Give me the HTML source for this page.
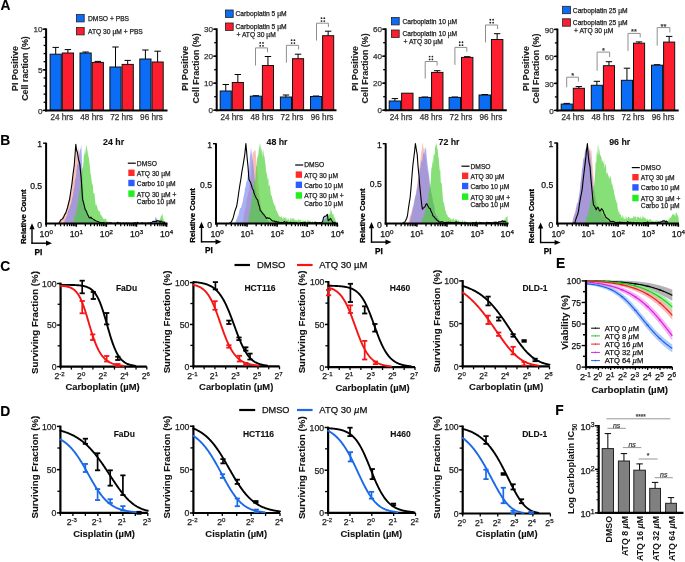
<!DOCTYPE html>
<html><head><meta charset="utf-8"><style>
html,body{margin:0;padding:0;background:#fff;}
svg{display:block;will-change:transform;filter:blur(0.3px);}
</style></head><body>
<svg width="685" height="562" viewBox="0 0 685 562" font-family='"Liberation Sans", sans-serif'>
<rect width="685" height="562" fill="#fff"/>
<text x="0.6" y="9.84" font-size="13.8" font-weight="bold" text-anchor="start" fill="#000" stroke="#000" stroke-width="0.12">A</text>
<line x1="43.6" y1="110.4" x2="46.1" y2="110.4" stroke="#000" stroke-width="1.3"/>
<line x1="43.6" y1="102.28" x2="46.1" y2="102.28" stroke="#000" stroke-width="1.3"/>
<line x1="43.6" y1="94.16" x2="46.1" y2="94.16" stroke="#000" stroke-width="1.3"/>
<line x1="43.6" y1="86.04" x2="46.1" y2="86.04" stroke="#000" stroke-width="1.3"/>
<line x1="43.6" y1="77.92" x2="46.1" y2="77.92" stroke="#000" stroke-width="1.3"/>
<line x1="43.6" y1="69.8" x2="46.1" y2="69.8" stroke="#000" stroke-width="1.3"/>
<line x1="43.6" y1="61.68" x2="46.1" y2="61.68" stroke="#000" stroke-width="1.3"/>
<line x1="43.6" y1="53.56" x2="46.1" y2="53.56" stroke="#000" stroke-width="1.3"/>
<line x1="43.6" y1="45.44" x2="46.1" y2="45.44" stroke="#000" stroke-width="1.3"/>
<line x1="43.6" y1="37.32" x2="46.1" y2="37.32" stroke="#000" stroke-width="1.3"/>
<line x1="43.6" y1="29.2" x2="46.1" y2="29.2" stroke="#000" stroke-width="1.3"/>
<line x1="55.7" y1="54.2" x2="55.7" y2="47.4" stroke="#000" stroke-width="1"/>
<line x1="52.5" y1="47.4" x2="58.9" y2="47.4" stroke="#000" stroke-width="1"/>
<rect x="50.1" y="54.2" width="11.2" height="56.2" fill="#0b6cf6" stroke="#111" stroke-width="1"/>
<line x1="67.9" y1="53" x2="67.9" y2="49.6" stroke="#000" stroke-width="1"/>
<line x1="64.7" y1="49.6" x2="71.1" y2="49.6" stroke="#000" stroke-width="1"/>
<rect x="62.3" y="53" width="11.2" height="57.4" fill="#fc1e2e" stroke="#111" stroke-width="1"/>
<line x1="85.6" y1="53" x2="85.6" y2="52" stroke="#000" stroke-width="1"/>
<line x1="82.4" y1="52" x2="88.8" y2="52" stroke="#000" stroke-width="1"/>
<rect x="80" y="53" width="11.2" height="57.4" fill="#0b6cf6" stroke="#111" stroke-width="1"/>
<line x1="97.8" y1="62.4" x2="97.8" y2="61.4" stroke="#000" stroke-width="1"/>
<line x1="94.6" y1="61.4" x2="101" y2="61.4" stroke="#000" stroke-width="1"/>
<rect x="92.2" y="62.4" width="11.2" height="48" fill="#fc1e2e" stroke="#111" stroke-width="1"/>
<line x1="115.5" y1="67" x2="115.5" y2="47" stroke="#000" stroke-width="1"/>
<line x1="112.3" y1="47" x2="118.7" y2="47" stroke="#000" stroke-width="1"/>
<rect x="109.9" y="67" width="11.2" height="43.4" fill="#0b6cf6" stroke="#111" stroke-width="1"/>
<line x1="127.7" y1="64.4" x2="127.7" y2="60.4" stroke="#000" stroke-width="1"/>
<line x1="124.5" y1="60.4" x2="130.9" y2="60.4" stroke="#000" stroke-width="1"/>
<rect x="122.1" y="64.4" width="11.2" height="46" fill="#fc1e2e" stroke="#111" stroke-width="1"/>
<line x1="145.4" y1="59" x2="145.4" y2="50" stroke="#000" stroke-width="1"/>
<line x1="142.2" y1="50" x2="148.6" y2="50" stroke="#000" stroke-width="1"/>
<rect x="139.8" y="59" width="11.2" height="51.4" fill="#0b6cf6" stroke="#111" stroke-width="1"/>
<line x1="157.6" y1="62" x2="157.6" y2="51.2" stroke="#000" stroke-width="1"/>
<line x1="154.4" y1="51.2" x2="160.8" y2="51.2" stroke="#000" stroke-width="1"/>
<rect x="152" y="62" width="11.2" height="48.4" fill="#fc1e2e" stroke="#111" stroke-width="1"/>
<line x1="46.1" y1="28.4" x2="46.1" y2="111.4" stroke="#000" stroke-width="2"/>
<line x1="45.1" y1="110.4" x2="167.5" y2="110.4" stroke="#000" stroke-width="2"/>
<line x1="42.6" y1="110.4" x2="46.1" y2="110.4" stroke="#000" stroke-width="1.4"/>
<text x="42.5" y="113.5" font-size="8.1" text-anchor="end" fill="#333" stroke="#333" stroke-width="0.25">0</text>
<line x1="42.6" y1="69.8" x2="46.1" y2="69.8" stroke="#000" stroke-width="1.4"/>
<text x="42.5" y="72.9" font-size="8.1" text-anchor="end" fill="#333" stroke="#333" stroke-width="0.25">5</text>
<line x1="42.6" y1="29.2" x2="46.1" y2="29.2" stroke="#000" stroke-width="1.4"/>
<text x="42.5" y="32.3" font-size="8.1" text-anchor="end" fill="#333" stroke="#333" stroke-width="0.25">10</text>
<text x="61.8" y="120.14" font-size="8.2" text-anchor="middle" fill="#333" stroke="#333" stroke-width="0.25">24 hrs</text>
<text x="91.7" y="120.14" font-size="8.2" text-anchor="middle" fill="#333" stroke="#333" stroke-width="0.25">48 hrs</text>
<text x="121.6" y="120.14" font-size="8.2" text-anchor="middle" fill="#333" stroke="#333" stroke-width="0.25">72 hrs</text>
<text x="151.5" y="120.14" font-size="8.2" text-anchor="middle" fill="#333" stroke="#333" stroke-width="0.25">96 hrs</text>
<text x="14.8" y="71.69" font-size="8.9" font-weight="bold" text-anchor="middle" fill="#222" stroke="#222" stroke-width="0.12" transform="rotate(-90 14.8 68.5)">PI Positive</text>
<text x="25.2" y="71.69" font-size="8.9" font-weight="bold" text-anchor="middle" fill="#222" stroke="#222" stroke-width="0.12" transform="rotate(-90 25.2 68.5)">Cell raction (%)</text>
<rect x="76.4" y="14.5" width="7.8" height="7.4" fill="#0b6cf6" stroke="#222" stroke-width="0.8"/>
<text x="88" y="20.8" font-size="6.7" text-anchor="start" fill="#222" stroke="#222" stroke-width="0.25">DMSO + PBS</text>
<rect x="76.4" y="27.5" width="7.8" height="7.4" fill="#fc1e2e" stroke="#222" stroke-width="0.8"/>
<text x="88" y="33.6" font-size="6.7" text-anchor="start" fill="#222" stroke="#222" stroke-width="0.25">ATQ 30 µM + PBS</text>
<line x1="214.2" y1="110.2" x2="216.7" y2="110.2" stroke="#000" stroke-width="1.3"/>
<line x1="214.2" y1="96.7" x2="216.7" y2="96.7" stroke="#000" stroke-width="1.3"/>
<line x1="214.2" y1="83.2" x2="216.7" y2="83.2" stroke="#000" stroke-width="1.3"/>
<line x1="214.2" y1="69.7" x2="216.7" y2="69.7" stroke="#000" stroke-width="1.3"/>
<line x1="214.2" y1="56.2" x2="216.7" y2="56.2" stroke="#000" stroke-width="1.3"/>
<line x1="214.2" y1="42.7" x2="216.7" y2="42.7" stroke="#000" stroke-width="1.3"/>
<line x1="214.2" y1="29.2" x2="216.7" y2="29.2" stroke="#000" stroke-width="1.3"/>
<line x1="225.75" y1="91" x2="225.75" y2="84.5" stroke="#000" stroke-width="1"/>
<line x1="222.55" y1="84.5" x2="228.95" y2="84.5" stroke="#000" stroke-width="1"/>
<rect x="220.2" y="91" width="11.1" height="19.2" fill="#0b6cf6" stroke="#111" stroke-width="1"/>
<line x1="237.85" y1="82.5" x2="237.85" y2="74.5" stroke="#000" stroke-width="1"/>
<line x1="234.65" y1="74.5" x2="241.05" y2="74.5" stroke="#000" stroke-width="1"/>
<rect x="232.3" y="82.5" width="11.1" height="27.7" fill="#fc1e2e" stroke="#111" stroke-width="1"/>
<line x1="255.85" y1="96.2" x2="255.85" y2="95.7" stroke="#000" stroke-width="1"/>
<line x1="252.65" y1="95.7" x2="259.05" y2="95.7" stroke="#000" stroke-width="1"/>
<rect x="250.3" y="96.2" width="11.1" height="14" fill="#0b6cf6" stroke="#111" stroke-width="1"/>
<line x1="267.95" y1="65.5" x2="267.95" y2="56.5" stroke="#000" stroke-width="1"/>
<line x1="264.75" y1="56.5" x2="271.15" y2="56.5" stroke="#000" stroke-width="1"/>
<rect x="262.4" y="65.5" width="11.1" height="44.7" fill="#fc1e2e" stroke="#111" stroke-width="1"/>
<line x1="285.95" y1="97" x2="285.95" y2="95" stroke="#000" stroke-width="1"/>
<line x1="282.75" y1="95" x2="289.15" y2="95" stroke="#000" stroke-width="1"/>
<rect x="280.4" y="97" width="11.1" height="13.2" fill="#0b6cf6" stroke="#111" stroke-width="1"/>
<line x1="298.05" y1="58.7" x2="298.05" y2="54.2" stroke="#000" stroke-width="1"/>
<line x1="294.85" y1="54.2" x2="301.25" y2="54.2" stroke="#000" stroke-width="1"/>
<rect x="292.5" y="58.7" width="11.1" height="51.5" fill="#fc1e2e" stroke="#111" stroke-width="1"/>
<line x1="316.05" y1="96.5" x2="316.05" y2="96" stroke="#000" stroke-width="1"/>
<line x1="312.85" y1="96" x2="319.25" y2="96" stroke="#000" stroke-width="1"/>
<rect x="310.5" y="96.5" width="11.1" height="13.7" fill="#0b6cf6" stroke="#111" stroke-width="1"/>
<line x1="328.15" y1="35.7" x2="328.15" y2="31.2" stroke="#000" stroke-width="1"/>
<line x1="324.95" y1="31.2" x2="331.35" y2="31.2" stroke="#000" stroke-width="1"/>
<rect x="322.6" y="35.7" width="11.1" height="74.5" fill="#fc1e2e" stroke="#111" stroke-width="1"/>
<line x1="216.7" y1="28.4" x2="216.7" y2="111.2" stroke="#000" stroke-width="2"/>
<line x1="215.7" y1="110.2" x2="336.5" y2="110.2" stroke="#000" stroke-width="2"/>
<line x1="213.2" y1="110.2" x2="216.7" y2="110.2" stroke="#000" stroke-width="1.4"/>
<text x="213.1" y="113.3" font-size="8.1" text-anchor="end" fill="#333" stroke="#333" stroke-width="0.25">0</text>
<line x1="213.2" y1="83.2" x2="216.7" y2="83.2" stroke="#000" stroke-width="1.4"/>
<text x="213.1" y="86.3" font-size="8.1" text-anchor="end" fill="#333" stroke="#333" stroke-width="0.25">10</text>
<line x1="213.2" y1="56.2" x2="216.7" y2="56.2" stroke="#000" stroke-width="1.4"/>
<text x="213.1" y="59.3" font-size="8.1" text-anchor="end" fill="#333" stroke="#333" stroke-width="0.25">20</text>
<line x1="213.2" y1="29.2" x2="216.7" y2="29.2" stroke="#000" stroke-width="1.4"/>
<text x="213.1" y="32.3" font-size="8.1" text-anchor="end" fill="#333" stroke="#333" stroke-width="0.25">30</text>
<text x="231.8" y="119.94" font-size="8.2" text-anchor="middle" fill="#333" stroke="#333" stroke-width="0.25">24 hrs</text>
<text x="261.9" y="119.94" font-size="8.2" text-anchor="middle" fill="#333" stroke="#333" stroke-width="0.25">48 hrs</text>
<text x="292" y="119.94" font-size="8.2" text-anchor="middle" fill="#333" stroke="#333" stroke-width="0.25">72 hrs</text>
<text x="322.1" y="119.94" font-size="8.2" text-anchor="middle" fill="#333" stroke="#333" stroke-width="0.25">96 hrs</text>
<text x="185.2" y="71.59" font-size="8.9" font-weight="bold" text-anchor="middle" fill="#222" stroke="#222" stroke-width="0.12" transform="rotate(-90 185.2 68.4)">PI Positive</text>
<text x="195.5" y="71.59" font-size="8.9" font-weight="bold" text-anchor="middle" fill="#222" stroke="#222" stroke-width="0.12" transform="rotate(-90 195.5 68.4)">Cell Fraction (%)</text>
<rect x="225.4" y="10" width="7.8" height="7.4" fill="#0b6cf6" stroke="#222" stroke-width="0.8"/>
<text x="235.5" y="16.3" font-size="6.7" text-anchor="start" fill="#222" stroke="#222" stroke-width="0.25">Carboplatin 5 µM</text>
<rect x="225.4" y="23" width="7.8" height="7.4" fill="#fc1e2e" stroke="#222" stroke-width="0.8"/>
<text x="235.5" y="28.8" font-size="6.7" text-anchor="start" fill="#222" stroke="#222" stroke-width="0.25">Carboplatin 5 µM</text>
<text x="236.5" y="36.6" font-size="6.7" text-anchor="start" fill="#222" stroke="#222" stroke-width="0.25">+ ATQ 30 µM</text>
<path d="M255.5 65.5 L255.5 47.9 L267.5 47.9 L267.5 52.2" stroke="#888" stroke-width="0.95" fill="none"/>
<circle cx="260.2" cy="42.95" r="0.9" fill="#222"/>
<circle cx="260.2" cy="45.85" r="0.9" fill="#222"/>
<circle cx="263" cy="42.95" r="0.9" fill="#222"/>
<circle cx="263" cy="45.85" r="0.9" fill="#222"/>
<path d="M286.4 62.7 L286.4 45.3 L298.6 45.3 L298.6 49.5" stroke="#888" stroke-width="0.95" fill="none"/>
<circle cx="291.6" cy="40.15" r="0.9" fill="#222"/>
<circle cx="291.6" cy="43.05" r="0.9" fill="#222"/>
<circle cx="294.4" cy="40.15" r="0.9" fill="#222"/>
<circle cx="294.4" cy="43.05" r="0.9" fill="#222"/>
<path d="M316.5 40.5 L316.5 23.2 L328.4 23.2 L328.4 27.1" stroke="#888" stroke-width="0.95" fill="none"/>
<circle cx="321.5" cy="18.15" r="0.9" fill="#222"/>
<circle cx="321.5" cy="21.05" r="0.9" fill="#222"/>
<circle cx="324.3" cy="18.15" r="0.9" fill="#222"/>
<circle cx="324.3" cy="21.05" r="0.9" fill="#222"/>
<line x1="383.2" y1="110.2" x2="385.7" y2="110.2" stroke="#000" stroke-width="1.3"/>
<line x1="383.2" y1="96.7" x2="385.7" y2="96.7" stroke="#000" stroke-width="1.3"/>
<line x1="383.2" y1="83.2" x2="385.7" y2="83.2" stroke="#000" stroke-width="1.3"/>
<line x1="383.2" y1="69.7" x2="385.7" y2="69.7" stroke="#000" stroke-width="1.3"/>
<line x1="383.2" y1="56.2" x2="385.7" y2="56.2" stroke="#000" stroke-width="1.3"/>
<line x1="383.2" y1="42.7" x2="385.7" y2="42.7" stroke="#000" stroke-width="1.3"/>
<line x1="383.2" y1="29.2" x2="385.7" y2="29.2" stroke="#000" stroke-width="1.3"/>
<line x1="394.9" y1="101" x2="394.9" y2="98.6" stroke="#000" stroke-width="1"/>
<line x1="391.7" y1="98.6" x2="398.1" y2="98.6" stroke="#000" stroke-width="1"/>
<rect x="389.2" y="101" width="11.4" height="9.2" fill="#0b6cf6" stroke="#111" stroke-width="1"/>
<rect x="401.6" y="93.2" width="11.4" height="17" fill="#fc1e2e" stroke="#111" stroke-width="1"/>
<line x1="424.85" y1="97.4" x2="424.85" y2="97" stroke="#000" stroke-width="1"/>
<line x1="421.65" y1="97" x2="428.05" y2="97" stroke="#000" stroke-width="1"/>
<rect x="419.15" y="97.4" width="11.4" height="12.8" fill="#0b6cf6" stroke="#111" stroke-width="1"/>
<line x1="437.25" y1="72.4" x2="437.25" y2="70.7" stroke="#000" stroke-width="1"/>
<line x1="434.05" y1="70.7" x2="440.45" y2="70.7" stroke="#000" stroke-width="1"/>
<rect x="431.55" y="72.4" width="11.4" height="37.8" fill="#fc1e2e" stroke="#111" stroke-width="1"/>
<line x1="454.8" y1="97.4" x2="454.8" y2="97" stroke="#000" stroke-width="1"/>
<line x1="451.6" y1="97" x2="458" y2="97" stroke="#000" stroke-width="1"/>
<rect x="449.1" y="97.4" width="11.4" height="12.8" fill="#0b6cf6" stroke="#111" stroke-width="1"/>
<line x1="467.2" y1="57.4" x2="467.2" y2="56.7" stroke="#000" stroke-width="1"/>
<line x1="464" y1="56.7" x2="470.4" y2="56.7" stroke="#000" stroke-width="1"/>
<rect x="461.5" y="57.4" width="11.4" height="52.8" fill="#fc1e2e" stroke="#111" stroke-width="1"/>
<line x1="484.75" y1="95" x2="484.75" y2="94.5" stroke="#000" stroke-width="1"/>
<line x1="481.55" y1="94.5" x2="487.95" y2="94.5" stroke="#000" stroke-width="1"/>
<rect x="479.05" y="95" width="11.4" height="15.2" fill="#0b6cf6" stroke="#111" stroke-width="1"/>
<line x1="497.15" y1="39.5" x2="497.15" y2="33.7" stroke="#000" stroke-width="1"/>
<line x1="493.95" y1="33.7" x2="500.35" y2="33.7" stroke="#000" stroke-width="1"/>
<rect x="491.45" y="39.5" width="11.4" height="70.7" fill="#fc1e2e" stroke="#111" stroke-width="1"/>
<line x1="385.7" y1="28.4" x2="385.7" y2="111.2" stroke="#000" stroke-width="2"/>
<line x1="384.7" y1="110.2" x2="506.8" y2="110.2" stroke="#000" stroke-width="2"/>
<line x1="382.2" y1="110.2" x2="385.7" y2="110.2" stroke="#000" stroke-width="1.4"/>
<text x="382.1" y="113.3" font-size="8.1" text-anchor="end" fill="#333" stroke="#333" stroke-width="0.25">0</text>
<line x1="382.2" y1="83.2" x2="385.7" y2="83.2" stroke="#000" stroke-width="1.4"/>
<text x="382.1" y="86.3" font-size="8.1" text-anchor="end" fill="#333" stroke="#333" stroke-width="0.25">20</text>
<line x1="382.2" y1="56.2" x2="385.7" y2="56.2" stroke="#000" stroke-width="1.4"/>
<text x="382.1" y="59.3" font-size="8.1" text-anchor="end" fill="#333" stroke="#333" stroke-width="0.25">40</text>
<line x1="382.2" y1="29.2" x2="385.7" y2="29.2" stroke="#000" stroke-width="1.4"/>
<text x="382.1" y="32.3" font-size="8.1" text-anchor="end" fill="#333" stroke="#333" stroke-width="0.25">60</text>
<text x="401.1" y="119.94" font-size="8.2" text-anchor="middle" fill="#333" stroke="#333" stroke-width="0.25">24 hrs</text>
<text x="431.05" y="119.94" font-size="8.2" text-anchor="middle" fill="#333" stroke="#333" stroke-width="0.25">48 hrs</text>
<text x="461" y="119.94" font-size="8.2" text-anchor="middle" fill="#333" stroke="#333" stroke-width="0.25">72 hrs</text>
<text x="490.95" y="119.94" font-size="8.2" text-anchor="middle" fill="#333" stroke="#333" stroke-width="0.25">96 hrs</text>
<text x="354.5" y="71.59" font-size="8.9" font-weight="bold" text-anchor="middle" fill="#222" stroke="#222" stroke-width="0.12" transform="rotate(-90 354.5 68.4)">PI Positive</text>
<text x="365" y="71.59" font-size="8.9" font-weight="bold" text-anchor="middle" fill="#222" stroke="#222" stroke-width="0.12" transform="rotate(-90 365 68.4)">Cell Fraction (%)</text>
<rect x="391.4" y="17.5" width="7.8" height="7.4" fill="#0b6cf6" stroke="#222" stroke-width="0.8"/>
<text x="402.4" y="23.8" font-size="6.7" text-anchor="start" fill="#222" stroke="#222" stroke-width="0.25">Carboplatin 10 µM</text>
<rect x="391.4" y="30" width="7.8" height="7.4" fill="#fc1e2e" stroke="#222" stroke-width="0.8"/>
<text x="402.4" y="35.8" font-size="6.7" text-anchor="start" fill="#222" stroke="#222" stroke-width="0.25">Carboplatin 10 µM</text>
<text x="403.5" y="44" font-size="6.7" text-anchor="start" fill="#222" stroke="#222" stroke-width="0.25">+ ATQ 30 µM</text>
<path d="M425.2 78.6 L425.2 61.5 L437.1 61.5 L437.1 65.5" stroke="#888" stroke-width="0.95" fill="none"/>
<circle cx="429.6" cy="56.55" r="0.9" fill="#222"/>
<circle cx="429.6" cy="59.45" r="0.9" fill="#222"/>
<circle cx="432.4" cy="56.55" r="0.9" fill="#222"/>
<circle cx="432.4" cy="59.45" r="0.9" fill="#222"/>
<path d="M454.9 64.9 L454.9 47.4 L466.8 47.4 L466.8 51.8" stroke="#888" stroke-width="0.95" fill="none"/>
<circle cx="459.7" cy="42.25" r="0.9" fill="#222"/>
<circle cx="459.7" cy="45.15" r="0.9" fill="#222"/>
<circle cx="462.5" cy="42.25" r="0.9" fill="#222"/>
<circle cx="462.5" cy="45.15" r="0.9" fill="#222"/>
<path d="M485.5 42.4 L485.5 25 L497.6 25 L497.6 29" stroke="#888" stroke-width="0.95" fill="none"/>
<circle cx="490.3" cy="19.75" r="0.9" fill="#222"/>
<circle cx="490.3" cy="22.65" r="0.9" fill="#222"/>
<circle cx="493.1" cy="19.75" r="0.9" fill="#222"/>
<circle cx="493.1" cy="22.65" r="0.9" fill="#222"/>
<line x1="554.9" y1="110.4" x2="557.4" y2="110.4" stroke="#000" stroke-width="1.3"/>
<line x1="554.9" y1="96.9" x2="557.4" y2="96.9" stroke="#000" stroke-width="1.3"/>
<line x1="554.9" y1="83.4" x2="557.4" y2="83.4" stroke="#000" stroke-width="1.3"/>
<line x1="554.9" y1="69.9" x2="557.4" y2="69.9" stroke="#000" stroke-width="1.3"/>
<line x1="554.9" y1="56.4" x2="557.4" y2="56.4" stroke="#000" stroke-width="1.3"/>
<line x1="554.9" y1="42.9" x2="557.4" y2="42.9" stroke="#000" stroke-width="1.3"/>
<line x1="554.9" y1="29.4" x2="557.4" y2="29.4" stroke="#000" stroke-width="1.3"/>
<line x1="566.75" y1="104.1" x2="566.75" y2="103.4" stroke="#000" stroke-width="1"/>
<line x1="563.55" y1="103.4" x2="569.95" y2="103.4" stroke="#000" stroke-width="1"/>
<rect x="561.2" y="104.1" width="11.1" height="6.3" fill="#0b6cf6" stroke="#111" stroke-width="1"/>
<line x1="578.85" y1="88.3" x2="578.85" y2="86.6" stroke="#000" stroke-width="1"/>
<line x1="575.65" y1="86.6" x2="582.05" y2="86.6" stroke="#000" stroke-width="1"/>
<rect x="573.3" y="88.3" width="11.1" height="22.1" fill="#fc1e2e" stroke="#111" stroke-width="1"/>
<line x1="596.85" y1="85.3" x2="596.85" y2="81.3" stroke="#000" stroke-width="1"/>
<line x1="593.65" y1="81.3" x2="600.05" y2="81.3" stroke="#000" stroke-width="1"/>
<rect x="591.3" y="85.3" width="11.1" height="25.1" fill="#0b6cf6" stroke="#111" stroke-width="1"/>
<line x1="608.95" y1="65.7" x2="608.95" y2="61.7" stroke="#000" stroke-width="1"/>
<line x1="605.75" y1="61.7" x2="612.15" y2="61.7" stroke="#000" stroke-width="1"/>
<rect x="603.4" y="65.7" width="11.1" height="44.7" fill="#fc1e2e" stroke="#111" stroke-width="1"/>
<line x1="626.95" y1="80.3" x2="626.95" y2="68.2" stroke="#000" stroke-width="1"/>
<line x1="623.75" y1="68.2" x2="630.15" y2="68.2" stroke="#000" stroke-width="1"/>
<rect x="621.4" y="80.3" width="11.1" height="30.1" fill="#0b6cf6" stroke="#111" stroke-width="1"/>
<line x1="639.05" y1="43.2" x2="639.05" y2="41.9" stroke="#000" stroke-width="1"/>
<line x1="635.85" y1="41.9" x2="642.25" y2="41.9" stroke="#000" stroke-width="1"/>
<rect x="633.5" y="43.2" width="11.1" height="67.2" fill="#fc1e2e" stroke="#111" stroke-width="1"/>
<line x1="657.05" y1="65.2" x2="657.05" y2="64.7" stroke="#000" stroke-width="1"/>
<line x1="653.85" y1="64.7" x2="660.25" y2="64.7" stroke="#000" stroke-width="1"/>
<rect x="651.5" y="65.2" width="11.1" height="45.2" fill="#0b6cf6" stroke="#111" stroke-width="1"/>
<line x1="669.15" y1="42.1" x2="669.15" y2="36.4" stroke="#000" stroke-width="1"/>
<line x1="665.95" y1="36.4" x2="672.35" y2="36.4" stroke="#000" stroke-width="1"/>
<rect x="663.6" y="42.1" width="11.1" height="68.3" fill="#fc1e2e" stroke="#111" stroke-width="1"/>
<line x1="557.4" y1="28.6" x2="557.4" y2="111.4" stroke="#000" stroke-width="2"/>
<line x1="556.4" y1="110.4" x2="678.7" y2="110.4" stroke="#000" stroke-width="2"/>
<line x1="553.9" y1="110.4" x2="557.4" y2="110.4" stroke="#000" stroke-width="1.4"/>
<text x="553.8" y="113.5" font-size="8.1" text-anchor="end" fill="#333" stroke="#333" stroke-width="0.25">0</text>
<line x1="553.9" y1="83.4" x2="557.4" y2="83.4" stroke="#000" stroke-width="1.4"/>
<text x="553.8" y="86.5" font-size="8.1" text-anchor="end" fill="#333" stroke="#333" stroke-width="0.25">30</text>
<line x1="553.9" y1="56.4" x2="557.4" y2="56.4" stroke="#000" stroke-width="1.4"/>
<text x="553.8" y="59.5" font-size="8.1" text-anchor="end" fill="#333" stroke="#333" stroke-width="0.25">60</text>
<line x1="553.9" y1="29.4" x2="557.4" y2="29.4" stroke="#000" stroke-width="1.4"/>
<text x="553.8" y="32.5" font-size="8.1" text-anchor="end" fill="#333" stroke="#333" stroke-width="0.25">90</text>
<text x="572.8" y="120.14" font-size="8.2" text-anchor="middle" fill="#333" stroke="#333" stroke-width="0.25">24 hrs</text>
<text x="602.9" y="120.14" font-size="8.2" text-anchor="middle" fill="#333" stroke="#333" stroke-width="0.25">48 hrs</text>
<text x="633" y="120.14" font-size="8.2" text-anchor="middle" fill="#333" stroke="#333" stroke-width="0.25">72 hrs</text>
<text x="663.1" y="120.14" font-size="8.2" text-anchor="middle" fill="#333" stroke="#333" stroke-width="0.25">96 hrs</text>
<text x="525.5" y="71.79" font-size="8.9" font-weight="bold" text-anchor="middle" fill="#222" stroke="#222" stroke-width="0.12" transform="rotate(-90 525.5 68.6)">PI Positive</text>
<text x="536.1" y="71.79" font-size="8.9" font-weight="bold" text-anchor="middle" fill="#222" stroke="#222" stroke-width="0.12" transform="rotate(-90 536.1 68.6)">Cell Fraction (%)</text>
<rect x="562.6" y="6.3" width="7.8" height="7.4" fill="#0b6cf6" stroke="#222" stroke-width="0.8"/>
<text x="572.8" y="12.6" font-size="6.7" text-anchor="start" fill="#222" stroke="#222" stroke-width="0.25">Carboplatin 25 µM</text>
<rect x="562.6" y="18.8" width="7.8" height="7.4" fill="#fc1e2e" stroke="#222" stroke-width="0.8"/>
<text x="572.8" y="25.2" font-size="6.7" text-anchor="start" fill="#222" stroke="#222" stroke-width="0.25">Carboplatin 25 µM</text>
<text x="574" y="33.4" font-size="6.7" text-anchor="start" fill="#222" stroke="#222" stroke-width="0.25">+ ATQ 30 µM</text>
<path d="M566.7 87.3 L566.7 77.2 L578.4 77.2 L578.4 81.5" stroke="#888" stroke-width="0.95" fill="none"/>
<text x="572.6" y="78.24" font-size="7.5" text-anchor="middle" fill="#333" stroke="#333" stroke-width="0.25">*</text>
<path d="M597.1 70.7 L597.1 52.1 L609.6 52.1 L609.6 57" stroke="#888" stroke-width="0.95" fill="none"/>
<text x="603.4" y="52.84" font-size="7.5" text-anchor="middle" fill="#333" stroke="#333" stroke-width="0.25">*</text>
<path d="M628 50.9 L628 33.4 L640.2 33.4 L640.2 37.4" stroke="#888" stroke-width="0.95" fill="none"/>
<text x="633.9" y="34.44" font-size="7.5" text-anchor="middle" fill="#333" stroke="#333" stroke-width="0.25">**</text>
<path d="M657.2 45.6 L657.2 27.6 L669.8 27.6 L669.8 32.5" stroke="#888" stroke-width="0.95" fill="none"/>
<text x="663.5" y="29.13" font-size="7.5" text-anchor="middle" fill="#333" stroke="#333" stroke-width="0.25">**</text>
<text x="0.2" y="145.24" font-size="13.8" font-weight="bold" text-anchor="start" fill="#000" stroke="#000" stroke-width="0.12">B</text>
<path d="M58 223.6 L58 223.23 L58.5 223.08 L59 222.76 L59.5 221.18 L60 219.91 L60.5 220.05 L61 219.76 L61.5 219.56 L62 217 L62.5 216 L63 216.86 L63.5 215.78 L64 215.93 L64.5 214.54 L65 212.56 L65.5 211.49 L66 213.68 L66.5 209.68 L67.02 206.86 L67.54 204.15 L68.07 203.46 L68.59 201.31 L69.11 198.41 L69.63 196.58 L70.16 194.85 L70.68 193.28 L71.2 191.73 L71.78 186.6 L72.35 179.44 L72.92 179.99 L73.5 172.4 L74.07 170.78 L74.63 164.32 L75.2 163.3 L75.85 152.99 L76.5 146.48 L77 154.34 L77.5 147.89 L78 150.85 L78.5 147.11 L79 152.63 L79.5 157.89 L80 159.56 L80.5 163.75 L81 168.87 L81.5 172.48 L82 180.99 L82.5 185.34 L83 196.16 L83.5 199.31 L84 203.3 L84.5 204.8 L85 208.33 L85.5 208.92 L86 213.05 L86.5 212.54 L87 214.6 L87.5 214.61 L88 214.8 L88.5 214.61 L89 216.7 L89.5 217.08 L90 218.73 L90.5 217.69 L91 219.1 L91.5 219.72 L92 220.2 L92.5 220.33 L93 220.49 L93.5 220.13 L94 220.04 L94.5 220.64 L95 221.46 L95.5 222.22 L96 222.05 L96.5 222.26 L97 222.26 L97.5 222.39 L98 222.26 L98.5 222.76 L99 223.46 L99.5 222.53 L100 222.54 L100.5 223.6 L101 223.35 L101.5 223.6 L102 223.6 L102 223.6 Z" fill="rgb(245,75,50)" fill-opacity="0.35"/>
<path d="M63.5 223.6 L63.5 223.17 L64 222.49 L64.5 220.95 L65 219.54 L65.5 219.42 L66 217.47 L66.5 215.94 L67 216.65 L67.5 213.22 L68 211.17 L68.5 209.76 L69 209.42 L69.52 208.55 L70.04 206.61 L70.57 204.8 L71.09 203.6 L71.61 201.29 L72.13 197.63 L72.66 196.47 L73.18 193.28 L73.7 189.17 L74.23 187.62 L74.76 182.55 L75.29 178.27 L75.81 178.53 L76.34 172.5 L76.87 166.26 L77.4 163.25 L77.93 164.93 L78.45 156.24 L78.97 155.04 L79.5 151.49 L80.1 149.76 L80.7 148.45 L81.3 144.53 L82.1 162.67 L82.9 186.83 L83.43 192.53 L83.97 200.22 L84.5 207.02 L85 205.55 L85.5 208.85 L86 208.66 L86.5 210.59 L87 212.67 L87.5 214.59 L88 215.65 L88.5 214.13 L89 218.13 L89.5 217.1 L90 217.22 L90.5 218.75 L91 218.14 L91.5 217.93 L92 219.84 L92.5 220.21 L93 219.74 L93.5 221.32 L94 221.42 L94.5 220.9 L95 223.06 L95.5 222.28 L96 221.56 L96.5 222.55 L97 222.46 L97.5 223 L98 221.84 L98.5 223.2 L99 223.22 L99.5 223.18 L100 223.22 L100.5 223.6 L101 223.43 L101.5 223.24 L102 222.9 L102.5 223.6 L103 223.6 L103.5 223.6 L104 223.6 L104.5 223.6 L105 222.85 L105.5 223.6 L106 222.86 L106.5 223.6 L107 223.6 L107.5 223.6 L108 223.47 L108.5 223.6 L109 223.59 L109.5 222.94 L110 223.6 L110.5 223.6 L111 223.6 L111.5 223.33 L112 223.6 L112.5 223.6 L113 223.6 L113.5 223.6 L114 223.6 L114.5 223.49 L115 223.53 L115.5 223.6 L116 223.37 L116.5 223.6 L117 223.6 L117.5 223.23 L118 223.6 L118.5 223.6 L119 223.18 L119.5 223.6 L120 223.54 L120.5 223.6 L121 223.6 L121.5 223.49 L122 223.44 L122.5 223.6 L123 223.47 L123.5 223.6 L124 223.14 L124.5 223.56 L125 223.54 L125.5 223.4 L126 223.55 L126.5 223.6 L127 223.41 L127.5 223.18 L128 223.6 L128.5 223.6 L129 223.4 L129.5 223.6 L130 222.83 L130.5 223.6 L131 223.21 L131.5 223.45 L132 223.6 L132.5 223.23 L133 223.6 L133.5 223.29 L134 223.05 L134.5 223.26 L135 223.6 L135.5 223.22 L136 223.43 L136.5 223.6 L137 223.57 L137.5 223.22 L138 223.6 L138.5 223.6 L139 223.6 L139.5 223.3 L140 223.6 L140.5 223.2 L141 223.08 L141.5 223.48 L142 223.5 L142.5 223.6 L143 223.44 L143.5 223.6 L144 223.6 L144.5 223.42 L145 223.2 L145.5 223.49 L146 223.6 L146.5 223.6 L147 223.51 L147.5 223.31 L148 223.6 L148.5 223.6 L149 223.4 L149.5 223.6 L150 223.6 L150.5 223.53 L151 222.94 L151.5 223.6 L152 222.84 L152.5 221.84 L153 222.87 L153.5 221.99 L154 222.66 L154.57 220.38 L155.13 218 L155.7 216.89 L156.27 217.65 L156.85 218.75 L157.43 220.72 L158 222.51 L158.5 222.46 L159 222.78 L159.5 222.97 L160 223.6 L160 223.6 Z" fill="rgb(110,125,238)" fill-opacity="0.6"/>
<path d="M72.7 223.6 L72.7 223.57 L73.26 222.92 L73.82 218.99 L74.38 215.85 L74.94 216.27 L75.5 214.89 L76.04 212.34 L76.58 210.31 L77.12 207.07 L77.66 203.99 L78.2 201.39 L78.75 197.12 L79.3 191.55 L79.85 189.21 L80.4 183.41 L80.95 173.65 L81.5 173.36 L82 168.61 L82.5 168.82 L83 167.07 L83.5 161.62 L84 152.08 L84.5 156.21 L85.08 147.56 L85.65 154.78 L86.22 145.95 L86.8 145.25 L87.3 154.92 L87.8 147.81 L88.3 156.7 L88.8 157.18 L89.3 162.37 L89.88 165.72 L90.46 173.67 L91.04 175.2 L91.62 180.84 L92.2 185.54 L92.75 183.34 L93.3 193.33 L93.85 192.92 L94.4 193.25 L94.95 198.43 L95.5 204.37 L96 205.75 L96.5 204.01 L97 206.56 L97.5 207.97 L98 210.42 L98.5 209.77 L99 212.62 L99.5 210.68 L100 211.77 L100.5 214.52 L101 215.38 L101.5 215.16 L102 216.79 L102.5 217.09 L103 218.22 L103.5 219.14 L104 218.86 L104.5 219.65 L105 218.82 L105.5 219.15 L106 217.89 L106.5 221.06 L107 221.18 L107.5 222.08 L108 220.62 L108.5 222.23 L109 222.28 L109.5 221.52 L110 223.5 L110.5 223.6 L111 222.25 L111.5 223.45 L112 223.6 L112.5 222.67 L113 223.6 L113.5 223.6 L114 223.6 L114.5 223.09 L115 223.21 L115.5 223.6 L116 223.6 L116.5 223.13 L117 223.34 L117.5 223.19 L118 223.6 L118.5 223.42 L119 223.6 L119.5 223.6 L120 223.6 L120.5 223.6 L121 223.6 L121.5 223.6 L122 223.6 L122.5 223.13 L123 223.43 L123.5 223.6 L124 223.6 L124.5 223.5 L125 223.6 L125.5 223.6 L126 223.6 L126.5 223.6 L127 223.6 L127.5 223.54 L128 223.6 L128.5 223.6 L129 223.6 L129.5 223.09 L130 223.6 L130.5 223.6 L131 223.6 L131.5 222.54 L132 223.6 L132.5 223.15 L133 223.55 L133.5 223.44 L134 223.31 L134.5 223.6 L135 223.6 L135.5 223.6 L136 223.25 L136.5 223.57 L137 223.6 L137.5 223.6 L138 223.35 L138.5 223.28 L139 223.4 L139.5 223.6 L140 223.6 L140.5 223.6 L141 223.6 L141.5 223.6 L142 223.6 L142.5 223.6 L143 223.6 L143.5 223.57 L144 223.58 L144.5 223.6 L145 223.34 L145.5 223.09 L146 223.6 L146.5 223.44 L147 223.6 L147.5 223.4 L148 223.6 L148.5 223.6 L149 223.45 L149.5 223.6 L150 223.35 L150.53 223.32 L151.06 223.6 L151.59 223.55 L152.11 223.21 L152.64 222.59 L153.17 223.45 L153.7 223.6 L154.23 221.23 L154.76 223.41 L155.29 222.7 L155.81 223.26 L156.34 223.21 L156.87 221.4 L157.4 223.48 L157.92 220.98 L158.44 220.67 L158.96 220.92 L159.48 219.62 L160 219.4 L160.6 217.33 L161.2 215.46 L161.8 215.56 L162.4 212.87 L162.9 217.96 L163.4 218.5 L163.9 221.55 L164.4 221.09 L164.93 221.1 L165.47 221.68 L166 223.49 L166 223.6 Z" fill="rgb(73,207,49)" fill-opacity="0.66"/>
<path d="M58.6 223.23 L59.45 222.46 L60.3 220.7 L61.15 219.63 L62 219.17 L62.92 218.5 L63.85 216.52 L64.78 214.33 L65.7 213.17 L66.67 210.06 L67.65 207.22 L68.62 203.04 L69.6 199.24 L70.75 191.48 L71.9 183.99 L73.1 173.67 L74.3 165.04 L75.8 144.37 L76.6 150.28 L77.4 152.47 L78.6 159.89 L79.8 163.91 L81.3 179.87 L82.6 199.65 L83.47 202.3 L84.33 205.84 L85.2 209.6 L86.17 210.75 L87.15 213.47 L88.12 215.62 L89.1 217.54 L89.98 218.04 L90.86 217.15 L91.73 218.44 L92.61 218.49 L93.49 219.74 L94.37 219.88 L95.24 220.46 L96.12 221.07 L97 221.19 L97.94 221.77 L98.88 221.81 L99.82 223.05 L100.76 222.55 L101.7 223.01 L102.53 222.51 L103.36 222.61 L104.2 222.8 L105.03 223.27 L105.86 223.27 L106.69 223.14 L107.52 222.89 L108.35 223.6 L109.19 222.8 L110.02 222.86 L110.85 223.25 L111.68 222.84 L112.51 223.2 L113.35 223.41 L114.18 223.13 L115.01 223.27 L115.84 223.18 L116.67 222.99 L117.5 222.32 L118.34 222.86 L119.17 223.2 L120 222.76 L120.81 223.05 L121.62 223.26 L122.43 223.56 L123.24 222.81 L124.05 223.04 L124.86 223.24 L125.68 223.32 L126.49 222.79 L127.3 223.67 L128.11 222.93 L128.92 223.45 L129.73 223.09 L130.54 223.25 L131.35 223.6 L132.16 223.33 L132.97 223.16 L133.78 222.84 L134.59 222.93 L135.41 222.71 L136.22 223.67 L137.03 222.66 L137.84 222.36 L138.65 223.55 L139.46 223.44 L140.27 222.97 L141.08 223.31 L141.89 222.83 L142.7 222.89 L143.51 223.2 L144.32 223.16 L145.14 222.91 L145.95 223.5 L146.76 223.24 L147.57 223.07 L148.38 222.68 L149.19 223.06 L150 222.92 L151 222.49 L152 222.29 L153 221.3 L153.8 221.51 L154.6 221.61 L155.4 221.35 L156.2 222 L157 220.33 L157.8 221.09 L158.6 220.76 L159.4 221.29 L160.2 222.35 L161 220.9 L161.8 221.61 L162.6 222.14 L163.4 222.14 L164.2 222.62 L165 222.01" stroke="#000" stroke-width="1.1" fill="none" stroke-linejoin="round"/>
<line x1="46.1" y1="142.7" x2="46.1" y2="224.6" stroke="#000" stroke-width="2"/>
<line x1="45.1" y1="223.6" x2="167.5" y2="223.6" stroke="#000" stroke-width="2"/>
<line x1="43.1" y1="143.2" x2="46.1" y2="143.2" stroke="#000" stroke-width="1.4"/>
<text x="42.1" y="147.48" font-size="8.6" text-anchor="end" fill="#111" stroke="#111" stroke-width="0.25">1</text>
<text x="42.1" y="188.88" font-size="8.6" text-anchor="end" fill="#111" stroke="#111" stroke-width="0.25">0.5</text>
<text x="42.1" y="228.08" font-size="8.6" text-anchor="end" fill="#111" stroke="#111" stroke-width="0.25">0</text>
<line x1="46.2" y1="223.6" x2="46.2" y2="226.8" stroke="#000" stroke-width="1.5"/>
<line x1="55.26" y1="223.6" x2="55.26" y2="226.2" stroke="#000" stroke-width="1.3"/>
<line x1="60.56" y1="223.6" x2="60.56" y2="226.2" stroke="#000" stroke-width="1.3"/>
<line x1="64.32" y1="223.6" x2="64.32" y2="226.2" stroke="#000" stroke-width="1.3"/>
<line x1="67.24" y1="223.6" x2="67.24" y2="226.2" stroke="#000" stroke-width="1.3"/>
<line x1="69.62" y1="223.6" x2="69.62" y2="226.2" stroke="#000" stroke-width="1.3"/>
<line x1="71.64" y1="223.6" x2="71.64" y2="226.2" stroke="#000" stroke-width="1.3"/>
<line x1="73.38" y1="223.6" x2="73.38" y2="226.2" stroke="#000" stroke-width="1.3"/>
<line x1="74.92" y1="223.6" x2="74.92" y2="226.2" stroke="#000" stroke-width="1.3"/>
<text x="46.2" y="237.05" font-size="8.8" text-anchor="middle" fill="#111" stroke="#111" stroke-width="0.25">10<tspan font-size="70%" dy="-3">0</tspan></text>
<line x1="76.3" y1="223.6" x2="76.3" y2="226.8" stroke="#000" stroke-width="1.5"/>
<line x1="85.36" y1="223.6" x2="85.36" y2="226.2" stroke="#000" stroke-width="1.3"/>
<line x1="90.66" y1="223.6" x2="90.66" y2="226.2" stroke="#000" stroke-width="1.3"/>
<line x1="94.42" y1="223.6" x2="94.42" y2="226.2" stroke="#000" stroke-width="1.3"/>
<line x1="97.34" y1="223.6" x2="97.34" y2="226.2" stroke="#000" stroke-width="1.3"/>
<line x1="99.72" y1="223.6" x2="99.72" y2="226.2" stroke="#000" stroke-width="1.3"/>
<line x1="101.74" y1="223.6" x2="101.74" y2="226.2" stroke="#000" stroke-width="1.3"/>
<line x1="103.48" y1="223.6" x2="103.48" y2="226.2" stroke="#000" stroke-width="1.3"/>
<line x1="105.02" y1="223.6" x2="105.02" y2="226.2" stroke="#000" stroke-width="1.3"/>
<text x="76.3" y="237.05" font-size="8.8" text-anchor="middle" fill="#111" stroke="#111" stroke-width="0.25">10<tspan font-size="70%" dy="-3">1</tspan></text>
<line x1="106.4" y1="223.6" x2="106.4" y2="226.8" stroke="#000" stroke-width="1.5"/>
<line x1="115.46" y1="223.6" x2="115.46" y2="226.2" stroke="#000" stroke-width="1.3"/>
<line x1="120.76" y1="223.6" x2="120.76" y2="226.2" stroke="#000" stroke-width="1.3"/>
<line x1="124.52" y1="223.6" x2="124.52" y2="226.2" stroke="#000" stroke-width="1.3"/>
<line x1="127.44" y1="223.6" x2="127.44" y2="226.2" stroke="#000" stroke-width="1.3"/>
<line x1="129.82" y1="223.6" x2="129.82" y2="226.2" stroke="#000" stroke-width="1.3"/>
<line x1="131.84" y1="223.6" x2="131.84" y2="226.2" stroke="#000" stroke-width="1.3"/>
<line x1="133.58" y1="223.6" x2="133.58" y2="226.2" stroke="#000" stroke-width="1.3"/>
<line x1="135.12" y1="223.6" x2="135.12" y2="226.2" stroke="#000" stroke-width="1.3"/>
<text x="106.4" y="237.05" font-size="8.8" text-anchor="middle" fill="#111" stroke="#111" stroke-width="0.25">10<tspan font-size="70%" dy="-3">2</tspan></text>
<line x1="136.5" y1="223.6" x2="136.5" y2="226.8" stroke="#000" stroke-width="1.5"/>
<line x1="145.56" y1="223.6" x2="145.56" y2="226.2" stroke="#000" stroke-width="1.3"/>
<line x1="150.86" y1="223.6" x2="150.86" y2="226.2" stroke="#000" stroke-width="1.3"/>
<line x1="154.62" y1="223.6" x2="154.62" y2="226.2" stroke="#000" stroke-width="1.3"/>
<line x1="157.54" y1="223.6" x2="157.54" y2="226.2" stroke="#000" stroke-width="1.3"/>
<line x1="159.92" y1="223.6" x2="159.92" y2="226.2" stroke="#000" stroke-width="1.3"/>
<line x1="161.94" y1="223.6" x2="161.94" y2="226.2" stroke="#000" stroke-width="1.3"/>
<line x1="163.68" y1="223.6" x2="163.68" y2="226.2" stroke="#000" stroke-width="1.3"/>
<line x1="165.22" y1="223.6" x2="165.22" y2="226.2" stroke="#000" stroke-width="1.3"/>
<text x="136.5" y="237.05" font-size="8.8" text-anchor="middle" fill="#111" stroke="#111" stroke-width="0.25">10<tspan font-size="70%" dy="-3">3</tspan></text>
<line x1="166.6" y1="223.6" x2="166.6" y2="226.8" stroke="#000" stroke-width="1.5"/>
<text x="166.6" y="237.05" font-size="8.8" text-anchor="middle" fill="#111" stroke="#111" stroke-width="0.25">10<tspan font-size="70%" dy="-3">4</tspan></text>
<text x="113.6" y="144.65" font-size="8.8" font-weight="bold" text-anchor="middle" fill="#111" stroke="#111" stroke-width="0.12">24 hr</text>
<line x1="127.8" y1="163.2" x2="135.8" y2="163.2" stroke="#000" stroke-width="1.2"/>
<text x="136.8" y="165.6" font-size="6.7" text-anchor="start" fill="#222" stroke="#222" stroke-width="0.25">DMSO</text>
<rect x="128.3" y="169.6" width="6.3" height="6.4" fill="#ff2a2a"/>
<text x="136.8" y="175.9" font-size="6.7" text-anchor="start" fill="#222" stroke="#222" stroke-width="0.25">ATQ 30 µM</text>
<rect x="128.3" y="179.8" width="6.3" height="6.4" fill="#2a5cff"/>
<text x="136.8" y="185.8" font-size="6.7" text-anchor="start" fill="#222" stroke="#222" stroke-width="0.25">Carbo 10 µM</text>
<rect x="128.3" y="190.4" width="6.3" height="6.5" fill="#22ee22"/>
<text x="136.8" y="196.5" font-size="6.7" text-anchor="start" fill="#222" stroke="#222" stroke-width="0.25">ATQ 30 µM +</text>
<text x="136.8" y="203.9" font-size="6.7" text-anchor="start" fill="#222" stroke="#222" stroke-width="0.25">Carbo 10 µM</text>
<text x="23.4" y="219.59" font-size="7.8" font-weight="bold" text-anchor="middle" fill="#000" stroke="#000" stroke-width="0.25" transform="rotate(-90 23.4 216.8)">Relative Count</text>
<path d="M32 243.8 L32 227" stroke="#000" stroke-width="1.4" fill="none"/>
<path d="M29.4 229.3 L32 223.2 L34.6 229.3 Z" fill="#000"/>
<path d="M31.4 243.2 L48 243.2" stroke="#000" stroke-width="1.4" fill="none"/>
<path d="M46 240.6 L52 243.2 L46 245.8 Z" fill="#000"/>
<text x="38.3" y="254.74" font-size="8.2" font-weight="bold" text-anchor="middle" fill="#000" stroke="#000" stroke-width="0.25">PI</text>
<path d="M242.5 223.6 L242.5 223.23 L243.04 221.08 L243.59 218.87 L244.13 214.81 L244.67 211.14 L245.21 209.67 L245.76 207.54 L246.3 205.59 L246.82 199.52 L247.33 196.28 L247.85 196.09 L248.37 192.73 L248.88 191.4 L249.4 187.52 L249.97 181.12 L250.55 176.2 L251.12 176.93 L251.7 166.94 L252.5 153.64 L253 151.43 L253.5 152.64 L254 151.32 L254.5 149.92 L255 150.2 L255.5 150.6 L256 156.47 L256.5 162.25 L257 167.91 L257.5 171.72 L258 182.88 L258.5 186.05 L259 194.75 L259.5 195.4 L260 200 L260.5 201.48 L261 205.27 L261.5 211.4 L262 209.95 L262.5 211.91 L263 210.61 L263.5 212.71 L264 214.65 L264.5 214.91 L265 216.34 L265.5 217.09 L266 217.17 L266.5 219.01 L267 218.5 L267.5 221.06 L268 219.88 L268.5 221.26 L269 221.36 L269.5 222.48 L270 222.16 L270.5 223.5 L271 223.56 L271 223.6 Z" fill="rgb(245,75,50)" fill-opacity="0.35"/>
<path d="M235 223.6 L235 223.17 L235.5 222.37 L236 220.7 L236.5 219.17 L237 218.95 L237.5 216.87 L238 215.2 L238.5 215.86 L239 212.23 L239.5 210.02 L240 208.49 L240.5 208.05 L241 208.08 L241.51 205.99 L242.02 204.04 L242.53 202.7 L243.04 200.23 L243.56 196.39 L244.07 195.09 L244.58 191.73 L245.09 187.43 L245.6 187.34 L246.1 183.53 L246.6 180.52 L247.1 181.92 L247.6 177.21 L248.1 172.34 L248.6 170.55 L249.2 169.26 L249.8 157.89 L250.4 153.87 L251 147.53 L251.7 152.99 L252.4 158.86 L252.93 161.46 L253.47 166.36 L254 171.8 L254.5 175.94 L255 182.52 L255.5 188.18 L256 188.67 L256.5 193.43 L257 193.62 L257.5 196.58 L258 199.75 L258.5 202.72 L259 204.52 L259.5 203.1 L260 209.23 L260.5 208.5 L261 209.35 L261.5 212.05 L262 211.93 L262.5 212.37 L263 215.52 L263.5 215.94 L264 215.29 L264.5 217.3 L265 217.38 L265.5 216.58 L266 219.5 L266.5 218.76 L267 218.15 L267.5 219.88 L268 220.13 L268.5 221.21 L269 220.14 L269.5 222.19 L270 222.58 L270.5 222.56 L271 222.64 L271.5 223.15 L272 222.95 L272.5 222.76 L273 222.41 L273.5 223.5 L274 223.55 L274.5 223.36 L275 223.42 L275.5 223.6 L276 222.85 L276.5 223.6 L277 222.86 L277.5 223.6 L278 223.6 L278.5 223.6 L279 223.47 L279.5 223.6 L280 223.59 L280.5 222.94 L281 223.6 L281.5 223.6 L282 223.6 L282.5 223.33 L283 223.6 L283.5 223.6 L284 223.6 L284.5 223.6 L285 223.6 L285.5 223.49 L286 223.53 L286.5 223.6 L287 223.37 L287.5 223.6 L288 223.6 L288.5 223.23 L289 223.6 L289.5 223.6 L290 223.18 L290.5 223.6 L291 223.54 L291.5 223.6 L292 223.6 L292.5 223.49 L293 223.44 L293.5 223.6 L294 223.47 L294.5 223.6 L295 223.14 L295.5 223.56 L296 223.54 L296.5 223.4 L297 223.55 L297.5 223.6 L298 223.41 L298.5 223.18 L299 223.6 L299.5 223.6 L300 223.4 L300.5 223.6 L301 222.83 L301.5 223.6 L302 223.21 L302.5 223.45 L303 223.6 L303.5 223.23 L304 223.6 L304.5 223.29 L305 223.05 L305.5 223.26 L306 223.6 L306.5 223.22 L307 223.43 L307.5 223.6 L308 223.57 L308.5 223.22 L309 223.6 L309.5 223.6 L310 223.6 L310.5 223.3 L311 223.6 L311.5 223.2 L312 223.08 L312.5 223.48 L313 223.5 L313.5 223.6 L314 223.44 L314.5 223.6 L315 223.6 L315.5 223.42 L316 223.2 L316.5 223.49 L317 223.6 L317.5 223.6 L318 223.51 L318.5 223.31 L319 223.6 L319.5 223.6 L320 223.4 L320.5 223.6 L321 223.6 L321.5 222.85 L322 221.41 L322.5 221.79 L323 219.98 L323.5 217.87 L324 219.04 L324.5 217.35 L325 217.98 L325.5 216.94 L326 215.98 L326.5 216.45 L327 215.59 L327.5 216.66 L328 218.72 L328.5 220.64 L329 219.84 L329.5 219.47 L330 218.86 L330.5 219.48 L331 220.15 L331.5 221.52 L332 222.01 L332.5 223.6 L333 223.14 L333 223.6 Z" fill="rgb(110,125,238)" fill-opacity="0.6"/>
<path d="M247.9 223.6 L247.9 223.57 L248.4 222.01 L248.9 216.75 L249.4 212.34 L249.9 212.08 L250.4 209.72 L250.9 206.42 L251.47 202.56 L252.05 197.25 L252.62 192.1 L253.2 187.53 L253.77 185.24 L254.35 181.41 L254.93 181.11 L255.5 176.98 L256.07 166.41 L256.65 165.88 L257.23 158.16 L257.8 155.79 L258.3 154.96 L258.8 150.13 L259.3 142.5 L259.88 149.18 L260.45 143.23 L261.03 153.49 L261.6 147.54 L262.18 150.48 L262.75 157.96 L263.32 148.92 L263.9 155.7 L264.47 156.39 L265.05 161.81 L265.62 164.92 L266.2 172.66 L266.72 172.66 L267.23 176.84 L267.75 180.09 L268.27 176.97 L268.78 186.87 L269.3 185.59 L269.8 184.5 L270.3 188.78 L270.8 194.08 L271.3 196.32 L271.8 194.91 L272.3 198.52 L272.82 200.3 L273.33 203.28 L273.85 202.66 L274.37 206.14 L274.88 204.45 L275.4 206.3 L275.92 209.68 L276.44 210.88 L276.96 210.82 L277.48 212.9 L278 213.45 L278.55 215.03 L279.1 216.35 L279.65 216.31 L280.2 217.48 L280.75 216.84 L281.3 217.5 L281.81 215.52 L282.32 218.68 L282.84 218.3 L283.35 218.91 L283.86 216.27 L284.37 217.87 L284.88 217.84 L285.39 216.51 L285.91 219.55 L286.42 219.94 L286.93 217.25 L287.44 219.18 L287.95 220.62 L288.46 217.46 L288.98 219.9 L289.49 220.6 L290 220.94 L290.52 217.51 L291.04 217.89 L291.55 219.3 L292.07 220.42 L292.59 217.85 L293.11 218.44 L293.62 218.12 L294.14 220.5 L294.66 218.81 L295.18 220.05 L295.69 220.17 L296.21 220.76 L296.73 220.04 L297.25 220.01 L297.76 220.9 L298.28 220.25 L298.8 218.53 L299.31 219.35 L299.82 220.87 L300.32 220.18 L300.83 219.76 L301.34 220.43 L301.85 223.51 L302.36 220.29 L302.87 220.88 L303.38 220.92 L303.88 220.3 L304.39 221.77 L304.9 221.52 L305.41 221.16 L305.92 219.6 L306.43 222.09 L306.93 221.71 L307.44 221 L307.95 218.72 L308.46 221.17 L308.97 220.22 L309.48 221.17 L309.98 221 L310.49 220.81 L311 222.47 L311.5 221.72 L312 222.69 L312.5 220.84 L313 221.53 L313.5 222.86 L314 222.01 L314.5 221.15 L315 221.03 L315.5 221.3 L316 221.75 L316.5 222.41 L317 221.99 L317.5 222.51 L318 222.6 L318.5 222.03 L319 223.01 L319.5 222.58 L320 221.85 L320.5 221.89 L321 222.03 L321.5 221.47 L322 221.02 L322.5 221.75 L323 220.9 L323.5 221.52 L324 220.04 L324.5 220.33 L325 220.07 L325.5 219 L326 219.33 L326.5 217.48 L327 216.96 L327.5 217.62 L328 216.3 L328.5 214.97 L329 213.08 L329.55 213.95 L330.1 214.71 L330.65 207.24 L331.2 211.03 L331.76 211.06 L332.32 213.69 L332.88 215.07 L333.44 213.43 L334 218.33 L334.5 216.69 L335 218.38 L335.5 220.54 L336 221.09 L336.5 222.62 L337 223.43 L337 223.6 Z" fill="rgb(73,207,49)" fill-opacity="0.66"/>
<path d="M229 223.23 L229.8 223.17 L230.6 222.29 L231.4 222.01 L232.27 219.85 L233.13 217.95 L234 214.69 L234.87 211.15 L235.73 208.74 L236.6 206.58 L237.47 201.64 L238.35 195.22 L239.22 189.21 L240.1 183.61 L241 178.3 L241.9 171.66 L242.8 166.74 L243.7 161.34 L244.8 154.24 L245.9 143.47 L247.2 158.65 L248.05 166.93 L248.9 179.38 L249.77 181.02 L250.63 182.69 L251.5 185.51 L252.4 188.71 L253.3 189.98 L254.2 193.5 L255.07 195.63 L255.93 197.41 L256.8 199.11 L257.68 199.91 L258.55 204.17 L259.43 206.51 L260.3 210.62 L261.17 211.23 L262.03 212.49 L262.9 213.78 L263.77 214.36 L264.63 215.9 L265.5 216.66 L266.39 218.48 L267.27 217.7 L268.16 218.37 L269.05 218.02 L269.94 218.61 L270.83 219.36 L271.71 220.5 L272.6 220.92 L273.47 221.01 L274.33 220.94 L275.2 222.15 L276.07 221.38 L276.93 221.73 L277.8 222.47 L278.62 222.01 L279.44 222.45 L280.27 222.71 L281.09 222.39 L281.91 222.57 L282.73 222.48 L283.56 222.28 L284.38 221.51 L285.2 222.16 L286.02 222.57 L286.84 222.08 L287.67 222.45 L288.49 222.71 L289.31 223.09 L290.13 222.28 L290.96 222.56 L291.78 222.82 L292.6 222.94 L293.42 222.38 L294.24 223.39 L295.07 222.61 L295.89 223.21 L296.71 222.85 L297.53 223.05 L298.36 223.45 L299.18 223.19 L300 223.05 L300.81 222.7 L301.61 222.79 L302.42 222.55 L303.23 223.54 L304.04 222.48 L304.84 222.16 L305.65 223.39 L306.46 223.27 L307.27 222.77 L308.07 223.11 L308.88 222.6 L309.69 222.66 L310.5 222.97 L311.3 222.92 L312.11 222.65 L312.92 223.27 L313.73 222.99 L314.53 222.79 L315.34 222.36 L316.15 222.76 L316.96 222.6 L317.76 222.66 L318.57 222.92 L319.38 222.47 L320.19 222.72 L320.99 222.88 L321.8 222.72 L322.65 221.5 L323.5 217.7 L324.7 216.18 L325.9 216.21 L327.4 214.38 L328.2 220.8 L329.4 219.63 L330.6 218.38 L331.5 220.29 L332.4 221.55 L333 222.9 L334 222.26 L335 223.17 L336 222.73" stroke="#000" stroke-width="1.1" fill="none" stroke-linejoin="round"/>
<line x1="216" y1="143.2" x2="216" y2="224.6" stroke="#000" stroke-width="2"/>
<line x1="215" y1="223.6" x2="338" y2="223.6" stroke="#000" stroke-width="2"/>
<line x1="213" y1="143.7" x2="216" y2="143.7" stroke="#000" stroke-width="1.4"/>
<text x="212" y="147.98" font-size="8.6" text-anchor="end" fill="#111" stroke="#111" stroke-width="0.25">1</text>
<text x="212" y="187.58" font-size="8.6" text-anchor="end" fill="#111" stroke="#111" stroke-width="0.25">0.5</text>
<text x="212" y="228.08" font-size="8.6" text-anchor="end" fill="#111" stroke="#111" stroke-width="0.25">0</text>
<line x1="217" y1="223.6" x2="217" y2="226.8" stroke="#000" stroke-width="1.5"/>
<line x1="226.06" y1="223.6" x2="226.06" y2="226.2" stroke="#000" stroke-width="1.3"/>
<line x1="231.36" y1="223.6" x2="231.36" y2="226.2" stroke="#000" stroke-width="1.3"/>
<line x1="235.12" y1="223.6" x2="235.12" y2="226.2" stroke="#000" stroke-width="1.3"/>
<line x1="238.04" y1="223.6" x2="238.04" y2="226.2" stroke="#000" stroke-width="1.3"/>
<line x1="240.42" y1="223.6" x2="240.42" y2="226.2" stroke="#000" stroke-width="1.3"/>
<line x1="242.44" y1="223.6" x2="242.44" y2="226.2" stroke="#000" stroke-width="1.3"/>
<line x1="244.18" y1="223.6" x2="244.18" y2="226.2" stroke="#000" stroke-width="1.3"/>
<line x1="245.72" y1="223.6" x2="245.72" y2="226.2" stroke="#000" stroke-width="1.3"/>
<text x="217" y="237.05" font-size="8.8" text-anchor="middle" fill="#111" stroke="#111" stroke-width="0.25">10<tspan font-size="70%" dy="-3">0</tspan></text>
<line x1="247.1" y1="223.6" x2="247.1" y2="226.8" stroke="#000" stroke-width="1.5"/>
<line x1="256.16" y1="223.6" x2="256.16" y2="226.2" stroke="#000" stroke-width="1.3"/>
<line x1="261.46" y1="223.6" x2="261.46" y2="226.2" stroke="#000" stroke-width="1.3"/>
<line x1="265.22" y1="223.6" x2="265.22" y2="226.2" stroke="#000" stroke-width="1.3"/>
<line x1="268.14" y1="223.6" x2="268.14" y2="226.2" stroke="#000" stroke-width="1.3"/>
<line x1="270.52" y1="223.6" x2="270.52" y2="226.2" stroke="#000" stroke-width="1.3"/>
<line x1="272.54" y1="223.6" x2="272.54" y2="226.2" stroke="#000" stroke-width="1.3"/>
<line x1="274.28" y1="223.6" x2="274.28" y2="226.2" stroke="#000" stroke-width="1.3"/>
<line x1="275.82" y1="223.6" x2="275.82" y2="226.2" stroke="#000" stroke-width="1.3"/>
<text x="247.1" y="237.05" font-size="8.8" text-anchor="middle" fill="#111" stroke="#111" stroke-width="0.25">10<tspan font-size="70%" dy="-3">1</tspan></text>
<line x1="277.2" y1="223.6" x2="277.2" y2="226.8" stroke="#000" stroke-width="1.5"/>
<line x1="286.26" y1="223.6" x2="286.26" y2="226.2" stroke="#000" stroke-width="1.3"/>
<line x1="291.56" y1="223.6" x2="291.56" y2="226.2" stroke="#000" stroke-width="1.3"/>
<line x1="295.32" y1="223.6" x2="295.32" y2="226.2" stroke="#000" stroke-width="1.3"/>
<line x1="298.24" y1="223.6" x2="298.24" y2="226.2" stroke="#000" stroke-width="1.3"/>
<line x1="300.62" y1="223.6" x2="300.62" y2="226.2" stroke="#000" stroke-width="1.3"/>
<line x1="302.64" y1="223.6" x2="302.64" y2="226.2" stroke="#000" stroke-width="1.3"/>
<line x1="304.38" y1="223.6" x2="304.38" y2="226.2" stroke="#000" stroke-width="1.3"/>
<line x1="305.92" y1="223.6" x2="305.92" y2="226.2" stroke="#000" stroke-width="1.3"/>
<text x="277.2" y="237.05" font-size="8.8" text-anchor="middle" fill="#111" stroke="#111" stroke-width="0.25">10<tspan font-size="70%" dy="-3">2</tspan></text>
<line x1="307.3" y1="223.6" x2="307.3" y2="226.8" stroke="#000" stroke-width="1.5"/>
<line x1="316.36" y1="223.6" x2="316.36" y2="226.2" stroke="#000" stroke-width="1.3"/>
<line x1="321.66" y1="223.6" x2="321.66" y2="226.2" stroke="#000" stroke-width="1.3"/>
<line x1="325.42" y1="223.6" x2="325.42" y2="226.2" stroke="#000" stroke-width="1.3"/>
<line x1="328.34" y1="223.6" x2="328.34" y2="226.2" stroke="#000" stroke-width="1.3"/>
<line x1="330.72" y1="223.6" x2="330.72" y2="226.2" stroke="#000" stroke-width="1.3"/>
<line x1="332.74" y1="223.6" x2="332.74" y2="226.2" stroke="#000" stroke-width="1.3"/>
<line x1="334.48" y1="223.6" x2="334.48" y2="226.2" stroke="#000" stroke-width="1.3"/>
<line x1="336.02" y1="223.6" x2="336.02" y2="226.2" stroke="#000" stroke-width="1.3"/>
<text x="307.3" y="237.05" font-size="8.8" text-anchor="middle" fill="#111" stroke="#111" stroke-width="0.25">10<tspan font-size="70%" dy="-3">3</tspan></text>
<line x1="337.4" y1="223.6" x2="337.4" y2="226.8" stroke="#000" stroke-width="1.5"/>
<text x="337.4" y="237.05" font-size="8.8" text-anchor="middle" fill="#111" stroke="#111" stroke-width="0.25">10<tspan font-size="70%" dy="-3">4</tspan></text>
<text x="277" y="144.65" font-size="8.8" font-weight="bold" text-anchor="middle" fill="#111" stroke="#111" stroke-width="0.12">48 hr</text>
<line x1="295.2" y1="165" x2="303.2" y2="165" stroke="#000" stroke-width="1.2"/>
<text x="304.2" y="167.4" font-size="6.7" text-anchor="start" fill="#222" stroke="#222" stroke-width="0.25">DMSO</text>
<rect x="295.7" y="171.4" width="6.3" height="6.4" fill="#ff2a2a"/>
<text x="304.2" y="177.7" font-size="6.7" text-anchor="start" fill="#222" stroke="#222" stroke-width="0.25">ATQ 30 µM</text>
<rect x="295.7" y="181.6" width="6.3" height="6.4" fill="#2a5cff"/>
<text x="304.2" y="187.6" font-size="6.7" text-anchor="start" fill="#222" stroke="#222" stroke-width="0.25">Carbo 10 µM</text>
<rect x="295.7" y="192.2" width="6.3" height="6.5" fill="#22ee22"/>
<text x="304.2" y="198.3" font-size="6.7" text-anchor="start" fill="#222" stroke="#222" stroke-width="0.25">ATQ 30 µM +</text>
<text x="304.2" y="205.7" font-size="6.7" text-anchor="start" fill="#222" stroke="#222" stroke-width="0.25">Carbo 10 µM</text>
<text x="192.7" y="218.19" font-size="7.8" font-weight="bold" text-anchor="middle" fill="#000" stroke="#000" stroke-width="0.25" transform="rotate(-90 192.7 215.4)">Relative Count</text>
<path d="M201.5 242.4 L201.5 225.6" stroke="#000" stroke-width="1.4" fill="none"/>
<path d="M198.9 227.9 L201.5 221.8 L204.1 227.9 Z" fill="#000"/>
<path d="M200.9 241.8 L217.5 241.8" stroke="#000" stroke-width="1.4" fill="none"/>
<path d="M215.5 239.2 L221.5 241.8 L215.5 244.4 Z" fill="#000"/>
<text x="208.8" y="253.34" font-size="8.2" font-weight="bold" text-anchor="middle" fill="#000" stroke="#000" stroke-width="0.25">PI</text>
<path d="M408 223.6 L408 223.23 L408.5 222.11 L409 220.87 L409.5 218.04 L410 215.57 L410.5 214.96 L411 213.79 L411.5 212.76 L412 208.52 L412.5 206.66 L413 207.3 L413.5 205.33 L414 205.01 L414.5 202.62 L415.05 197.87 L415.6 194.32 L416.15 195.42 L416.7 187.69 L417.25 183.55 L417.8 179.61 L418.35 178.46 L418.9 175.27 L419.42 168.59 L419.95 163.38 L420.48 158.32 L421 153.5 L421.7 150.18 L422.4 143.98 L422.93 142.5 L423.47 149.39 L424 146.89 L424.5 152.3 L425 152.21 L425.5 158 L426 159.07 L426.5 163.76 L427 172.5 L427.5 169.16 L428 174.08 L428.5 173.34 L429 178.49 L429.5 183.39 L430 185.35 L430.5 189.34 L431 192.16 L431.5 192.9 L432 197.61 L432.5 198.07 L433 204.09 L433.5 203.36 L434 207.23 L434.5 208.8 L435 212.22 L435.5 213 L436 215.47 L436.5 215.3 L437 217.46 L437.5 217.77 L438 218.26 L438.5 218.45 L439 220.52 L439.5 221.18 L440 222.76 L440.5 222.5 L441 223.6 L441 223.6 Z" fill="rgb(245,75,50)" fill-opacity="0.35"/>
<path d="M409.3 223.6 L409.3 223.17 L409.82 221.52 L410.34 218.93 L410.86 216.49 L411.38 215.61 L411.9 212.52 L412.42 209.92 L412.94 210.1 L413.46 205.15 L413.98 201.91 L414.5 199.46 L415.05 197.27 L415.6 195.7 L416.15 192.76 L416.7 189.98 L417.25 187.95 L417.8 184.55 L418.35 179.48 L418.9 177.49 L419.42 173.29 L419.94 167.98 L420.46 167.71 L420.98 163.21 L421.5 159.67 L422.05 162.45 L422.6 158.07 L423.15 153.56 L423.7 152.6 L424.25 156.07 L424.8 148.54 L425.35 148.91 L425.9 146.83 L426.5 153.53 L427.1 160.64 L427.7 165.45 L428.2 169.27 L428.7 173.62 L429.2 177.02 L429.7 182.84 L430.2 187.78 L430.7 187.49 L431.2 193.53 L431.74 193.85 L432.27 196.94 L432.81 200.22 L433.35 203.31 L433.89 205.25 L434.43 205.35 L434.96 212.55 L435.5 213.38 L436.03 213.9 L436.56 216.04 L437.09 215.72 L437.62 215.88 L438.15 218.4 L438.68 219.19 L439.21 219.12 L439.74 221.18 L440.27 221.7 L440.8 221.7 L441.32 223.44 L441.85 222.79 L442.38 222.24 L442.9 223.2 L443.43 223.2 L443.95 223.6 L444.48 222.93 L445 223.6 L445 223.6 Z" fill="rgb(110,125,238)" fill-opacity="0.6"/>
<path d="M420.7 223.6 L420.7 223.57 L421.22 223.38 L421.74 220.18 L422.26 217.73 L422.78 218.47 L423.3 217.59 L423.82 215.98 L424.34 214.84 L424.86 212.65 L425.38 210.6 L425.9 208.98 L426.4 206.78 L426.9 203.49 L427.4 202.87 L427.9 199.37 L428.4 192.66 L428.9 193.67 L429.4 189.16 L429.92 187.25 L430.44 183.76 L430.96 177.03 L431.48 166.49 L432 168.34 L432.54 159.13 L433.08 164.69 L433.62 155.23 L434.16 153.42 L434.7 156.27 L435.27 143.76 L435.83 147.45 L436.4 142.5 L437 146.95 L437.6 149.04 L438.2 156.32 L438.72 158.35 L439.24 165.05 L439.76 170.69 L440.28 169.51 L440.8 182.19 L441.32 182.74 L441.84 184.18 L442.36 191.02 L442.88 198.69 L443.4 203.35 L443.9 202.28 L444.4 205.67 L444.9 207.87 L445.4 211.08 L445.9 211.27 L446.4 214.81 L446.9 214.3 L447.42 214.9 L447.93 217 L448.45 217.43 L448.97 216.85 L449.48 217.98 L450 217.87 L450.52 218.87 L451.03 219.66 L451.55 219.29 L452.07 219.96 L452.58 219.04 L453.1 219.25 L453.6 217.54 L454.1 220.39 L454.6 220.1 L455.1 220.68 L455.6 218.41 L456.1 219.85 L456.6 219.87 L457.1 218.77 L457.6 221.44 L458.1 221.81 L458.6 219.56 L459.1 221.25 L459.6 222.5 L460.1 219.9 L460.6 221.98 L461.1 222.59 L461.6 222.91 L462.1 220.15 L462.6 220.5 L463.1 221.69 L463.6 222.62 L464.11 220.56 L464.62 221.02 L465.14 220.75 L465.65 222.65 L466.16 221.28 L466.68 222.26 L467.19 222.35 L467.7 222.8 L468.21 222.22 L468.73 222.18 L469.24 222.88 L469.75 222.36 L470.26 220.98 L470.78 221.6 L471.29 222.79 L471.8 222.2 L472.31 221.84 L472.82 222.35 L473.34 223.6 L473.85 222.18 L474.36 222.62 L474.88 222.63 L475.39 222.1 L475.9 223.25 L476.41 223.02 L476.93 222.7 L477.44 221.41 L477.95 223.41 L478.46 223.06 L478.98 222.46 L479.49 220.57 L480 222.54 L480.5 221.68 L481 222.39 L481.5 222.17 L482 221.92 L482.5 223.27 L483 222.59 L483.5 223.42 L484 221.76 L484.5 222.33 L485 223.48 L485.5 222.69 L486 221.89 L486.5 221.75 L487 221.96 L487.5 222.33 L488 222.91 L488.5 222.49 L489 222.94 L489.5 222.99 L490 222.43 L490.5 223.32 L491 222.88 L491.5 222.16 L492 222.16 L492.5 222.26 L493 221.69 L493.5 221.2 L494 222.27 L494.5 221.82 L495 222.67 L495.5 221.73 L496 222.27 L496.5 222.33 L497 221.79 L497.5 222.3 L498 221.56 L498.5 221.78 L499 222.75 L499.5 222.41 L500 222.09 L500.5 221.14 L501 222.1 L501.5 222.99 L502 218.89 L502.5 221.61 L503 220.52 L503.5 221.11 L504 220.91 L504.5 218.35 L505 220.98 L505.6 217.53 L506.2 216.98 L506.8 217.14 L507.4 215.33 L508 223.6 L508 223.6 Z" fill="rgb(73,207,49)" fill-opacity="0.66"/>
<path d="M402 223.41 L402.97 223.3 L403.93 222.36 L404.9 222.01 L405.77 220.13 L406.63 218.49 L407.5 215.53 L408.37 208.74 L409.23 203.09 L410.1 197.78 L411 188.19 L411.9 176.82 L412.8 165.94 L413.67 158.77 L414.53 151.94 L415.4 143.51 L416.3 149.24 L417.2 154.35 L418.05 166.34 L418.9 174.97 L419.8 186.42 L420.7 195.19 L421.55 203.25 L422.4 209.32 L423.3 207.97 L424.2 207.41 L425.07 206.58 L425.93 204.26 L426.8 203.77 L427.67 205.57 L428.53 207.08 L429.4 208.51 L430.27 208.58 L431.15 211.58 L432.02 212.95 L432.9 215.82 L433.78 216.42 L434.66 217.55 L435.54 218.71 L436.42 219.3 L437.3 220.65 L438.18 220.76 L439.05 222.23 L439.93 221.73 L440.8 222.32 L441.61 221.75 L442.42 221.87 L443.23 222.1 L444.04 222.65 L444.86 222.66 L445.67 222.52 L446.48 222.24 L447.29 223.06 L448.1 222.16 L448.91 222.23 L449.72 222.68 L450.53 222.23 L451.34 222.65 L452.16 222.89 L452.97 222.58 L453.78 222.75 L454.59 222.65 L455.4 222.45 L456.21 221.7 L457.02 222.32 L457.83 222.72 L458.64 222.24 L459.46 222.59 L460.27 222.84 L461.08 223.2 L461.89 222.4 L462.7 222.68 L463.51 222.92 L464.32 223.03 L465.13 222.48 L465.94 223.46 L466.76 222.69 L467.57 223.27 L468.38 222.91 L469.19 223.11 L470 223.49 L470.8 223.2 L471.6 223.02 L472.4 222.67 L473.2 222.76 L474 222.52 L474.8 223.52 L475.6 222.45 L476.4 222.13 L477.2 223.37 L478 223.25 L478.8 222.75 L479.6 223.09 L480.4 222.58 L481.2 222.64 L482 222.95 L482.8 222.9 L483.6 222.63 L484.4 223.25 L485.2 222.97 L486 222.77 L486.8 222.34 L487.6 222.74 L488.4 222.58 L489.2 222.64 L490 222.91 L490.8 222.46 L491.6 222.71 L492.4 222.86 L493.2 222.71 L494 223.31 L494.8 222.01 L495.6 222.53 L496.4 222.16 L497.2 222.5 L498 223.32 L498.8 221.65 L499.6 221.81 L500.4 221.85 L501.2 221.35 L502 221.37 L502.8 220.62 L503.6 221.78 L504.4 221.26 L505.2 221.37 L506 222.21" stroke="#000" stroke-width="1.1" fill="none" stroke-linejoin="round"/>
<line x1="385.7" y1="143.2" x2="385.7" y2="224.6" stroke="#000" stroke-width="2"/>
<line x1="384.7" y1="223.6" x2="508.5" y2="223.6" stroke="#000" stroke-width="2"/>
<line x1="382.7" y1="143.7" x2="385.7" y2="143.7" stroke="#000" stroke-width="1.4"/>
<text x="381.7" y="147.98" font-size="8.6" text-anchor="end" fill="#111" stroke="#111" stroke-width="0.25">1</text>
<text x="381.7" y="186.88" font-size="8.6" text-anchor="end" fill="#111" stroke="#111" stroke-width="0.25">0.5</text>
<text x="381.7" y="228.08" font-size="8.6" text-anchor="end" fill="#111" stroke="#111" stroke-width="0.25">0</text>
<line x1="386.8" y1="223.6" x2="386.8" y2="226.8" stroke="#000" stroke-width="1.5"/>
<line x1="395.86" y1="223.6" x2="395.86" y2="226.2" stroke="#000" stroke-width="1.3"/>
<line x1="401.16" y1="223.6" x2="401.16" y2="226.2" stroke="#000" stroke-width="1.3"/>
<line x1="404.92" y1="223.6" x2="404.92" y2="226.2" stroke="#000" stroke-width="1.3"/>
<line x1="407.84" y1="223.6" x2="407.84" y2="226.2" stroke="#000" stroke-width="1.3"/>
<line x1="410.22" y1="223.6" x2="410.22" y2="226.2" stroke="#000" stroke-width="1.3"/>
<line x1="412.24" y1="223.6" x2="412.24" y2="226.2" stroke="#000" stroke-width="1.3"/>
<line x1="413.98" y1="223.6" x2="413.98" y2="226.2" stroke="#000" stroke-width="1.3"/>
<line x1="415.52" y1="223.6" x2="415.52" y2="226.2" stroke="#000" stroke-width="1.3"/>
<text x="386.8" y="237.05" font-size="8.8" text-anchor="middle" fill="#111" stroke="#111" stroke-width="0.25">10<tspan font-size="70%" dy="-3">0</tspan></text>
<line x1="416.9" y1="223.6" x2="416.9" y2="226.8" stroke="#000" stroke-width="1.5"/>
<line x1="425.96" y1="223.6" x2="425.96" y2="226.2" stroke="#000" stroke-width="1.3"/>
<line x1="431.26" y1="223.6" x2="431.26" y2="226.2" stroke="#000" stroke-width="1.3"/>
<line x1="435.02" y1="223.6" x2="435.02" y2="226.2" stroke="#000" stroke-width="1.3"/>
<line x1="437.94" y1="223.6" x2="437.94" y2="226.2" stroke="#000" stroke-width="1.3"/>
<line x1="440.32" y1="223.6" x2="440.32" y2="226.2" stroke="#000" stroke-width="1.3"/>
<line x1="442.34" y1="223.6" x2="442.34" y2="226.2" stroke="#000" stroke-width="1.3"/>
<line x1="444.08" y1="223.6" x2="444.08" y2="226.2" stroke="#000" stroke-width="1.3"/>
<line x1="445.62" y1="223.6" x2="445.62" y2="226.2" stroke="#000" stroke-width="1.3"/>
<text x="416.9" y="237.05" font-size="8.8" text-anchor="middle" fill="#111" stroke="#111" stroke-width="0.25">10<tspan font-size="70%" dy="-3">1</tspan></text>
<line x1="447" y1="223.6" x2="447" y2="226.8" stroke="#000" stroke-width="1.5"/>
<line x1="456.06" y1="223.6" x2="456.06" y2="226.2" stroke="#000" stroke-width="1.3"/>
<line x1="461.36" y1="223.6" x2="461.36" y2="226.2" stroke="#000" stroke-width="1.3"/>
<line x1="465.12" y1="223.6" x2="465.12" y2="226.2" stroke="#000" stroke-width="1.3"/>
<line x1="468.04" y1="223.6" x2="468.04" y2="226.2" stroke="#000" stroke-width="1.3"/>
<line x1="470.42" y1="223.6" x2="470.42" y2="226.2" stroke="#000" stroke-width="1.3"/>
<line x1="472.44" y1="223.6" x2="472.44" y2="226.2" stroke="#000" stroke-width="1.3"/>
<line x1="474.18" y1="223.6" x2="474.18" y2="226.2" stroke="#000" stroke-width="1.3"/>
<line x1="475.72" y1="223.6" x2="475.72" y2="226.2" stroke="#000" stroke-width="1.3"/>
<text x="447" y="237.05" font-size="8.8" text-anchor="middle" fill="#111" stroke="#111" stroke-width="0.25">10<tspan font-size="70%" dy="-3">2</tspan></text>
<line x1="477.1" y1="223.6" x2="477.1" y2="226.8" stroke="#000" stroke-width="1.5"/>
<line x1="486.16" y1="223.6" x2="486.16" y2="226.2" stroke="#000" stroke-width="1.3"/>
<line x1="491.46" y1="223.6" x2="491.46" y2="226.2" stroke="#000" stroke-width="1.3"/>
<line x1="495.22" y1="223.6" x2="495.22" y2="226.2" stroke="#000" stroke-width="1.3"/>
<line x1="498.14" y1="223.6" x2="498.14" y2="226.2" stroke="#000" stroke-width="1.3"/>
<line x1="500.52" y1="223.6" x2="500.52" y2="226.2" stroke="#000" stroke-width="1.3"/>
<line x1="502.54" y1="223.6" x2="502.54" y2="226.2" stroke="#000" stroke-width="1.3"/>
<line x1="504.28" y1="223.6" x2="504.28" y2="226.2" stroke="#000" stroke-width="1.3"/>
<line x1="505.82" y1="223.6" x2="505.82" y2="226.2" stroke="#000" stroke-width="1.3"/>
<text x="477.1" y="237.05" font-size="8.8" text-anchor="middle" fill="#111" stroke="#111" stroke-width="0.25">10<tspan font-size="70%" dy="-3">3</tspan></text>
<line x1="507.2" y1="223.6" x2="507.2" y2="226.8" stroke="#000" stroke-width="1.5"/>
<text x="507.2" y="237.05" font-size="8.8" text-anchor="middle" fill="#111" stroke="#111" stroke-width="0.25">10<tspan font-size="70%" dy="-3">4</tspan></text>
<text x="449" y="144.65" font-size="8.8" font-weight="bold" text-anchor="middle" fill="#111" stroke="#111" stroke-width="0.12">72 hr</text>
<line x1="461.5" y1="166.2" x2="469.5" y2="166.2" stroke="#000" stroke-width="1.2"/>
<text x="470.5" y="168.6" font-size="6.7" text-anchor="start" fill="#222" stroke="#222" stroke-width="0.25">DMSO</text>
<rect x="462" y="172.6" width="6.3" height="6.4" fill="#ff2a2a"/>
<text x="470.5" y="178.9" font-size="6.7" text-anchor="start" fill="#222" stroke="#222" stroke-width="0.25">ATQ 30 µM</text>
<rect x="462" y="182.8" width="6.3" height="6.4" fill="#2a5cff"/>
<text x="470.5" y="188.8" font-size="6.7" text-anchor="start" fill="#222" stroke="#222" stroke-width="0.25">Carbo 10 µM</text>
<rect x="462" y="193.4" width="6.3" height="6.5" fill="#22ee22"/>
<text x="470.5" y="199.5" font-size="6.7" text-anchor="start" fill="#222" stroke="#222" stroke-width="0.25">ATQ 30 µM +</text>
<text x="470.5" y="206.9" font-size="6.7" text-anchor="start" fill="#222" stroke="#222" stroke-width="0.25">Carbo 10 µM</text>
<text x="362.7" y="218.49" font-size="7.8" font-weight="bold" text-anchor="middle" fill="#000" stroke="#000" stroke-width="0.25" transform="rotate(-90 362.7 215.7)">Relative Count</text>
<path d="M371.5 242.7 L371.5 225.9" stroke="#000" stroke-width="1.4" fill="none"/>
<path d="M368.9 228.2 L371.5 222.1 L374.1 228.2 Z" fill="#000"/>
<path d="M370.9 242.1 L387.5 242.1" stroke="#000" stroke-width="1.4" fill="none"/>
<path d="M385.5 239.5 L391.5 242.1 L385.5 244.7 Z" fill="#000"/>
<text x="378.8" y="253.64" font-size="8.2" font-weight="bold" text-anchor="middle" fill="#000" stroke="#000" stroke-width="0.25">PI</text>
<path d="M571.5 223.6 L571.5 223.23 L572.01 222.23 L572.51 221.1 L573.02 218.42 L573.53 216.09 L574.04 215.58 L574.54 214.51 L575.05 213.59 L575.56 209.54 L576.06 207.8 L576.57 208.5 L577.08 206.66 L577.59 206.42 L578.09 204.17 L578.6 201.16 L579.13 196.53 L579.66 196.46 L580.19 187.7 L580.72 182.45 L581.25 177.39 L581.78 175.2 L582.31 170.92 L582.84 165.58 L583.37 161.75 L583.9 158.07 L584.4 157.71 L584.9 157.34 L585.4 154.22 L585.9 148.67 L586.4 152.81 L586.9 146.94 L587.4 148.42 L587.9 145.42 L588.4 148.55 L588.9 146.7 L589.4 148.76 L589.9 155.45 L590.4 147.92 L590.9 149.77 L591.5 151.21 L592.1 159.58 L592.7 167.6 L593.27 174.03 L593.83 182.74 L594.4 190.16 L594.92 191.27 L595.44 196.43 L595.96 197.26 L596.48 203.71 L597 203.36 L597.5 205.66 L598 205.6 L598.5 207.55 L599 206.48 L599.5 209.17 L600 208.66 L600.5 211.02 L601 211.09 L601.5 211.35 L602 211.18 L602.5 213.39 L603 213.67 L603.5 215.42 L604 214.04 L604.5 215.52 L605 216.07 L605.5 216.45 L606 216.98 L606.5 217.55 L607 217.51 L607.5 217.66 L608 218.63 L608.5 219.84 L609 220.96 L609.5 221.01 L610 221.5 L610.5 221.76 L611 222.15 L611.5 222.3 L612 223.06 L612.5 223.6 L613 223.5 L613 223.6 Z" fill="rgb(245,75,50)" fill-opacity="0.35"/>
<path d="M572 223.6 L572 223.17 L572.5 221.88 L573 219.68 L573.5 217.63 L574 217.04 L574.5 214.37 L575 212.17 L575.5 212.56 L576 208.17 L576.5 205.36 L577 203.3 L577.5 202.48 L578 202.18 L578.5 198.54 L579 195.06 L579.5 192.3 L580 188.23 L580.5 182.55 L581 179.85 L581.5 174.71 L582 168.43 L582.5 167.18 L583 161.7 L583.5 157.16 L584 159.57 L584.5 154.68 L585 149.65 L585.5 148.25 L586 151.4 L586.7 146.97 L587.4 150.56 L587.92 150.6 L588.45 150.66 L588.98 151.12 L589.5 149.06 L590 153.19 L590.5 157.93 L591 161.6 L591.5 168.02 L592 175.26 L592.5 176.64 L593 185.1 L593.5 188.52 L594 191.82 L594.5 195.33 L595 198.63 L595.5 200.68 L596 200.7 L596.5 206.73 L597 205.53 L597.5 205.99 L598 208.48 L598.5 207.86 L599 207.83 L599.5 210.91 L600 211.72 L600.5 211.28 L601 213.92 L601.5 214.03 L602 213.13 L602.5 216.54 L603 215.7 L603.5 215.01 L604 217.05 L604.5 217.36 L605 218.66 L605.5 217.35 L606 219.86 L606.5 220.22 L607 220.47 L607.5 220.85 L608 221.76 L608.5 221.8 L609 221.87 L609.5 221.78 L610 223.28 L610.5 223.6 L611 223.6 L611.5 223.6 L612 223.6 L612.5 222.85 L613 223.6 L613.5 222.86 L614 223.6 L614.5 223.6 L615 223.6 L615.5 223.47 L616 223.6 L616.5 223.59 L617 222.94 L617.5 223.6 L618 223.6 L618.5 223.6 L619 223.33 L619.5 223.6 L620 223.6 L620.5 223.6 L621 223.6 L621.5 223.6 L622 223.49 L622.5 223.53 L623 223.6 L623.5 223.37 L624 223.6 L624.5 223.6 L625 223.23 L625.5 223.6 L626 223.6 L626.5 223.18 L627 223.6 L627.5 223.54 L628 223.6 L628.5 223.6 L629 223.49 L629.5 223.44 L630 223.6 L630.5 223.47 L631 223.6 L631.5 223.14 L632 223.56 L632.5 223.54 L633 223.4 L633.5 223.55 L634 223.6 L634.5 223.41 L635 223.18 L635.5 223.6 L636 223.6 L636.5 223.4 L637 223.6 L637.5 222.83 L638 223.6 L638.5 223.21 L639 223.45 L639.5 223.6 L640 223.23 L640.5 223.6 L641 223.29 L641.5 223.05 L642 223.26 L642.5 223.6 L643 223.22 L643.5 223.43 L644 223.6 L644.5 223.57 L645 223.22 L645.5 223.6 L646 223.6 L646.5 223.6 L647 223.3 L647.5 223.6 L648 223.2 L648.5 223.08 L649 223.48 L649.5 223.5 L650 223.6 L650.5 223.44 L651 223.6 L651.5 223.6 L652 223.42 L652.5 223.2 L653 223.49 L653.5 223.6 L654 223.6 L654.5 223.51 L655 223.31 L655.5 223.35 L656 223.55 L656.5 222.48 L657 223.27 L657.5 222.45 L658 222.23 L658.5 221.43 L659 222.4 L659.5 221.32 L660 220.04 L660.5 221.46 L661 220.49 L661.5 221.4 L662 220.65 L662.5 219.97 L663 220.4 L663.5 219.8 L664 219.43 L664.5 220.64 L665 221.77 L665.5 221.87 L666 222.38 L666.5 222.76 L667 223.6 L667 223.6 Z" fill="rgb(110,125,238)" fill-opacity="0.6"/>
<path d="M584.8 223.6 L584.8 223.57 L585.32 223.1 L585.84 219.45 L586.36 216.58 L586.88 217.14 L587.4 215.95 L587.92 213.98 L588.44 212.52 L588.96 209.92 L589.48 207.47 L590 205.49 L590.5 203.61 L591 200.55 L591.5 200.28 L592 197 L592.5 190.41 L593 191.77 L593.5 187.46 L594.04 184.9 L594.58 180.74 L595.12 173.22 L595.66 161.76 L596.2 163.12 L596.77 151.56 L597.33 155.54 L597.9 143.6 L598.42 147.49 L598.94 155.96 L599.46 147.73 L599.98 155.46 L600.5 154.73 L601 157.08 L601.5 157.06 L602 162.01 L602.5 159.99 L603 162.56 L603.5 164.13 L604 158.36 L604.5 168.44 L605 165.43 L605.5 163.15 L606 167.35 L606.5 172.88 L607 174.68 L607.5 171.82 L608 174.59 L608.5 175.68 L609 178.41 L609.5 176.21 L610 179.73 L610.5 175.83 L611 177.01 L611.51 182.39 L612.03 184.5 L612.54 184.7 L613.06 188.18 L613.57 189.28 L614.09 192.49 L614.6 195.29 L615.12 196.69 L615.64 200.02 L616.16 200.48 L616.68 203.02 L617.2 202.87 L617.72 209.18 L618.24 210.3 L618.76 212.76 L619.28 211.14 L619.8 214.82 L620.3 214.93 L620.8 213.54 L621.3 217.16 L621.8 217.74 L622.3 214.83 L622.8 217.14 L623.3 218.88 L623.8 215.52 L624.3 218.35 L624.8 219.24 L625.3 219.74 L625.8 216.17 L626.3 216.72 L626.8 218.37 L627.3 219.42 L627.8 216.52 L628.3 217.01 L628.8 216.5 L629.3 218.99 L629.8 216.97 L630.3 218.21 L630.8 218.21 L631.3 218.74 L631.8 217.78 L632.3 217.6 L632.8 218.5 L633.3 217.6 L633.8 215.41 L634.3 216.2 L634.8 217.87 L635.3 216.85 L635.8 216.16 L636.3 216.82 L636.8 220.54 L637.3 216.28 L637.81 217.09 L638.32 217.19 L638.84 216.45 L639.35 218.37 L639.86 218.1 L640.38 217.69 L640.89 215.75 L641.4 218.99 L641.91 218.54 L642.42 217.7 L642.94 214.84 L643.45 218.01 L643.96 216.85 L644.48 218.11 L644.99 217.95 L645.5 217.74 L646.01 219.91 L646.52 219.07 L647.04 220.42 L647.55 218.21 L648.06 219.18 L648.58 220.95 L649.09 220.01 L649.6 219.08 L650.1 219 L650.6 219.39 L651.1 219.99 L651.6 220.84 L652.1 220.38 L652.6 221.06 L653.1 221.22 L653.6 220.61 L654.1 221.81 L654.6 221.36 L655.1 220.58 L655.6 220.68 L656.1 220.9 L656.6 220.33 L657.1 219.87 L657.6 221.21 L658.1 220.8 L658.6 221.86 L659.1 220.9 L659.6 221.6 L660.1 221.77 L660.63 221.09 L661.15 221.57 L661.68 220.66 L662.21 220.81 L662.73 221.83 L663.26 221.36 L663.79 220.9 L664.31 220.07 L664.84 221.36 L665.37 222.51 L665.89 218.41 L666.42 221.43 L666.95 220.52 L667.47 221.29 L668 221.27 L668.51 218.52 L669.02 220.92 L669.52 217.86 L670.03 217.7 L670.54 218.2 L671.05 216.83 L671.56 216.73 L672.07 215.21 L672.58 213.99 L673.08 214.83 L673.59 212.8 L674.1 215.61 L674.65 214.5 L675.2 216.48 L675.75 213.37 L676.3 212.74 L676.85 212.95 L677.4 215.81 L677.95 215.12 L678.5 217.56 L679 223.04 L679 223.6 Z" fill="rgb(73,207,49)" fill-opacity="0.66"/>
<path d="M573 223.41 L574.05 223.16 L575.1 222.05 L575.98 218.84 L576.85 216.35 L577.73 214.1 L578.6 210.27 L579.48 203.94 L580.35 198.92 L581.23 194.23 L582.1 189.87 L583 181.45 L583.9 173.53 L584.8 166.09 L585.67 158.93 L586.53 150.25 L587.4 143.54 L588.3 156.15 L589.15 162.93 L590 166.27 L590.9 178.64 L591.8 188.11 L592.65 197.62 L593.5 204.94 L594.4 205.92 L595.3 207.74 L596.2 209.8 L597.05 207.71 L597.9 207.32 L598.8 209.32 L599.7 211.04 L600.57 210.78 L601.43 208.68 L602.3 209.44 L603.17 210.75 L604.05 213.67 L604.92 215.11 L605.8 217.13 L606.67 217.99 L607.53 218.24 L608.4 219.31 L609.27 219.71 L610.13 221.59 L611 221.35 L611.9 221.72 L612.8 221.3 L613.7 221.61 L614.6 222.04 L615.42 222.6 L616.24 222.61 L617.06 222.47 L617.88 222.19 L618.7 223.03 L619.52 222.12 L620.34 222.19 L621.15 222.65 L621.97 222.2 L622.79 222.62 L623.61 222.87 L624.43 222.56 L625.25 222.73 L626.07 222.64 L626.89 222.44 L627.71 221.69 L628.53 222.32 L629.35 222.72 L630.17 222.24 L630.99 222.59 L631.81 222.85 L632.63 223.21 L633.45 222.42 L634.26 222.69 L635.08 222.94 L635.9 223.05 L636.72 222.51 L637.54 223.49 L638.36 222.73 L639.18 223.3 L640 222.95 L640.8 223.11 L641.6 223.46 L642.4 223.16 L643.2 222.97 L644 222.61 L644.8 222.7 L645.6 222.44 L646.4 223.46 L647.2 222.36 L648 222.03 L648.8 223.29 L649.6 223.16 L650.4 222.64 L651.2 222.99 L652 222.46 L652.8 222.51 L653.6 222.83 L654.4 222.77 L655.2 222.49 L656 223.12 L656.8 222.83 L657.6 222.62 L658.4 222.17 L659.2 222.58 L660 222.41 L660.8 222.09 L661.6 222 L662.4 221.1 L663.2 221.02 L664 220.84 L664.8 221.05 L665.6 222.18 L666.4 221.08 L667.2 222.09 L668 222.13" stroke="#000" stroke-width="1.1" fill="none" stroke-linejoin="round"/>
<line x1="557.2" y1="142.5" x2="557.2" y2="224.6" stroke="#000" stroke-width="2"/>
<line x1="556.2" y1="223.6" x2="679" y2="223.6" stroke="#000" stroke-width="2"/>
<line x1="554.2" y1="143" x2="557.2" y2="143" stroke="#000" stroke-width="1.4"/>
<text x="553.2" y="147.28" font-size="8.6" text-anchor="end" fill="#111" stroke="#111" stroke-width="0.25">1</text>
<text x="553.2" y="188.28" font-size="8.6" text-anchor="end" fill="#111" stroke="#111" stroke-width="0.25">0.5</text>
<text x="553.2" y="228.08" font-size="8.6" text-anchor="end" fill="#111" stroke="#111" stroke-width="0.25">0</text>
<line x1="558" y1="223.6" x2="558" y2="226.8" stroke="#000" stroke-width="1.5"/>
<line x1="567.06" y1="223.6" x2="567.06" y2="226.2" stroke="#000" stroke-width="1.3"/>
<line x1="572.36" y1="223.6" x2="572.36" y2="226.2" stroke="#000" stroke-width="1.3"/>
<line x1="576.12" y1="223.6" x2="576.12" y2="226.2" stroke="#000" stroke-width="1.3"/>
<line x1="579.04" y1="223.6" x2="579.04" y2="226.2" stroke="#000" stroke-width="1.3"/>
<line x1="581.42" y1="223.6" x2="581.42" y2="226.2" stroke="#000" stroke-width="1.3"/>
<line x1="583.44" y1="223.6" x2="583.44" y2="226.2" stroke="#000" stroke-width="1.3"/>
<line x1="585.18" y1="223.6" x2="585.18" y2="226.2" stroke="#000" stroke-width="1.3"/>
<line x1="586.72" y1="223.6" x2="586.72" y2="226.2" stroke="#000" stroke-width="1.3"/>
<text x="558" y="237.05" font-size="8.8" text-anchor="middle" fill="#111" stroke="#111" stroke-width="0.25">10<tspan font-size="70%" dy="-3">0</tspan></text>
<line x1="588.1" y1="223.6" x2="588.1" y2="226.8" stroke="#000" stroke-width="1.5"/>
<line x1="597.16" y1="223.6" x2="597.16" y2="226.2" stroke="#000" stroke-width="1.3"/>
<line x1="602.46" y1="223.6" x2="602.46" y2="226.2" stroke="#000" stroke-width="1.3"/>
<line x1="606.22" y1="223.6" x2="606.22" y2="226.2" stroke="#000" stroke-width="1.3"/>
<line x1="609.14" y1="223.6" x2="609.14" y2="226.2" stroke="#000" stroke-width="1.3"/>
<line x1="611.52" y1="223.6" x2="611.52" y2="226.2" stroke="#000" stroke-width="1.3"/>
<line x1="613.54" y1="223.6" x2="613.54" y2="226.2" stroke="#000" stroke-width="1.3"/>
<line x1="615.28" y1="223.6" x2="615.28" y2="226.2" stroke="#000" stroke-width="1.3"/>
<line x1="616.82" y1="223.6" x2="616.82" y2="226.2" stroke="#000" stroke-width="1.3"/>
<text x="588.1" y="237.05" font-size="8.8" text-anchor="middle" fill="#111" stroke="#111" stroke-width="0.25">10<tspan font-size="70%" dy="-3">1</tspan></text>
<line x1="618.2" y1="223.6" x2="618.2" y2="226.8" stroke="#000" stroke-width="1.5"/>
<line x1="627.26" y1="223.6" x2="627.26" y2="226.2" stroke="#000" stroke-width="1.3"/>
<line x1="632.56" y1="223.6" x2="632.56" y2="226.2" stroke="#000" stroke-width="1.3"/>
<line x1="636.32" y1="223.6" x2="636.32" y2="226.2" stroke="#000" stroke-width="1.3"/>
<line x1="639.24" y1="223.6" x2="639.24" y2="226.2" stroke="#000" stroke-width="1.3"/>
<line x1="641.62" y1="223.6" x2="641.62" y2="226.2" stroke="#000" stroke-width="1.3"/>
<line x1="643.64" y1="223.6" x2="643.64" y2="226.2" stroke="#000" stroke-width="1.3"/>
<line x1="645.38" y1="223.6" x2="645.38" y2="226.2" stroke="#000" stroke-width="1.3"/>
<line x1="646.92" y1="223.6" x2="646.92" y2="226.2" stroke="#000" stroke-width="1.3"/>
<text x="618.2" y="237.05" font-size="8.8" text-anchor="middle" fill="#111" stroke="#111" stroke-width="0.25">10<tspan font-size="70%" dy="-3">2</tspan></text>
<line x1="648.3" y1="223.6" x2="648.3" y2="226.8" stroke="#000" stroke-width="1.5"/>
<line x1="657.36" y1="223.6" x2="657.36" y2="226.2" stroke="#000" stroke-width="1.3"/>
<line x1="662.66" y1="223.6" x2="662.66" y2="226.2" stroke="#000" stroke-width="1.3"/>
<line x1="666.42" y1="223.6" x2="666.42" y2="226.2" stroke="#000" stroke-width="1.3"/>
<line x1="669.34" y1="223.6" x2="669.34" y2="226.2" stroke="#000" stroke-width="1.3"/>
<line x1="671.72" y1="223.6" x2="671.72" y2="226.2" stroke="#000" stroke-width="1.3"/>
<line x1="673.74" y1="223.6" x2="673.74" y2="226.2" stroke="#000" stroke-width="1.3"/>
<line x1="675.48" y1="223.6" x2="675.48" y2="226.2" stroke="#000" stroke-width="1.3"/>
<line x1="677.02" y1="223.6" x2="677.02" y2="226.2" stroke="#000" stroke-width="1.3"/>
<text x="648.3" y="237.05" font-size="8.8" text-anchor="middle" fill="#111" stroke="#111" stroke-width="0.25">10<tspan font-size="70%" dy="-3">3</tspan></text>
<line x1="678.4" y1="223.6" x2="678.4" y2="226.8" stroke="#000" stroke-width="1.5"/>
<text x="678.4" y="237.05" font-size="8.8" text-anchor="middle" fill="#111" stroke="#111" stroke-width="0.25">10<tspan font-size="70%" dy="-3">4</tspan></text>
<text x="619.7" y="144.65" font-size="8.8" font-weight="bold" text-anchor="middle" fill="#111" stroke="#111" stroke-width="0.12">96 hr</text>
<line x1="631.8" y1="167.6" x2="639.8" y2="167.6" stroke="#000" stroke-width="1.2"/>
<text x="640.8" y="170" font-size="6.7" text-anchor="start" fill="#222" stroke="#222" stroke-width="0.25">DMSO</text>
<rect x="632.3" y="174" width="6.3" height="6.4" fill="#ff2a2a"/>
<text x="640.8" y="180.3" font-size="6.7" text-anchor="start" fill="#222" stroke="#222" stroke-width="0.25">ATQ 30 µM</text>
<rect x="632.3" y="184.2" width="6.3" height="6.4" fill="#2a5cff"/>
<text x="640.8" y="190.2" font-size="6.7" text-anchor="start" fill="#222" stroke="#222" stroke-width="0.25">Carbo 10 µM</text>
<rect x="632.3" y="194.8" width="6.3" height="6.5" fill="#22ee22"/>
<text x="640.8" y="200.9" font-size="6.7" text-anchor="start" fill="#222" stroke="#222" stroke-width="0.25">ATQ 30 µM +</text>
<text x="640.8" y="208.3" font-size="6.7" text-anchor="start" fill="#222" stroke="#222" stroke-width="0.25">Carbo 10 µM</text>
<text x="531.5" y="218.89" font-size="7.8" font-weight="bold" text-anchor="middle" fill="#000" stroke="#000" stroke-width="0.25" transform="rotate(-90 531.5 216.1)">Relative Count</text>
<path d="M540.6 243.1 L540.6 226.3" stroke="#000" stroke-width="1.4" fill="none"/>
<path d="M538 228.6 L540.6 222.5 L543.2 228.6 Z" fill="#000"/>
<path d="M540 242.5 L556.6 242.5" stroke="#000" stroke-width="1.4" fill="none"/>
<path d="M554.6 239.9 L560.6 242.5 L554.6 245.1 Z" fill="#000"/>
<text x="547.7" y="254.04" font-size="8.2" font-weight="bold" text-anchor="middle" fill="#000" stroke="#000" stroke-width="0.25">PI</text>
<text x="0.2" y="271.24" font-size="13.8" font-weight="bold" text-anchor="start" fill="#000" stroke="#000" stroke-width="0.12">C</text>
<line x1="234.5" y1="265" x2="250" y2="265" stroke="#000" stroke-width="2.2"/>
<text x="256.9" y="268.4" font-size="9.5" text-anchor="start" fill="#111" stroke="#111" stroke-width="0.25">DMSO</text>
<line x1="297" y1="265" x2="312.6" y2="265" stroke="#f51515" stroke-width="2.2"/>
<text x="319.3" y="268.4" font-size="9.5" text-anchor="start" fill="#111" stroke="#111" stroke-width="0.25">ATQ 30 <tspan font-style="normal">µ</tspan>M</text>
<line x1="57.6" y1="345.83" x2="60.6" y2="345.83" stroke="#000" stroke-width="1.3"/>
<line x1="57.6" y1="304.27" x2="60.6" y2="304.27" stroke="#000" stroke-width="1.3"/>
<line x1="57.1" y1="366.6" x2="60.6" y2="366.6" stroke="#000" stroke-width="1.5"/>
<text x="56.6" y="370.01" font-size="8.7" text-anchor="end" fill="#222" stroke="#222" stroke-width="0.25">0</text>
<line x1="57.1" y1="325.05" x2="60.6" y2="325.05" stroke="#000" stroke-width="1.5"/>
<text x="56.6" y="328.46" font-size="8.7" text-anchor="end" fill="#222" stroke="#222" stroke-width="0.25">50</text>
<line x1="57.1" y1="283.5" x2="60.6" y2="283.5" stroke="#000" stroke-width="1.5"/>
<text x="56.6" y="286.91" font-size="8.7" text-anchor="end" fill="#222" stroke="#222" stroke-width="0.25">100</text>
<line x1="60.6" y1="366.6" x2="60.6" y2="369.6" stroke="#000" stroke-width="1.3"/>
<line x1="71.38" y1="366.6" x2="71.38" y2="369.6" stroke="#000" stroke-width="1.3"/>
<line x1="82.15" y1="366.6" x2="82.15" y2="369.6" stroke="#000" stroke-width="1.3"/>
<line x1="92.93" y1="366.6" x2="92.93" y2="369.6" stroke="#000" stroke-width="1.3"/>
<line x1="103.7" y1="366.6" x2="103.7" y2="369.6" stroke="#000" stroke-width="1.3"/>
<line x1="114.48" y1="366.6" x2="114.48" y2="369.6" stroke="#000" stroke-width="1.3"/>
<line x1="125.25" y1="366.6" x2="125.25" y2="369.6" stroke="#000" stroke-width="1.3"/>
<line x1="136.03" y1="366.6" x2="136.03" y2="369.6" stroke="#000" stroke-width="1.3"/>
<line x1="146.8" y1="366.6" x2="146.8" y2="369.6" stroke="#000" stroke-width="1.3"/>
<text x="59.6" y="378.91" font-size="8.7" text-anchor="middle" fill="#222" stroke="#222" stroke-width="0.25">2<tspan font-size="70%" dy="-3">-2</tspan></text>
<text x="81.15" y="378.91" font-size="8.7" text-anchor="middle" fill="#222" stroke="#222" stroke-width="0.25">2<tspan font-size="70%" dy="-3">0</tspan></text>
<text x="102.7" y="378.91" font-size="8.7" text-anchor="middle" fill="#222" stroke="#222" stroke-width="0.25">2<tspan font-size="70%" dy="-3">2</tspan></text>
<text x="124.25" y="378.91" font-size="8.7" text-anchor="middle" fill="#222" stroke="#222" stroke-width="0.25">2<tspan font-size="70%" dy="-3">4</tspan></text>
<text x="145.8" y="378.91" font-size="8.7" text-anchor="middle" fill="#222" stroke="#222" stroke-width="0.25">2<tspan font-size="70%" dy="-3">6</tspan></text>
<line x1="60.6" y1="282.7" x2="60.6" y2="367.6" stroke="#000" stroke-width="2.2"/>
<line x1="59.6" y1="366.6" x2="146.8" y2="366.6" stroke="#000" stroke-width="2.2"/>
<path d="M60.6 284.83 L61.14 284.83 L61.68 284.84 L62.23 284.84 L62.77 284.84 L63.31 284.84 L63.85 284.85 L64.39 284.85 L64.94 284.86 L65.48 284.86 L66.02 284.86 L66.56 284.87 L67.11 284.88 L67.65 284.88 L68.19 284.89 L68.73 284.9 L69.27 284.91 L69.82 284.92 L70.36 284.93 L70.9 284.94 L71.44 284.95 L71.98 284.96 L72.53 284.98 L73.07 285 L73.61 285.02 L74.15 285.04 L74.7 285.06 L75.24 285.08 L75.78 285.11 L76.32 285.14 L76.86 285.18 L77.41 285.21 L77.95 285.25 L78.49 285.3 L79.03 285.35 L79.57 285.4 L80.12 285.46 L80.66 285.53 L81.2 285.6 L81.74 285.68 L82.29 285.76 L82.83 285.86 L83.37 285.96 L83.91 286.08 L84.45 286.21 L85 286.35 L85.54 286.5 L86.08 286.67 L86.62 286.85 L87.16 287.05 L87.71 287.27 L88.25 287.52 L88.79 287.78 L89.33 288.07 L89.88 288.39 L90.42 288.73 L90.96 289.11 L91.5 289.52 L92.04 289.97 L92.59 290.46 L93.13 290.99 L93.67 291.56 L94.21 292.19 L94.75 292.86 L95.3 293.59 L95.84 294.37 L96.38 295.22 L96.92 296.12 L97.47 297.09 L98.01 298.13 L98.55 299.24 L99.09 300.41 L99.63 301.66 L100.18 302.98 L100.72 304.37 L101.26 305.83 L101.8 307.35 L102.34 308.94 L102.89 310.59 L103.43 312.3 L103.97 314.06 L104.51 315.86 L105.06 317.7 L105.6 319.57 L106.14 321.47 L106.68 323.38 L107.22 325.3 L107.77 327.21 L108.31 329.12 L108.85 331 L109.39 332.86 L109.93 334.69 L110.48 336.47 L111.02 338.21 L111.56 339.9 L112.1 341.53 L112.65 343.1 L113.19 344.6 L113.73 346.04 L114.27 347.41 L114.81 348.72 L115.36 349.96 L115.9 351.13 L116.44 352.23 L116.98 353.27 L117.52 354.25 L118.07 355.16 L118.61 356.02 L119.15 356.82 L119.69 357.57 L120.24 358.26 L120.78 358.91 L121.32 359.51 L121.86 360.06 L122.4 360.58 L122.95 361.05 L123.49 361.5 L124.03 361.9 L124.57 362.28 L125.11 362.63 L125.66 362.95 L126.2 363.25 L126.74 363.52 L127.28 363.77 L127.83 364 L128.37 364.21 L128.91 364.41 L129.45 364.59 L129.99 364.75 L130.54 364.91 L131.08 365.05 L131.62 365.17 L132.16 365.29 L132.7 365.4 L133.25 365.5 L133.79 365.59 L134.33 365.67 L134.87 365.75 L135.42 366" stroke="#000" stroke-width="1.9" fill="none" stroke-linejoin="round" stroke-linecap="round"/>
<path d="M60.6 285.79 L61.14 285.82 L61.68 285.86 L62.23 285.91 L62.77 285.96 L63.31 286.01 L63.85 286.07 L64.39 286.14 L64.94 286.22 L65.48 286.3 L66.02 286.4 L66.56 286.5 L67.11 286.61 L67.65 286.74 L68.19 286.88 L68.73 287.04 L69.27 287.21 L69.82 287.4 L70.36 287.61 L70.9 287.85 L71.44 288.1 L71.98 288.39 L72.53 288.7 L73.07 289.04 L73.61 289.42 L74.15 289.84 L74.7 290.3 L75.24 290.8 L75.78 291.34 L76.32 291.94 L76.86 292.59 L77.41 293.3 L77.95 294.06 L78.49 294.89 L79.03 295.79 L79.57 296.75 L80.12 297.78 L80.66 298.89 L81.2 300.06 L81.74 301.31 L82.29 302.64 L82.83 304.03 L83.37 305.49 L83.91 307.02 L84.45 308.61 L85 310.25 L85.54 311.95 L86.08 313.69 L86.62 315.47 L87.16 317.28 L87.71 319.11 L88.25 320.96 L88.79 322.81 L89.33 324.65 L89.88 326.49 L90.42 328.31 L90.96 330.1 L91.5 331.86 L92.04 333.58 L92.59 335.25 L93.13 336.88 L93.67 338.46 L94.21 339.99 L94.75 341.45 L95.3 342.86 L95.84 344.22 L96.38 345.51 L96.92 346.74 L97.47 347.91 L98.01 349.03 L98.55 350.09 L99.09 351.09 L99.63 352.04 L100.18 352.94 L100.72 353.79 L101.26 354.59 L101.8 355.34 L102.34 356.05 L102.89 356.72 L103.43 357.35 L103.97 357.94 L104.51 358.49 L105.06 359.01 L105.6 359.5 L106.14 359.96 L106.68 360.39 L107.22 360.79 L107.77 361.16 L108.31 361.52 L108.85 361.85 L109.39 362.16 L109.93 362.45 L110.48 362.72 L111.02 362.97 L111.56 363.21 L112.1 363.43 L112.65 363.64 L113.19 363.83 L113.73 364.01 L114.27 364.18 L114.81 364.34 L115.36 364.49 L115.9 364.63 L116.44 364.75 L116.98 364.88 L117.52 364.99 L118.07 365.09 L118.61 365.19 L119.15 365.29 L119.69 365.37 L120.24 365.45 L120.78 365.53 L121.32 365.6 L121.86 365.66 L122.4 365.73 L122.95 365.78 L123.49 366" stroke="#f51515" stroke-width="1.9" fill="none" stroke-linejoin="round" stroke-linecap="round"/>
<line x1="82.2" y1="280.7" x2="82.2" y2="293.3" stroke="#000" stroke-width="1.7"/>
<line x1="79.6" y1="280.7" x2="84.8" y2="280.7" stroke="#000" stroke-width="1.8"/>
<line x1="79.6" y1="293.3" x2="84.8" y2="293.3" stroke="#000" stroke-width="1.8"/>
<line x1="93.3" y1="292" x2="93.3" y2="299" stroke="#000" stroke-width="1.7"/>
<line x1="90.7" y1="292" x2="95.9" y2="292" stroke="#000" stroke-width="1.8"/>
<line x1="90.7" y1="299" x2="95.9" y2="299" stroke="#000" stroke-width="1.8"/>
<line x1="106.7" y1="313" x2="106.7" y2="324.4" stroke="#000" stroke-width="1.7"/>
<line x1="104.1" y1="313" x2="109.3" y2="313" stroke="#000" stroke-width="1.8"/>
<line x1="104.1" y1="324.4" x2="109.3" y2="324.4" stroke="#000" stroke-width="1.8"/>
<line x1="117.8" y1="356.7" x2="117.8" y2="360" stroke="#000" stroke-width="1.7"/>
<line x1="115.2" y1="356.7" x2="120.4" y2="356.7" stroke="#000" stroke-width="1.8"/>
<line x1="115.2" y1="360" x2="120.4" y2="360" stroke="#000" stroke-width="1.8"/>
<line x1="82.2" y1="301" x2="82.2" y2="313.3" stroke="#f51515" stroke-width="1.7"/>
<line x1="79.6" y1="301" x2="84.8" y2="301" stroke="#f51515" stroke-width="1.8"/>
<line x1="79.6" y1="313.3" x2="84.8" y2="313.3" stroke="#f51515" stroke-width="1.8"/>
<line x1="92.7" y1="334.4" x2="92.7" y2="340" stroke="#f51515" stroke-width="1.7"/>
<line x1="90.1" y1="334.4" x2="95.3" y2="334.4" stroke="#f51515" stroke-width="1.8"/>
<line x1="90.1" y1="340" x2="95.3" y2="340" stroke="#f51515" stroke-width="1.8"/>
<line x1="106.7" y1="356" x2="106.7" y2="361.5" stroke="#f51515" stroke-width="1.7"/>
<line x1="104.1" y1="356" x2="109.3" y2="356" stroke="#f51515" stroke-width="1.8"/>
<line x1="104.1" y1="361.5" x2="109.3" y2="361.5" stroke="#f51515" stroke-width="1.8"/>
<line x1="117.8" y1="364" x2="117.8" y2="366" stroke="#f51515" stroke-width="1.7"/>
<line x1="115.2" y1="364" x2="120.4" y2="364" stroke="#f51515" stroke-width="1.8"/>
<line x1="115.2" y1="366" x2="120.4" y2="366" stroke="#f51515" stroke-width="1.8"/>
<text x="126.5" y="291.24" font-size="8.5" font-weight="bold" text-anchor="middle" fill="#111" stroke="#111" stroke-width="0.12">FaDu</text>
<text x="102.5" y="390.47" font-size="9.4" font-weight="bold" text-anchor="middle" fill="#111" stroke="#111" stroke-width="0.12">Carboplatin (µM)</text>
<text x="34.2" y="326.02" font-size="9.7" font-weight="bold" text-anchor="middle" fill="#111" stroke="#111" stroke-width="0.12" transform="rotate(-90 34.2 322.55)">Surviving Fraction (%)</text>
<line x1="190.4" y1="345.38" x2="193.4" y2="345.38" stroke="#000" stroke-width="1.3"/>
<line x1="190.4" y1="303.53" x2="193.4" y2="303.53" stroke="#000" stroke-width="1.3"/>
<line x1="189.9" y1="366.3" x2="193.4" y2="366.3" stroke="#000" stroke-width="1.5"/>
<text x="189.4" y="369.71" font-size="8.7" text-anchor="end" fill="#222" stroke="#222" stroke-width="0.25">0</text>
<line x1="189.9" y1="324.45" x2="193.4" y2="324.45" stroke="#000" stroke-width="1.5"/>
<text x="189.4" y="327.86" font-size="8.7" text-anchor="end" fill="#222" stroke="#222" stroke-width="0.25">50</text>
<line x1="189.9" y1="282.6" x2="193.4" y2="282.6" stroke="#000" stroke-width="1.5"/>
<text x="189.4" y="286.01" font-size="8.7" text-anchor="end" fill="#222" stroke="#222" stroke-width="0.25">100</text>
<line x1="193.4" y1="366.3" x2="193.4" y2="369.3" stroke="#000" stroke-width="1.3"/>
<line x1="204.16" y1="366.3" x2="204.16" y2="369.3" stroke="#000" stroke-width="1.3"/>
<line x1="214.93" y1="366.3" x2="214.93" y2="369.3" stroke="#000" stroke-width="1.3"/>
<line x1="225.69" y1="366.3" x2="225.69" y2="369.3" stroke="#000" stroke-width="1.3"/>
<line x1="236.45" y1="366.3" x2="236.45" y2="369.3" stroke="#000" stroke-width="1.3"/>
<line x1="247.21" y1="366.3" x2="247.21" y2="369.3" stroke="#000" stroke-width="1.3"/>
<line x1="257.98" y1="366.3" x2="257.98" y2="369.3" stroke="#000" stroke-width="1.3"/>
<line x1="268.74" y1="366.3" x2="268.74" y2="369.3" stroke="#000" stroke-width="1.3"/>
<line x1="279.5" y1="366.3" x2="279.5" y2="369.3" stroke="#000" stroke-width="1.3"/>
<text x="192.4" y="378.61" font-size="8.7" text-anchor="middle" fill="#222" stroke="#222" stroke-width="0.25">2<tspan font-size="70%" dy="-3">-1</tspan></text>
<text x="213.93" y="378.61" font-size="8.7" text-anchor="middle" fill="#222" stroke="#222" stroke-width="0.25">2<tspan font-size="70%" dy="-3">1</tspan></text>
<text x="235.45" y="378.61" font-size="8.7" text-anchor="middle" fill="#222" stroke="#222" stroke-width="0.25">2<tspan font-size="70%" dy="-3">3</tspan></text>
<text x="256.98" y="378.61" font-size="8.7" text-anchor="middle" fill="#222" stroke="#222" stroke-width="0.25">2<tspan font-size="70%" dy="-3">5</tspan></text>
<text x="278.5" y="378.61" font-size="8.7" text-anchor="middle" fill="#222" stroke="#222" stroke-width="0.25">2<tspan font-size="70%" dy="-3">7</tspan></text>
<line x1="193.4" y1="281.8" x2="193.4" y2="367.3" stroke="#000" stroke-width="2.2"/>
<line x1="192.4" y1="366.3" x2="279.5" y2="366.3" stroke="#000" stroke-width="2.2"/>
<path d="M193.4 282.02 L193.94 282.06 L194.48 282.1 L195.02 282.15 L195.57 282.2 L196.11 282.25 L196.65 282.31 L197.19 282.37 L197.73 282.43 L198.27 282.5 L198.82 282.57 L199.36 282.65 L199.9 282.73 L200.44 282.82 L200.98 282.91 L201.52 283.01 L202.06 283.11 L202.61 283.23 L203.15 283.35 L203.69 283.47 L204.23 283.61 L204.77 283.75 L205.31 283.91 L205.85 284.07 L206.4 284.25 L206.94 284.43 L207.48 284.63 L208.02 284.84 L208.56 285.06 L209.1 285.3 L209.65 285.55 L210.19 285.81 L210.73 286.09 L211.27 286.39 L211.81 286.71 L212.35 287.05 L212.89 287.4 L213.44 287.78 L213.98 288.18 L214.52 288.6 L215.06 289.05 L215.6 289.52 L216.14 290.02 L216.68 290.54 L217.23 291.09 L217.77 291.67 L218.31 292.29 L218.85 292.93 L219.39 293.61 L219.93 294.32 L220.48 295.06 L221.02 295.84 L221.56 296.66 L222.1 297.51 L222.64 298.4 L223.18 299.32 L223.72 300.29 L224.27 301.29 L224.81 302.33 L225.35 303.41 L225.89 304.53 L226.43 305.68 L226.97 306.87 L227.52 308.09 L228.06 309.35 L228.6 310.64 L229.14 311.96 L229.68 313.31 L230.22 314.68 L230.76 316.08 L231.31 317.5 L231.85 318.94 L232.39 320.39 L232.93 321.86 L233.47 323.33 L234.01 324.81 L234.55 326.29 L235.1 327.77 L235.64 329.25 L236.18 330.72 L236.72 332.17 L237.26 333.61 L237.8 335.03 L238.35 336.43 L238.89 337.81 L239.43 339.15 L239.97 340.47 L240.51 341.75 L241.05 343.01 L241.59 344.22 L242.14 345.4 L242.68 346.53 L243.22 347.63 L243.76 348.69 L244.3 349.7 L244.84 350.67 L245.38 351.61 L245.93 352.5 L246.47 353.34 L247.01 354.15 L247.55 354.92 L248.09 355.65 L248.63 356.34 L249.18 356.99 L249.72 357.61 L250.26 358.19 L250.8 358.74 L251.34 359.26 L251.88 359.74 L252.42 360.2 L252.97 360.63 L253.51 361.03 L254.05 361.4 L254.59 361.75 L255.13 362.08 L255.67 362.38 L256.22 362.67 L256.76 362.94 L257.3 363.18 L257.84 363.41 L258.38 363.63 L258.92 363.83 L259.46 364.01 L260.01 364.18 L260.55 364.34 L261.09 364.49 L261.63 364.63 L262.17 364.75 L262.71 364.87 L263.25 364.98 L263.8 365.08 L264.34 365.18 L264.88 365.26 L265.42 365.34 L265.96 365.42 L266.5 365.48 L267.05 365.7" stroke="#000" stroke-width="1.9" fill="none" stroke-linejoin="round" stroke-linecap="round"/>
<path d="M193.4 284.89 L193.94 285 L194.48 285.13 L195.02 285.27 L195.57 285.41 L196.11 285.57 L196.65 285.75 L197.19 285.93 L197.73 286.13 L198.27 286.35 L198.82 286.58 L199.36 286.84 L199.9 287.11 L200.44 287.4 L200.98 287.72 L201.52 288.06 L202.06 288.42 L202.61 288.81 L203.15 289.23 L203.69 289.68 L204.23 290.16 L204.77 290.67 L205.31 291.22 L205.85 291.81 L206.4 292.43 L206.94 293.1 L207.48 293.8 L208.02 294.55 L208.56 295.34 L209.1 296.18 L209.65 297.07 L210.19 298 L210.73 298.98 L211.27 300.01 L211.81 301.08 L212.35 302.21 L212.89 303.38 L213.44 304.6 L213.98 305.86 L214.52 307.16 L215.06 308.5 L215.6 309.89 L216.14 311.31 L216.68 312.76 L217.23 314.23 L217.77 315.74 L218.31 317.26 L218.85 318.8 L219.39 320.35 L219.93 321.9 L220.48 323.46 L221.02 325.02 L221.56 326.57 L222.1 328.11 L222.64 329.63 L223.18 331.14 L223.72 332.62 L224.27 334.08 L224.81 335.5 L225.35 336.9 L225.89 338.25 L226.43 339.58 L226.97 340.86 L227.52 342.1 L228.06 343.3 L228.6 344.46 L229.14 345.58 L229.68 346.65 L230.22 347.68 L230.76 348.67 L231.31 349.62 L231.85 350.52 L232.39 351.38 L232.93 352.21 L233.47 352.99 L234.01 353.74 L234.55 354.44 L235.1 355.12 L235.64 355.76 L236.18 356.36 L236.72 356.94 L237.26 357.48 L237.8 357.99 L238.35 358.48 L238.89 358.94 L239.43 359.37 L239.97 359.78 L240.51 360.17 L241.05 360.53 L241.59 360.88 L242.14 361.2 L242.68 361.51 L243.22 361.79 L243.76 362.06 L244.3 362.32 L244.84 362.56 L245.38 362.78 L245.93 363 L246.47 363.2 L247.01 363.39 L247.55 363.56 L248.09 363.73 L248.63 363.88 L249.18 364.03 L249.72 364.17 L250.26 364.3 L250.8 364.42 L251.34 364.54 L251.88 364.64 L252.42 364.74 L252.97 364.84 L253.51 364.93 L254.05 365.01 L254.59 365.09 L255.13 365.17 L255.67 365.23 L256.22 365.3 L256.76 365.36 L257.3 365.42 L257.84 365.47 L258.38 365.7" stroke="#f51515" stroke-width="1.9" fill="none" stroke-linejoin="round" stroke-linecap="round"/>
<line x1="215.4" y1="282.1" x2="215.4" y2="289.4" stroke="#000" stroke-width="1.7"/>
<line x1="212.8" y1="282.1" x2="218" y2="282.1" stroke="#000" stroke-width="1.8"/>
<line x1="212.8" y1="289.4" x2="218" y2="289.4" stroke="#000" stroke-width="1.8"/>
<line x1="228.9" y1="320.6" x2="228.9" y2="324" stroke="#000" stroke-width="1.7"/>
<line x1="226.3" y1="320.6" x2="231.5" y2="320.6" stroke="#000" stroke-width="1.8"/>
<line x1="226.3" y1="324" x2="231.5" y2="324" stroke="#000" stroke-width="1.8"/>
<line x1="239" y1="337.5" x2="239" y2="340.1" stroke="#000" stroke-width="1.7"/>
<line x1="236.4" y1="337.5" x2="241.6" y2="337.5" stroke="#000" stroke-width="1.8"/>
<line x1="236.4" y1="340.1" x2="241.6" y2="340.1" stroke="#000" stroke-width="1.8"/>
<line x1="245.8" y1="347.3" x2="245.8" y2="350.7" stroke="#000" stroke-width="1.7"/>
<line x1="243.2" y1="347.3" x2="248.4" y2="347.3" stroke="#000" stroke-width="1.8"/>
<line x1="243.2" y1="350.7" x2="248.4" y2="350.7" stroke="#000" stroke-width="1.8"/>
<line x1="250" y1="353.6" x2="250" y2="359.5" stroke="#000" stroke-width="1.7"/>
<line x1="247.4" y1="353.6" x2="252.6" y2="353.6" stroke="#000" stroke-width="1.8"/>
<line x1="247.4" y1="359.5" x2="252.6" y2="359.5" stroke="#000" stroke-width="1.8"/>
<line x1="215" y1="301.2" x2="215" y2="309.7" stroke="#f51515" stroke-width="1.7"/>
<line x1="212.4" y1="301.2" x2="217.6" y2="301.2" stroke="#f51515" stroke-width="1.8"/>
<line x1="212.4" y1="309.7" x2="217.6" y2="309.7" stroke="#f51515" stroke-width="1.8"/>
<line x1="228.9" y1="345.2" x2="228.9" y2="347.7" stroke="#f51515" stroke-width="1.7"/>
<line x1="226.3" y1="345.2" x2="231.5" y2="345.2" stroke="#f51515" stroke-width="1.8"/>
<line x1="226.3" y1="347.7" x2="231.5" y2="347.7" stroke="#f51515" stroke-width="1.8"/>
<line x1="239.4" y1="355.8" x2="239.4" y2="361.5" stroke="#f51515" stroke-width="1.7"/>
<line x1="236.8" y1="355.8" x2="242" y2="355.8" stroke="#f51515" stroke-width="1.8"/>
<line x1="236.8" y1="361.5" x2="242" y2="361.5" stroke="#f51515" stroke-width="1.8"/>
<line x1="245.8" y1="362.9" x2="245.8" y2="364.6" stroke="#f51515" stroke-width="1.7"/>
<line x1="243.2" y1="362.9" x2="248.4" y2="362.9" stroke="#f51515" stroke-width="1.8"/>
<line x1="243.2" y1="364.6" x2="248.4" y2="364.6" stroke="#f51515" stroke-width="1.8"/>
<text x="260" y="291.24" font-size="8.5" font-weight="bold" text-anchor="middle" fill="#111" stroke="#111" stroke-width="0.12">HCT116</text>
<text x="236.2" y="390.17" font-size="9.4" font-weight="bold" text-anchor="middle" fill="#111" stroke="#111" stroke-width="0.12">Carboplatin (µM)</text>
<text x="166.2" y="325.42" font-size="9.7" font-weight="bold" text-anchor="middle" fill="#111" stroke="#111" stroke-width="0.12" transform="rotate(-90 166.2 321.95)">Surviving Fraction (%)</text>
<line x1="325.4" y1="345.78" x2="328.4" y2="345.78" stroke="#000" stroke-width="1.3"/>
<line x1="325.4" y1="303.12" x2="328.4" y2="303.12" stroke="#000" stroke-width="1.3"/>
<line x1="324.9" y1="367.1" x2="328.4" y2="367.1" stroke="#000" stroke-width="1.5"/>
<text x="324.4" y="370.51" font-size="8.7" text-anchor="end" fill="#222" stroke="#222" stroke-width="0.25">0</text>
<line x1="324.9" y1="324.45" x2="328.4" y2="324.45" stroke="#000" stroke-width="1.5"/>
<text x="324.4" y="327.86" font-size="8.7" text-anchor="end" fill="#222" stroke="#222" stroke-width="0.25">50</text>
<line x1="324.9" y1="281.8" x2="328.4" y2="281.8" stroke="#000" stroke-width="1.5"/>
<text x="324.4" y="285.21" font-size="8.7" text-anchor="end" fill="#222" stroke="#222" stroke-width="0.25">100</text>
<line x1="328.4" y1="367.1" x2="328.4" y2="370.1" stroke="#000" stroke-width="1.3"/>
<line x1="339.22" y1="367.1" x2="339.22" y2="370.1" stroke="#000" stroke-width="1.3"/>
<line x1="350.05" y1="367.1" x2="350.05" y2="370.1" stroke="#000" stroke-width="1.3"/>
<line x1="360.88" y1="367.1" x2="360.88" y2="370.1" stroke="#000" stroke-width="1.3"/>
<line x1="371.7" y1="367.1" x2="371.7" y2="370.1" stroke="#000" stroke-width="1.3"/>
<line x1="382.52" y1="367.1" x2="382.52" y2="370.1" stroke="#000" stroke-width="1.3"/>
<line x1="393.35" y1="367.1" x2="393.35" y2="370.1" stroke="#000" stroke-width="1.3"/>
<line x1="404.18" y1="367.1" x2="404.18" y2="370.1" stroke="#000" stroke-width="1.3"/>
<line x1="415" y1="367.1" x2="415" y2="370.1" stroke="#000" stroke-width="1.3"/>
<text x="327.4" y="379.41" font-size="8.7" text-anchor="middle" fill="#222" stroke="#222" stroke-width="0.25">2<tspan font-size="70%" dy="-3">-1</tspan></text>
<text x="349.05" y="379.41" font-size="8.7" text-anchor="middle" fill="#222" stroke="#222" stroke-width="0.25">2<tspan font-size="70%" dy="-3">1</tspan></text>
<text x="370.7" y="379.41" font-size="8.7" text-anchor="middle" fill="#222" stroke="#222" stroke-width="0.25">2<tspan font-size="70%" dy="-3">3</tspan></text>
<text x="392.35" y="379.41" font-size="8.7" text-anchor="middle" fill="#222" stroke="#222" stroke-width="0.25">2<tspan font-size="70%" dy="-3">5</tspan></text>
<text x="414" y="379.41" font-size="8.7" text-anchor="middle" fill="#222" stroke="#222" stroke-width="0.25">2<tspan font-size="70%" dy="-3">7</tspan></text>
<line x1="328.4" y1="281" x2="328.4" y2="368.1" stroke="#000" stroke-width="2.2"/>
<line x1="327.4" y1="367.1" x2="415" y2="367.1" stroke="#000" stroke-width="2.2"/>
<path d="M328.4 285.75 L328.94 285.76 L329.49 285.77 L330.03 285.78 L330.58 285.79 L331.12 285.81 L331.67 285.82 L332.21 285.83 L332.76 285.85 L333.3 285.86 L333.85 285.88 L334.39 285.9 L334.94 285.92 L335.48 285.94 L336.03 285.97 L336.57 286 L337.11 286.02 L337.66 286.06 L338.2 286.09 L338.75 286.12 L339.29 286.16 L339.84 286.21 L340.38 286.25 L340.93 286.3 L341.47 286.35 L342.02 286.41 L342.56 286.47 L343.11 286.54 L343.65 286.61 L344.19 286.69 L344.74 286.78 L345.28 286.87 L345.83 286.97 L346.37 287.08 L346.92 287.19 L347.46 287.31 L348.01 287.45 L348.55 287.59 L349.1 287.75 L349.64 287.92 L350.19 288.1 L350.73 288.29 L351.28 288.5 L351.82 288.73 L352.36 288.97 L352.91 289.23 L353.45 289.51 L354 289.81 L354.54 290.13 L355.09 290.47 L355.63 290.84 L356.18 291.24 L356.72 291.66 L357.27 292.12 L357.81 292.6 L358.36 293.11 L358.9 293.66 L359.45 294.24 L359.99 294.86 L360.53 295.52 L361.08 296.22 L361.62 296.96 L362.17 297.74 L362.71 298.56 L363.26 299.43 L363.8 300.34 L364.35 301.3 L364.89 302.3 L365.44 303.35 L365.98 304.45 L366.53 305.58 L367.07 306.77 L367.62 307.99 L368.16 309.25 L368.7 310.56 L369.25 311.9 L369.79 313.27 L370.34 314.68 L370.88 316.11 L371.43 317.57 L371.97 319.04 L372.52 320.54 L373.06 322.04 L373.61 323.56 L374.15 325.08 L374.7 326.6 L375.24 328.11 L375.78 329.61 L376.33 331.1 L376.87 332.58 L377.42 334.03 L377.96 335.46 L378.51 336.86 L379.05 338.23 L379.6 339.57 L380.14 340.88 L380.69 342.14 L381.23 343.37 L381.78 344.56 L382.32 345.71 L382.87 346.82 L383.41 347.88 L383.95 348.9 L384.5 349.88 L385.04 350.82 L385.59 351.72 L386.13 352.58 L386.68 353.4 L387.22 354.17 L387.77 354.91 L388.31 355.62 L388.86 356.29 L389.4 356.92 L389.95 357.52 L390.49 358.09 L391.04 358.62 L391.58 359.13 L392.12 359.61 L392.67 360.06 L393.21 360.49 L393.76 360.89 L394.3 361.27 L394.85 361.63 L395.39 361.97 L395.94 362.28 L396.48 362.58 L397.03 362.86 L397.57 363.13 L398.12 363.37 L398.66 363.61 L399.21 363.82 L399.75 364.03 L400.29 364.22 L400.84 364.4 L401.38 364.57 L401.93 364.73 L402.47 364.88 L403.02 365.02 L403.56 365.15 L404.11 365.28 L404.65 365.39 L405.2 365.5 L405.74 365.6 L406.29 365.7 L406.83 365.78 L407.37 365.87 L407.92 365.95 L408.46 366.02 L409.01 366.09 L409.55 366.15 L410.1 366.21 L410.64 366.27 L411.19 366.5" stroke="#000" stroke-width="1.9" fill="none" stroke-linejoin="round" stroke-linecap="round"/>
<path d="M328.4 287.65 L328.94 287.79 L329.49 287.94 L330.03 288.11 L330.58 288.29 L331.12 288.48 L331.67 288.68 L332.21 288.9 L332.76 289.14 L333.3 289.4 L333.85 289.67 L334.39 289.96 L334.94 290.28 L335.48 290.61 L336.03 290.97 L336.57 291.35 L337.11 291.77 L337.66 292.2 L338.2 292.67 L338.75 293.17 L339.29 293.7 L339.84 294.26 L340.38 294.86 L340.93 295.5 L341.47 296.17 L342.02 296.89 L342.56 297.64 L343.11 298.43 L343.65 299.27 L344.19 300.15 L344.74 301.08 L345.28 302.05 L345.83 303.06 L346.37 304.12 L346.92 305.22 L347.46 306.37 L348.01 307.56 L348.55 308.79 L349.1 310.06 L349.64 311.37 L350.19 312.71 L350.73 314.09 L351.28 315.49 L351.82 316.93 L352.36 318.39 L352.91 319.86 L353.45 321.36 L354 322.86 L354.54 324.37 L355.09 325.89 L355.63 327.4 L356.18 328.91 L356.72 330.41 L357.27 331.9 L357.81 333.37 L358.36 334.82 L358.9 336.24 L359.45 337.64 L359.99 339 L360.53 340.33 L361.08 341.63 L361.62 342.89 L362.17 344.11 L362.71 345.29 L363.26 346.43 L363.8 347.53 L364.35 348.59 L364.89 349.6 L365.44 350.57 L365.98 351.5 L366.53 352.39 L367.07 353.23 L367.62 354.04 L368.16 354.8 L368.7 355.53 L369.25 356.22 L369.79 356.87 L370.34 357.49 L370.88 358.08 L371.43 358.63 L371.97 359.16 L372.52 359.65 L373.06 360.11 L373.61 360.55 L374.15 360.96 L374.7 361.35 L375.24 361.72 L375.78 362.06 L376.33 362.38 L376.87 362.69 L377.42 362.97 L377.96 363.24 L378.51 363.49 L379.05 363.72 L379.6 363.94 L380.14 364.14 L380.69 364.34 L381.23 364.52 L381.78 364.69 L382.32 364.84 L382.87 364.99 L383.41 365.13 L383.95 365.26 L384.5 365.38 L385.04 365.49 L385.59 365.6 L386.13 365.7 L386.68 365.79 L387.22 365.88 L387.77 365.96 L388.31 366.03 L388.86 366.1 L389.4 366.17 L389.95 366.23 L390.49 366.29 L391.04 366.5" stroke="#f51515" stroke-width="1.9" fill="none" stroke-linejoin="round" stroke-linecap="round"/>
<line x1="350.4" y1="283.8" x2="350.4" y2="302" stroke="#000" stroke-width="1.7"/>
<line x1="347.8" y1="283.8" x2="353" y2="283.8" stroke="#000" stroke-width="1.8"/>
<line x1="347.8" y1="302" x2="353" y2="302" stroke="#000" stroke-width="1.8"/>
<line x1="364.7" y1="306.3" x2="364.7" y2="313.5" stroke="#000" stroke-width="1.7"/>
<line x1="362.1" y1="306.3" x2="367.3" y2="306.3" stroke="#000" stroke-width="1.8"/>
<line x1="362.1" y1="313.5" x2="367.3" y2="313.5" stroke="#000" stroke-width="1.8"/>
<line x1="374.9" y1="324" x2="374.9" y2="331.6" stroke="#000" stroke-width="1.7"/>
<line x1="372.3" y1="324" x2="377.5" y2="324" stroke="#000" stroke-width="1.8"/>
<line x1="372.3" y1="331.6" x2="377.5" y2="331.6" stroke="#000" stroke-width="1.8"/>
<line x1="328.6" y1="290" x2="328.6" y2="295.3" stroke="#f51515" stroke-width="1.7"/>
<line x1="326" y1="290" x2="331.2" y2="290" stroke="#f51515" stroke-width="1.8"/>
<line x1="326" y1="295.3" x2="331.2" y2="295.3" stroke="#f51515" stroke-width="1.8"/>
<line x1="350.4" y1="305.4" x2="350.4" y2="313" stroke="#f51515" stroke-width="1.7"/>
<line x1="347.8" y1="305.4" x2="353" y2="305.4" stroke="#f51515" stroke-width="1.8"/>
<line x1="347.8" y1="313" x2="353" y2="313" stroke="#f51515" stroke-width="1.8"/>
<line x1="364.7" y1="340.9" x2="364.7" y2="359.5" stroke="#f51515" stroke-width="1.7"/>
<line x1="362.1" y1="340.9" x2="367.3" y2="340.9" stroke="#f51515" stroke-width="1.8"/>
<line x1="362.1" y1="359.5" x2="367.3" y2="359.5" stroke="#f51515" stroke-width="1.8"/>
<line x1="375.4" y1="361.5" x2="375.4" y2="364.2" stroke="#f51515" stroke-width="1.7"/>
<line x1="372.8" y1="361.5" x2="378" y2="361.5" stroke="#f51515" stroke-width="1.8"/>
<line x1="372.8" y1="364.2" x2="378" y2="364.2" stroke="#f51515" stroke-width="1.8"/>
<text x="400" y="291.24" font-size="8.5" font-weight="bold" text-anchor="middle" fill="#111" stroke="#111" stroke-width="0.12">H460</text>
<text x="372.5" y="390.97" font-size="9.4" font-weight="bold" text-anchor="middle" fill="#111" stroke="#111" stroke-width="0.12">Carboplatin (µM)</text>
<text x="301.2" y="325.42" font-size="9.7" font-weight="bold" text-anchor="middle" fill="#111" stroke="#111" stroke-width="0.12" transform="rotate(-90 301.2 321.95)">Surviving Fraction (%)</text>
<line x1="459.7" y1="344.95" x2="462.7" y2="344.95" stroke="#000" stroke-width="1.3"/>
<line x1="459.7" y1="302.25" x2="462.7" y2="302.25" stroke="#000" stroke-width="1.3"/>
<line x1="459.2" y1="366.3" x2="462.7" y2="366.3" stroke="#000" stroke-width="1.5"/>
<text x="458.7" y="369.71" font-size="8.7" text-anchor="end" fill="#222" stroke="#222" stroke-width="0.25">0</text>
<line x1="459.2" y1="323.6" x2="462.7" y2="323.6" stroke="#000" stroke-width="1.5"/>
<text x="458.7" y="327.01" font-size="8.7" text-anchor="end" fill="#222" stroke="#222" stroke-width="0.25">50</text>
<line x1="459.2" y1="280.9" x2="462.7" y2="280.9" stroke="#000" stroke-width="1.5"/>
<text x="458.7" y="284.31" font-size="8.7" text-anchor="end" fill="#222" stroke="#222" stroke-width="0.25">100</text>
<line x1="462.7" y1="366.3" x2="462.7" y2="369.3" stroke="#000" stroke-width="1.3"/>
<line x1="473.55" y1="366.3" x2="473.55" y2="369.3" stroke="#000" stroke-width="1.3"/>
<line x1="484.4" y1="366.3" x2="484.4" y2="369.3" stroke="#000" stroke-width="1.3"/>
<line x1="495.25" y1="366.3" x2="495.25" y2="369.3" stroke="#000" stroke-width="1.3"/>
<line x1="506.1" y1="366.3" x2="506.1" y2="369.3" stroke="#000" stroke-width="1.3"/>
<line x1="516.95" y1="366.3" x2="516.95" y2="369.3" stroke="#000" stroke-width="1.3"/>
<line x1="527.8" y1="366.3" x2="527.8" y2="369.3" stroke="#000" stroke-width="1.3"/>
<line x1="538.65" y1="366.3" x2="538.65" y2="369.3" stroke="#000" stroke-width="1.3"/>
<line x1="549.5" y1="366.3" x2="549.5" y2="369.3" stroke="#000" stroke-width="1.3"/>
<text x="461.7" y="378.61" font-size="8.7" text-anchor="middle" fill="#222" stroke="#222" stroke-width="0.25">2<tspan font-size="70%" dy="-3">0</tspan></text>
<text x="483.4" y="378.61" font-size="8.7" text-anchor="middle" fill="#222" stroke="#222" stroke-width="0.25">2<tspan font-size="70%" dy="-3">2</tspan></text>
<text x="505.1" y="378.61" font-size="8.7" text-anchor="middle" fill="#222" stroke="#222" stroke-width="0.25">2<tspan font-size="70%" dy="-3">4</tspan></text>
<text x="526.8" y="378.61" font-size="8.7" text-anchor="middle" fill="#222" stroke="#222" stroke-width="0.25">2<tspan font-size="70%" dy="-3">6</tspan></text>
<text x="548.5" y="378.61" font-size="8.7" text-anchor="middle" fill="#222" stroke="#222" stroke-width="0.25">2<tspan font-size="70%" dy="-3">8</tspan></text>
<line x1="462.7" y1="280.1" x2="462.7" y2="367.3" stroke="#000" stroke-width="2.2"/>
<line x1="461.7" y1="366.3" x2="549.5" y2="366.3" stroke="#000" stroke-width="2.2"/>
<path d="M462.7 285.97 L463.25 286.14 L463.79 286.31 L464.34 286.48 L464.88 286.66 L465.43 286.85 L465.98 287.04 L466.52 287.23 L467.07 287.43 L467.61 287.64 L468.16 287.85 L468.71 288.07 L469.25 288.29 L469.8 288.52 L470.34 288.76 L470.89 289 L471.43 289.25 L471.98 289.51 L472.53 289.77 L473.07 290.04 L473.62 290.32 L474.16 290.6 L474.71 290.9 L475.26 291.2 L475.8 291.51 L476.35 291.82 L476.89 292.14 L477.44 292.48 L477.99 292.82 L478.53 293.17 L479.08 293.52 L479.62 293.89 L480.17 294.27 L480.72 294.65 L481.26 295.04 L481.81 295.45 L482.35 295.86 L482.9 296.28 L483.44 296.71 L483.99 297.16 L484.54 297.61 L485.08 298.07 L485.63 298.54 L486.17 299.02 L486.72 299.52 L487.27 300.02 L487.81 300.53 L488.36 301.05 L488.9 301.59 L489.45 302.13 L490 302.69 L490.54 303.26 L491.09 303.83 L491.63 304.42 L492.18 305.02 L492.73 305.63 L493.27 306.25 L493.82 306.88 L494.36 307.52 L494.91 308.17 L495.45 308.83 L496 309.5 L496.55 310.18 L497.09 310.87 L497.64 311.57 L498.18 312.28 L498.73 313 L499.28 313.72 L499.82 314.46 L500.37 315.2 L500.91 315.96 L501.46 316.72 L502.01 317.49 L502.55 318.26 L503.1 319.04 L503.64 319.83 L504.19 320.63 L504.74 321.43 L505.28 322.23 L505.83 323.04 L506.37 323.85 L506.92 324.67 L507.46 325.49 L508.01 326.31 L508.56 327.14 L509.1 327.97 L509.65 328.79 L510.19 329.62 L510.74 330.45 L511.29 331.28 L511.83 332.1 L512.38 332.93 L512.92 333.75 L513.47 334.57 L514.02 335.38 L514.56 336.19 L515.11 337 L515.65 337.8 L516.2 338.59 L516.75 339.38 L517.29 340.16 L517.84 340.93 L518.38 341.7 L518.93 342.45 L519.47 343.2 L520.02 343.93 L520.57 344.66 L521.11 345.37 L521.66 346.08 L522.2 346.77 L522.75 347.45 L523.3 348.11 L523.84 348.77 L524.39 349.41 L524.93 350.04 L525.48 350.65 L526.03 351.25 L526.57 351.84 L527.12 352.41 L527.66 352.97 L528.21 353.51 L528.76 354.04 L529.3 354.56 L529.85 355.06 L530.39 355.54 L530.94 356.01 L531.48 356.47 L532.03 356.91 L532.58 357.34 L533.12 357.75 L533.67 358.15 L534.21 358.53 L534.76 358.9 L535.31 359.26 L535.85 359.61 L536.4 359.94 L536.94 360.25 L537.49 360.56 L538.04 360.85 L538.58 361.13 L539.13 361.4 L539.67 361.66 L540.22 361.91 L540.77 362.14 L541.31 362.37 L541.86 362.58 L542.4 362.79 L542.95 362.98 L543.49 363.17 L544.04 363.35 L544.59 363.52 L545.13 363.68 L545.68 363.83 L546.22 363.97 L546.77 364.11 L547.32 364.24 L547.86 364.36 L548.41 364.48 L548.95 364.59 L549.5 364.69" stroke="#000" stroke-width="1.9" fill="none" stroke-linejoin="round" stroke-linecap="round"/>
<path d="M462.7 292.48 L463.25 292.87 L463.79 293.27 L464.34 293.68 L464.88 294.09 L465.43 294.51 L465.98 294.94 L466.52 295.38 L467.07 295.82 L467.61 296.28 L468.16 296.74 L468.71 297.21 L469.25 297.69 L469.8 298.17 L470.34 298.67 L470.89 299.17 L471.43 299.68 L471.98 300.21 L472.53 300.73 L473.07 301.27 L473.62 301.82 L474.16 302.37 L474.71 302.94 L475.26 303.51 L475.8 304.09 L476.35 304.68 L476.89 305.28 L477.44 305.88 L477.99 306.5 L478.53 307.12 L479.08 307.75 L479.62 308.39 L480.17 309.04 L480.72 309.69 L481.26 310.36 L481.81 311.03 L482.35 311.71 L482.9 312.39 L483.44 313.09 L483.99 313.79 L484.54 314.49 L485.08 315.21 L485.63 315.93 L486.17 316.66 L486.72 317.39 L487.27 318.13 L487.81 318.88 L488.36 319.63 L488.9 320.38 L489.45 321.14 L490 321.91 L490.54 322.68 L491.09 323.45 L491.63 324.22 L492.18 325 L492.73 325.79 L493.27 326.57 L493.82 327.36 L494.36 328.14 L494.91 328.93 L495.45 329.72 L496 330.51 L496.55 331.3 L497.09 332.09 L497.64 332.88 L498.18 333.67 L498.73 334.45 L499.28 335.23 L499.82 336.01 L500.37 336.79 L500.91 337.56 L501.46 338.33 L502.01 339.09 L502.55 339.85 L503.1 340.6 L503.64 341.35 L504.19 342.08 L504.74 342.82 L505.28 343.54 L505.83 344.25 L506.37 344.96 L506.92 345.66 L507.46 346.35 L508.01 347.03 L508.56 347.69 L509.1 348.35 L509.65 349 L510.19 349.63 L510.74 350.26 L511.29 350.87 L511.83 351.47 L512.38 352.06 L512.92 352.63 L513.47 353.19 L514.02 353.74 L514.56 354.27 L515.11 354.79 L515.65 355.3 L516.2 355.8 L516.75 356.28 L517.29 356.74 L517.84 357.19 L518.38 357.63 L518.93 358.05 L519.47 358.46 L520.02 358.86 L520.57 359.24 L521.11 359.61 L521.66 359.97 L522.2 360.31 L522.75 360.64 L523.3 360.95 L523.84 361.25 L524.39 361.54 L524.93 361.82 L525.48 362.09 L526.03 362.34 L526.57 362.58 L527.12 362.81 L527.66 363.03 L528.21 363.24 L528.76 363.43 L529.3 363.62 L529.85 363.8 L530.39 363.97 L530.94 364.13 L531.48 364.28 L532.03 364.42 L532.58 364.55 L533.12 364.68 L533.67 364.79 L534.21 364.91 L534.76 365.01 L535.31 365.11 L535.85 365.2 L536.4 365.28 L536.94 365.36 L537.49 365.44 L538.04 365.7" stroke="#f51515" stroke-width="1.9" fill="none" stroke-linejoin="round" stroke-linecap="round"/>
<line x1="488.1" y1="296.6" x2="488.1" y2="305.4" stroke="#000" stroke-width="1.7"/>
<line x1="485.5" y1="296.6" x2="490.7" y2="296.6" stroke="#000" stroke-width="1.8"/>
<line x1="485.5" y1="305.4" x2="490.7" y2="305.4" stroke="#000" stroke-width="1.8"/>
<line x1="498.7" y1="317.3" x2="498.7" y2="320.6" stroke="#000" stroke-width="1.7"/>
<line x1="496.1" y1="317.3" x2="501.3" y2="317.3" stroke="#000" stroke-width="1.8"/>
<line x1="496.1" y1="320.6" x2="501.3" y2="320.6" stroke="#000" stroke-width="1.8"/>
<line x1="513.1" y1="334.2" x2="513.1" y2="336.7" stroke="#000" stroke-width="1.7"/>
<line x1="510.5" y1="334.2" x2="515.7" y2="334.2" stroke="#000" stroke-width="1.8"/>
<line x1="510.5" y1="336.7" x2="515.7" y2="336.7" stroke="#000" stroke-width="1.8"/>
<line x1="524.1" y1="340.1" x2="524.1" y2="341.8" stroke="#000" stroke-width="1.7"/>
<line x1="521.5" y1="340.1" x2="526.7" y2="340.1" stroke="#000" stroke-width="1.8"/>
<line x1="521.5" y1="341.8" x2="526.7" y2="341.8" stroke="#000" stroke-width="1.8"/>
<line x1="535.1" y1="358.7" x2="535.1" y2="361.2" stroke="#000" stroke-width="1.7"/>
<line x1="532.5" y1="358.7" x2="537.7" y2="358.7" stroke="#000" stroke-width="1.8"/>
<line x1="532.5" y1="361.2" x2="537.7" y2="361.2" stroke="#000" stroke-width="1.8"/>
<line x1="488.1" y1="315.6" x2="488.1" y2="324" stroke="#f51515" stroke-width="1.7"/>
<line x1="485.5" y1="315.6" x2="490.7" y2="315.6" stroke="#f51515" stroke-width="1.8"/>
<line x1="485.5" y1="324" x2="490.7" y2="324" stroke="#f51515" stroke-width="1.8"/>
<line x1="498.7" y1="332.5" x2="498.7" y2="335.9" stroke="#f51515" stroke-width="1.7"/>
<line x1="496.1" y1="332.5" x2="501.3" y2="332.5" stroke="#f51515" stroke-width="1.8"/>
<line x1="496.1" y1="335.9" x2="501.3" y2="335.9" stroke="#f51515" stroke-width="1.8"/>
<line x1="513.1" y1="346.8" x2="513.1" y2="354.4" stroke="#f51515" stroke-width="1.7"/>
<line x1="510.5" y1="346.8" x2="515.7" y2="346.8" stroke="#f51515" stroke-width="1.8"/>
<line x1="510.5" y1="354.4" x2="515.7" y2="354.4" stroke="#f51515" stroke-width="1.8"/>
<line x1="524.1" y1="362" x2="524.1" y2="365.4" stroke="#f51515" stroke-width="1.7"/>
<line x1="521.5" y1="362" x2="526.7" y2="362" stroke="#f51515" stroke-width="1.8"/>
<line x1="521.5" y1="365.4" x2="526.7" y2="365.4" stroke="#f51515" stroke-width="1.8"/>
<text x="535" y="291.24" font-size="8.5" font-weight="bold" text-anchor="middle" fill="#111" stroke="#111" stroke-width="0.12">DLD-1</text>
<text x="506.2" y="390.17" font-size="9.4" font-weight="bold" text-anchor="middle" fill="#111" stroke="#111" stroke-width="0.12">Carboplatin (µM)</text>
<text x="436.2" y="324.57" font-size="9.7" font-weight="bold" text-anchor="middle" fill="#111" stroke="#111" stroke-width="0.12" transform="rotate(-90 436.2 321.1)">Surviving Fraction (%)</text>
<text x="0.2" y="415.74" font-size="13.8" font-weight="bold" text-anchor="start" fill="#000" stroke="#000" stroke-width="0.12">D</text>
<line x1="239.2" y1="410" x2="255.2" y2="410" stroke="#000" stroke-width="2.2"/>
<text x="261.9" y="413.29" font-size="9.2" text-anchor="start" fill="#111" stroke="#111" stroke-width="0.25">DMSO</text>
<line x1="297" y1="410" x2="312.6" y2="410" stroke="#1a6ae8" stroke-width="2.2"/>
<text x="319.3" y="413.4" font-size="9.5" text-anchor="start" fill="#111" stroke="#111" stroke-width="0.25">ATQ 30 <tspan font-style="italic">µ</tspan>M</text>
<line x1="57.4" y1="491.27" x2="60.4" y2="491.27" stroke="#000" stroke-width="1.3"/>
<line x1="57.4" y1="448.02" x2="60.4" y2="448.02" stroke="#000" stroke-width="1.3"/>
<line x1="56.9" y1="512.9" x2="60.4" y2="512.9" stroke="#000" stroke-width="1.5"/>
<text x="56.4" y="516.31" font-size="8.7" text-anchor="end" fill="#222" stroke="#222" stroke-width="0.25">0</text>
<line x1="56.9" y1="469.65" x2="60.4" y2="469.65" stroke="#000" stroke-width="1.5"/>
<text x="56.4" y="473.06" font-size="8.7" text-anchor="end" fill="#222" stroke="#222" stroke-width="0.25">50</text>
<line x1="56.9" y1="426.4" x2="60.4" y2="426.4" stroke="#000" stroke-width="1.5"/>
<text x="56.4" y="429.81" font-size="8.7" text-anchor="end" fill="#222" stroke="#222" stroke-width="0.25">100</text>
<line x1="60.4" y1="512.9" x2="60.4" y2="515.9" stroke="#000" stroke-width="1.3"/>
<line x1="72.89" y1="512.9" x2="72.89" y2="515.9" stroke="#000" stroke-width="1.3"/>
<line x1="85.37" y1="512.9" x2="85.37" y2="515.9" stroke="#000" stroke-width="1.3"/>
<line x1="97.86" y1="512.9" x2="97.86" y2="515.9" stroke="#000" stroke-width="1.3"/>
<line x1="110.34" y1="512.9" x2="110.34" y2="515.9" stroke="#000" stroke-width="1.3"/>
<line x1="122.83" y1="512.9" x2="122.83" y2="515.9" stroke="#000" stroke-width="1.3"/>
<line x1="135.31" y1="512.9" x2="135.31" y2="515.9" stroke="#000" stroke-width="1.3"/>
<line x1="147.8" y1="512.9" x2="147.8" y2="515.9" stroke="#000" stroke-width="1.3"/>
<text x="71.89" y="525.21" font-size="8.7" text-anchor="middle" fill="#222" stroke="#222" stroke-width="0.25">2<tspan font-size="70%" dy="-3">-3</tspan></text>
<text x="96.86" y="525.21" font-size="8.7" text-anchor="middle" fill="#222" stroke="#222" stroke-width="0.25">2<tspan font-size="70%" dy="-3">-1</tspan></text>
<text x="121.83" y="525.21" font-size="8.7" text-anchor="middle" fill="#222" stroke="#222" stroke-width="0.25">2<tspan font-size="70%" dy="-3">1</tspan></text>
<text x="146.8" y="525.21" font-size="8.7" text-anchor="middle" fill="#222" stroke="#222" stroke-width="0.25">2<tspan font-size="70%" dy="-3">3</tspan></text>
<line x1="60.4" y1="425.6" x2="60.4" y2="513.9" stroke="#000" stroke-width="2.2"/>
<line x1="59.4" y1="512.9" x2="147.8" y2="512.9" stroke="#000" stroke-width="2.2"/>
<path d="M60.4 430.62 L60.95 430.77 L61.5 430.92 L62.05 431.08 L62.6 431.24 L63.15 431.41 L63.7 431.58 L64.25 431.76 L64.8 431.94 L65.35 432.13 L65.9 432.32 L66.45 432.52 L67 432.73 L67.55 432.94 L68.1 433.15 L68.65 433.38 L69.19 433.6 L69.74 433.84 L70.29 434.08 L70.84 434.33 L71.39 434.58 L71.94 434.84 L72.49 435.11 L73.04 435.39 L73.59 435.67 L74.14 435.96 L74.69 436.26 L75.24 436.57 L75.79 436.88 L76.34 437.21 L76.89 437.54 L77.44 437.88 L77.99 438.23 L78.54 438.59 L79.09 438.95 L79.64 439.33 L80.19 439.71 L80.74 440.11 L81.29 440.51 L81.84 440.92 L82.39 441.35 L82.94 441.78 L83.49 442.22 L84.04 442.68 L84.59 443.14 L85.14 443.62 L85.69 444.1 L86.24 444.6 L86.78 445.1 L87.33 445.62 L87.88 446.15 L88.43 446.68 L88.98 447.23 L89.53 447.79 L90.08 448.37 L90.63 448.95 L91.18 449.54 L91.73 450.14 L92.28 450.76 L92.83 451.39 L93.38 452.02 L93.93 452.67 L94.48 453.33 L95.03 454 L95.58 454.68 L96.13 455.36 L96.68 456.06 L97.23 456.77 L97.78 457.49 L98.33 458.22 L98.88 458.96 L99.43 459.71 L99.98 460.46 L100.53 461.23 L101.08 462 L101.63 462.78 L102.18 463.57 L102.73 464.36 L103.28 465.16 L103.83 465.97 L104.37 466.78 L104.92 467.6 L105.47 468.42 L106.02 469.25 L106.57 470.08 L107.12 470.92 L107.67 471.76 L108.22 472.6 L108.77 473.44 L109.32 474.28 L109.87 475.13 L110.42 475.97 L110.97 476.81 L111.52 477.66 L112.07 478.5 L112.62 479.33 L113.17 480.17 L113.72 481 L114.27 481.83 L114.82 482.65 L115.37 483.46 L115.92 484.27 L116.47 485.08 L117.02 485.87 L117.57 486.66 L118.12 487.44 L118.67 488.21 L119.22 488.97 L119.77 489.72 L120.32 490.46 L120.87 491.19 L121.42 491.91 L121.96 492.62 L122.51 493.31 L123.06 494 L123.61 494.67 L124.16 495.32 L124.71 495.96 L125.26 496.59 L125.81 497.21 L126.36 497.81 L126.91 498.4 L127.46 498.97 L128.01 499.52 L128.56 500.07 L129.11 500.59 L129.66 501.11 L130.21 501.61 L130.76 502.09 L131.31 502.56 L131.86 503.01 L132.41 503.45 L132.96 503.88 L133.51 504.29 L134.06 504.69 L134.61 505.07 L135.16 505.44 L135.71 505.79 L136.26 506.14 L136.81 506.47 L137.36 506.78 L137.91 507.09 L138.46 507.38 L139.01 507.66 L139.55 507.93 L140.1 508.18 L140.65 508.43 L141.2 508.66 L141.75 508.89 L142.3 509.1 L142.85 509.31 L143.4 509.5 L143.95 509.69 L144.5 509.87 L145.05 510.04 L145.6 510.2 L146.15 510.35 L146.7 510.49 L147.25 510.63 L147.8 510.76" stroke="#000" stroke-width="1.9" fill="none" stroke-linejoin="round" stroke-linecap="round"/>
<path d="M60.4 439.48 L60.95 439.79 L61.5 440.1 L62.05 440.43 L62.6 440.77 L63.15 441.12 L63.7 441.49 L64.25 441.87 L64.8 442.27 L65.35 442.68 L65.9 443.11 L66.45 443.55 L67 444.01 L67.55 444.48 L68.1 444.97 L68.65 445.47 L69.19 446 L69.74 446.54 L70.29 447.09 L70.84 447.67 L71.39 448.26 L71.94 448.87 L72.49 449.5 L73.04 450.15 L73.59 450.81 L74.14 451.5 L74.69 452.2 L75.24 452.92 L75.79 453.65 L76.34 454.41 L76.89 455.18 L77.44 455.97 L77.99 456.77 L78.54 457.59 L79.09 458.43 L79.64 459.29 L80.19 460.15 L80.74 461.04 L81.29 461.93 L81.84 462.84 L82.39 463.76 L82.94 464.69 L83.49 465.63 L84.04 466.59 L84.59 467.54 L85.14 468.51 L85.69 469.48 L86.24 470.46 L86.78 471.44 L87.33 472.43 L87.88 473.42 L88.43 474.4 L88.98 475.39 L89.53 476.38 L90.08 477.36 L90.63 478.34 L91.18 479.31 L91.73 480.28 L92.28 481.23 L92.83 482.19 L93.38 483.13 L93.93 484.06 L94.48 484.98 L95.03 485.88 L95.58 486.77 L96.13 487.65 L96.68 488.52 L97.23 489.37 L97.78 490.2 L98.33 491.01 L98.88 491.81 L99.43 492.59 L99.98 493.35 L100.53 494.1 L101.08 494.82 L101.63 495.53 L102.18 496.22 L102.73 496.88 L103.28 497.53 L103.83 498.16 L104.37 498.77 L104.92 499.36 L105.47 499.94 L106.02 500.49 L106.57 501.02 L107.12 501.54 L107.67 502.04 L108.22 502.52 L108.77 502.98 L109.32 503.42 L109.87 503.85 L110.42 504.27 L110.97 504.66 L111.52 505.04 L112.07 505.41 L112.62 505.76 L113.17 506.09 L113.72 506.41 L114.27 506.72 L114.82 507.02 L115.37 507.3 L115.92 507.57 L116.47 507.83 L117.02 508.07 L117.57 508.31 L118.12 508.54 L118.67 508.75 L119.22 508.95 L119.77 509.15 L120.32 509.34 L120.87 509.51 L121.42 509.68 L121.96 509.85 L122.51 510 L123.06 510.15 L123.61 510.29 L124.16 510.42 L124.71 510.54 L125.26 510.66 L125.81 510.78 L126.36 510.89 L126.91 510.99 L127.46 511.09 L128.01 511.18 L128.56 511.27 L129.11 511.35 L129.66 511.43 L130.21 511.51 L130.76 511.58 L131.31 511.65 L131.86 511.72 L132.41 511.78 L132.96 511.84 L133.51 511.89 L134.06 511.94 L134.61 511.99 L135.16 512.04 L135.71 512.09 L136.26 512.3" stroke="#1a6ae8" stroke-width="1.9" fill="none" stroke-linejoin="round" stroke-linecap="round"/>
<line x1="85.4" y1="438.71" x2="85.4" y2="443.86" stroke="#000" stroke-width="1.7"/>
<line x1="82.8" y1="438.71" x2="88" y2="438.71" stroke="#000" stroke-width="1.8"/>
<line x1="82.8" y1="443.86" x2="88" y2="443.86" stroke="#000" stroke-width="1.8"/>
<line x1="97.6" y1="453.25" x2="97.6" y2="470.31" stroke="#000" stroke-width="1.7"/>
<line x1="95" y1="453.25" x2="100.2" y2="453.25" stroke="#000" stroke-width="1.8"/>
<line x1="95" y1="470.31" x2="100.2" y2="470.31" stroke="#000" stroke-width="1.8"/>
<line x1="110.2" y1="470.31" x2="110.2" y2="485.65" stroke="#000" stroke-width="1.7"/>
<line x1="107.6" y1="470.31" x2="112.8" y2="470.31" stroke="#000" stroke-width="1.8"/>
<line x1="107.6" y1="485.65" x2="112.8" y2="485.65" stroke="#000" stroke-width="1.8"/>
<line x1="122.9" y1="475.35" x2="122.9" y2="495.03" stroke="#000" stroke-width="1.7"/>
<line x1="120.3" y1="475.35" x2="125.5" y2="475.35" stroke="#000" stroke-width="1.8"/>
<line x1="120.3" y1="495.03" x2="125.5" y2="495.03" stroke="#000" stroke-width="1.8"/>
<line x1="139" y1="511.79" x2="139" y2="513.81" stroke="#000" stroke-width="1.7"/>
<line x1="136.4" y1="511.79" x2="141.6" y2="511.79" stroke="#000" stroke-width="1.8"/>
<line x1="136.4" y1="513.81" x2="141.6" y2="513.81" stroke="#000" stroke-width="1.8"/>
<line x1="85.4" y1="463.95" x2="85.4" y2="472.02" stroke="#1a6ae8" stroke-width="1.7"/>
<line x1="82.8" y1="463.95" x2="88" y2="463.95" stroke="#1a6ae8" stroke-width="1.8"/>
<line x1="82.8" y1="472.02" x2="88" y2="472.02" stroke="#1a6ae8" stroke-width="1.8"/>
<line x1="97.6" y1="489.08" x2="97.6" y2="500.08" stroke="#1a6ae8" stroke-width="1.7"/>
<line x1="95" y1="489.08" x2="100.2" y2="489.08" stroke="#1a6ae8" stroke-width="1.8"/>
<line x1="95" y1="500.08" x2="100.2" y2="500.08" stroke="#1a6ae8" stroke-width="1.8"/>
<line x1="110.2" y1="499.27" x2="110.2" y2="503.01" stroke="#1a6ae8" stroke-width="1.7"/>
<line x1="107.6" y1="499.27" x2="112.8" y2="499.27" stroke="#1a6ae8" stroke-width="1.8"/>
<line x1="107.6" y1="503.01" x2="112.8" y2="503.01" stroke="#1a6ae8" stroke-width="1.8"/>
<line x1="122.9" y1="506.14" x2="122.9" y2="510.38" stroke="#1a6ae8" stroke-width="1.7"/>
<line x1="120.3" y1="506.14" x2="125.5" y2="506.14" stroke="#1a6ae8" stroke-width="1.8"/>
<line x1="120.3" y1="510.38" x2="125.5" y2="510.38" stroke="#1a6ae8" stroke-width="1.8"/>
<text x="124.3" y="436.74" font-size="8.5" font-weight="bold" text-anchor="middle" fill="#111" stroke="#111" stroke-width="0.12">FaDu</text>
<text x="104" y="536.77" font-size="9.4" font-weight="bold" text-anchor="middle" fill="#111" stroke="#111" stroke-width="0.12">Cisplatin (µM)</text>
<text x="34.2" y="470.62" font-size="9.7" font-weight="bold" text-anchor="middle" fill="#111" stroke="#111" stroke-width="0.12" transform="rotate(-90 34.2 467.15)">Surviving Fraction (%)</text>
<line x1="190.4" y1="491.3" x2="193.4" y2="491.3" stroke="#000" stroke-width="1.3"/>
<line x1="190.4" y1="447.9" x2="193.4" y2="447.9" stroke="#000" stroke-width="1.3"/>
<line x1="189.9" y1="513" x2="193.4" y2="513" stroke="#000" stroke-width="1.5"/>
<text x="189.4" y="516.41" font-size="8.7" text-anchor="end" fill="#222" stroke="#222" stroke-width="0.25">0</text>
<line x1="189.9" y1="469.6" x2="193.4" y2="469.6" stroke="#000" stroke-width="1.5"/>
<text x="189.4" y="473.01" font-size="8.7" text-anchor="end" fill="#222" stroke="#222" stroke-width="0.25">50</text>
<line x1="189.9" y1="426.2" x2="193.4" y2="426.2" stroke="#000" stroke-width="1.5"/>
<text x="189.4" y="429.61" font-size="8.7" text-anchor="end" fill="#222" stroke="#222" stroke-width="0.25">100</text>
<line x1="193.4" y1="513" x2="193.4" y2="516" stroke="#000" stroke-width="1.3"/>
<line x1="207.83" y1="513" x2="207.83" y2="516" stroke="#000" stroke-width="1.3"/>
<line x1="222.27" y1="513" x2="222.27" y2="516" stroke="#000" stroke-width="1.3"/>
<line x1="236.7" y1="513" x2="236.7" y2="516" stroke="#000" stroke-width="1.3"/>
<line x1="251.13" y1="513" x2="251.13" y2="516" stroke="#000" stroke-width="1.3"/>
<line x1="265.57" y1="513" x2="265.57" y2="516" stroke="#000" stroke-width="1.3"/>
<line x1="280" y1="513" x2="280" y2="516" stroke="#000" stroke-width="1.3"/>
<text x="192.4" y="525.31" font-size="8.7" text-anchor="middle" fill="#222" stroke="#222" stroke-width="0.25">2<tspan font-size="70%" dy="-3">-2</tspan></text>
<text x="221.27" y="525.31" font-size="8.7" text-anchor="middle" fill="#222" stroke="#222" stroke-width="0.25">2<tspan font-size="70%" dy="-3">0</tspan></text>
<text x="250.13" y="525.31" font-size="8.7" text-anchor="middle" fill="#222" stroke="#222" stroke-width="0.25">2<tspan font-size="70%" dy="-3">2</tspan></text>
<text x="279" y="525.31" font-size="8.7" text-anchor="middle" fill="#222" stroke="#222" stroke-width="0.25">2<tspan font-size="70%" dy="-3">4</tspan></text>
<line x1="193.4" y1="425.4" x2="193.4" y2="514" stroke="#000" stroke-width="2.2"/>
<line x1="192.4" y1="513" x2="280" y2="513" stroke="#000" stroke-width="2.2"/>
<path d="M193.4 428.56 L193.94 428.78 L194.49 429 L195.03 429.23 L195.58 429.47 L196.12 429.72 L196.67 429.97 L197.21 430.24 L197.76 430.52 L198.3 430.8 L198.85 431.1 L199.39 431.41 L199.94 431.73 L200.48 432.06 L201.03 432.4 L201.57 432.75 L202.11 433.12 L202.66 433.49 L203.2 433.88 L203.75 434.29 L204.29 434.7 L204.84 435.13 L205.38 435.58 L205.93 436.04 L206.47 436.51 L207.02 436.99 L207.56 437.5 L208.11 438.01 L208.65 438.54 L209.19 439.09 L209.74 439.65 L210.28 440.23 L210.83 440.82 L211.37 441.43 L211.92 442.05 L212.46 442.69 L213.01 443.35 L213.55 444.02 L214.1 444.71 L214.64 445.41 L215.19 446.13 L215.73 446.86 L216.28 447.61 L216.82 448.37 L217.36 449.15 L217.91 449.94 L218.45 450.74 L219 451.56 L219.54 452.39 L220.09 453.24 L220.63 454.1 L221.18 454.96 L221.72 455.84 L222.27 456.73 L222.81 457.63 L223.36 458.54 L223.9 459.46 L224.45 460.38 L224.99 461.32 L225.53 462.25 L226.08 463.2 L226.62 464.14 L227.17 465.1 L227.71 466.05 L228.26 467.01 L228.8 467.96 L229.35 468.92 L229.89 469.88 L230.44 470.83 L230.98 471.78 L231.53 472.73 L232.07 473.68 L232.62 474.62 L233.16 475.55 L233.7 476.48 L234.25 477.4 L234.79 478.32 L235.34 479.22 L235.88 480.12 L236.43 481 L236.97 481.87 L237.52 482.74 L238.06 483.59 L238.61 484.43 L239.15 485.25 L239.7 486.06 L240.24 486.86 L240.78 487.65 L241.33 488.42 L241.87 489.17 L242.42 489.91 L242.96 490.64 L243.51 491.35 L244.05 492.04 L244.6 492.72 L245.14 493.38 L245.69 494.03 L246.23 494.66 L246.78 495.28 L247.32 495.88 L247.87 496.46 L248.41 497.03 L248.95 497.58 L249.5 498.12 L250.04 498.65 L250.59 499.15 L251.13 499.65 L251.68 500.13 L252.22 500.59 L252.77 501.04 L253.31 501.48 L253.86 501.9 L254.4 502.31 L254.95 502.7 L255.49 503.09 L256.04 503.46 L256.58 503.82 L257.12 504.16 L257.67 504.5 L258.21 504.82 L258.76 505.13 L259.3 505.44 L259.85 505.73 L260.39 506.01 L260.94 506.28 L261.48 506.54 L262.03 506.79 L262.57 507.03 L263.12 507.27 L263.66 507.49 L264.21 507.71 L264.75 507.92 L265.29 508.12 L265.84 508.31 L266.38 508.5 L266.93 508.68 L267.47 508.85 L268.02 509.02 L268.56 509.18 L269.11 509.33 L269.65 509.48 L270.2 509.62 L270.74 509.76 L271.29 509.89 L271.83 510.01 L272.37 510.14 L272.92 510.25 L273.46 510.36 L274.01 510.47 L274.55 510.57 L275.1 510.67 L275.64 510.77 L276.19 510.86 L276.73 510.95 L277.28 511.03 L277.82 511.11 L278.37 511.19 L278.91 511.26 L279.46 511.34 L280 511.4" stroke="#000" stroke-width="1.9" fill="none" stroke-linejoin="round" stroke-linecap="round"/>
<path d="M193.4 435.87 L193.94 436.24 L194.49 436.62 L195.03 437.01 L195.58 437.42 L196.12 437.83 L196.67 438.26 L197.21 438.71 L197.76 439.17 L198.3 439.64 L198.85 440.13 L199.39 440.63 L199.94 441.14 L200.48 441.68 L201.03 442.22 L201.57 442.79 L202.11 443.36 L202.66 443.96 L203.2 444.57 L203.75 445.2 L204.29 445.84 L204.84 446.5 L205.38 447.18 L205.93 447.87 L206.47 448.58 L207.02 449.3 L207.56 450.04 L208.11 450.8 L208.65 451.58 L209.19 452.37 L209.74 453.17 L210.28 453.99 L210.83 454.83 L211.37 455.68 L211.92 456.55 L212.46 457.43 L213.01 458.32 L213.55 459.23 L214.1 460.15 L214.64 461.08 L215.19 462.02 L215.73 462.98 L216.28 463.94 L216.82 464.91 L217.36 465.89 L217.91 466.88 L218.45 467.87 L219 468.87 L219.54 469.88 L220.09 470.89 L220.63 471.9 L221.18 472.91 L221.72 473.92 L222.27 474.94 L222.81 475.95 L223.36 476.96 L223.9 477.96 L224.45 478.96 L224.99 479.96 L225.53 480.95 L226.08 481.93 L226.62 482.9 L227.17 483.86 L227.71 484.81 L228.26 485.75 L228.8 486.68 L229.35 487.59 L229.89 488.49 L230.44 489.38 L230.98 490.24 L231.53 491.1 L232.07 491.93 L232.62 492.75 L233.16 493.55 L233.7 494.33 L234.25 495.09 L234.79 495.83 L235.34 496.55 L235.88 497.26 L236.43 497.94 L236.97 498.6 L237.52 499.24 L238.06 499.87 L238.61 500.47 L239.15 501.05 L239.7 501.61 L240.24 502.15 L240.78 502.68 L241.33 503.18 L241.87 503.66 L242.42 504.13 L242.96 504.58 L243.51 505 L244.05 505.42 L244.6 505.81 L245.14 506.19 L245.69 506.55 L246.23 506.89 L246.78 507.22 L247.32 507.53 L247.87 507.83 L248.41 508.12 L248.95 508.39 L249.5 508.64 L250.04 508.89 L250.59 509.12 L251.13 509.34 L251.68 509.55 L252.22 509.75 L252.77 509.94 L253.31 510.12 L253.86 510.29 L254.4 510.45 L254.95 510.6 L255.49 510.74 L256.04 510.88 L256.58 511.01 L257.12 511.13 L257.67 511.24 L258.21 511.35 L258.76 511.45 L259.3 511.55 L259.85 511.64 L260.39 511.72 L260.94 511.8 L261.48 511.87 L262.03 511.94 L262.57 512.01 L263.12 512.07 L263.66 512.13 L264.21 512.19 L264.75 512.4" stroke="#1a6ae8" stroke-width="1.9" fill="none" stroke-linejoin="round" stroke-linecap="round"/>
<line x1="223" y1="459.12" x2="223" y2="463.37" stroke="#000" stroke-width="1.7"/>
<line x1="220.4" y1="459.12" x2="225.6" y2="459.12" stroke="#000" stroke-width="1.8"/>
<line x1="220.4" y1="463.37" x2="225.6" y2="463.37" stroke="#000" stroke-width="1.8"/>
<line x1="237.3" y1="479.68" x2="237.3" y2="483.93" stroke="#000" stroke-width="1.7"/>
<line x1="234.7" y1="479.68" x2="239.9" y2="479.68" stroke="#000" stroke-width="1.8"/>
<line x1="234.7" y1="483.93" x2="239.9" y2="483.93" stroke="#000" stroke-width="1.8"/>
<line x1="255.9" y1="501.05" x2="255.9" y2="502.77" stroke="#000" stroke-width="1.7"/>
<line x1="253.3" y1="501.05" x2="258.5" y2="501.05" stroke="#000" stroke-width="1.8"/>
<line x1="253.3" y1="502.77" x2="258.5" y2="502.77" stroke="#000" stroke-width="1.8"/>
<line x1="222.5" y1="474.21" x2="222.5" y2="477.96" stroke="#1a6ae8" stroke-width="1.7"/>
<line x1="219.9" y1="474.21" x2="225.1" y2="474.21" stroke="#1a6ae8" stroke-width="1.8"/>
<line x1="219.9" y1="477.96" x2="225.1" y2="477.96" stroke="#1a6ae8" stroke-width="1.8"/>
<line x1="237.3" y1="498.52" x2="237.3" y2="506.21" stroke="#1a6ae8" stroke-width="1.7"/>
<line x1="234.7" y1="498.52" x2="239.9" y2="498.52" stroke="#1a6ae8" stroke-width="1.8"/>
<line x1="234.7" y1="506.21" x2="239.9" y2="506.21" stroke="#1a6ae8" stroke-width="1.8"/>
<line x1="256.3" y1="509.56" x2="256.3" y2="512.19" stroke="#1a6ae8" stroke-width="1.7"/>
<line x1="253.7" y1="509.56" x2="258.9" y2="509.56" stroke="#1a6ae8" stroke-width="1.8"/>
<line x1="253.7" y1="512.19" x2="258.9" y2="512.19" stroke="#1a6ae8" stroke-width="1.8"/>
<text x="258.5" y="436.74" font-size="8.5" font-weight="bold" text-anchor="middle" fill="#111" stroke="#111" stroke-width="0.12">HCT116</text>
<text x="236.2" y="536.87" font-size="9.4" font-weight="bold" text-anchor="middle" fill="#111" stroke="#111" stroke-width="0.12">Cisplatin (µM)</text>
<text x="166.2" y="470.57" font-size="9.7" font-weight="bold" text-anchor="middle" fill="#111" stroke="#111" stroke-width="0.12" transform="rotate(-90 166.2 467.1)">Surviving Fraction (%)</text>
<line x1="325.1" y1="491.55" x2="328.1" y2="491.55" stroke="#000" stroke-width="1.3"/>
<line x1="325.1" y1="448.85" x2="328.1" y2="448.85" stroke="#000" stroke-width="1.3"/>
<line x1="324.6" y1="512.9" x2="328.1" y2="512.9" stroke="#000" stroke-width="1.5"/>
<text x="324.1" y="516.31" font-size="8.7" text-anchor="end" fill="#222" stroke="#222" stroke-width="0.25">0</text>
<line x1="324.6" y1="470.2" x2="328.1" y2="470.2" stroke="#000" stroke-width="1.5"/>
<text x="324.1" y="473.61" font-size="8.7" text-anchor="end" fill="#222" stroke="#222" stroke-width="0.25">50</text>
<line x1="324.6" y1="427.5" x2="328.1" y2="427.5" stroke="#000" stroke-width="1.5"/>
<text x="324.1" y="430.91" font-size="8.7" text-anchor="end" fill="#222" stroke="#222" stroke-width="0.25">100</text>
<line x1="328.1" y1="512.9" x2="328.1" y2="515.9" stroke="#000" stroke-width="1.3"/>
<line x1="349.95" y1="512.9" x2="349.95" y2="515.9" stroke="#000" stroke-width="1.3"/>
<line x1="371.8" y1="512.9" x2="371.8" y2="515.9" stroke="#000" stroke-width="1.3"/>
<line x1="393.65" y1="512.9" x2="393.65" y2="515.9" stroke="#000" stroke-width="1.3"/>
<line x1="415.5" y1="512.9" x2="415.5" y2="515.9" stroke="#000" stroke-width="1.3"/>
<text x="327.1" y="525.21" font-size="8.7" text-anchor="middle" fill="#222" stroke="#222" stroke-width="0.25">2<tspan font-size="70%" dy="-3">-2</tspan></text>
<text x="348.95" y="525.21" font-size="8.7" text-anchor="middle" fill="#222" stroke="#222" stroke-width="0.25">2<tspan font-size="70%" dy="-3">-1</tspan></text>
<text x="370.8" y="525.21" font-size="8.7" text-anchor="middle" fill="#222" stroke="#222" stroke-width="0.25">2<tspan font-size="70%" dy="-3">0</tspan></text>
<text x="392.65" y="525.21" font-size="8.7" text-anchor="middle" fill="#222" stroke="#222" stroke-width="0.25">2<tspan font-size="70%" dy="-3">1</tspan></text>
<text x="414.5" y="525.21" font-size="8.7" text-anchor="middle" fill="#222" stroke="#222" stroke-width="0.25">2<tspan font-size="70%" dy="-3">2</tspan></text>
<line x1="328.1" y1="426.7" x2="328.1" y2="513.9" stroke="#000" stroke-width="2.2"/>
<line x1="327.1" y1="512.9" x2="415.5" y2="512.9" stroke="#000" stroke-width="2.2"/>
<path d="M328.1 428.25 L328.65 428.28 L329.2 428.31 L329.75 428.35 L330.3 428.39 L330.85 428.43 L331.4 428.47 L331.95 428.52 L332.5 428.57 L333.05 428.62 L333.6 428.68 L334.15 428.74 L334.7 428.8 L335.25 428.87 L335.8 428.95 L336.35 429.03 L336.89 429.11 L337.44 429.2 L337.99 429.3 L338.54 429.4 L339.09 429.51 L339.64 429.63 L340.19 429.75 L340.74 429.89 L341.29 430.03 L341.84 430.18 L342.39 430.34 L342.94 430.52 L343.49 430.7 L344.04 430.89 L344.59 431.1 L345.14 431.32 L345.69 431.56 L346.24 431.81 L346.79 432.08 L347.34 432.36 L347.89 432.66 L348.44 432.98 L348.99 433.32 L349.54 433.68 L350.09 434.06 L350.64 434.46 L351.19 434.89 L351.74 435.34 L352.29 435.82 L352.84 436.32 L353.39 436.85 L353.94 437.41 L354.48 438 L355.03 438.61 L355.58 439.26 L356.13 439.95 L356.68 440.66 L357.23 441.41 L357.78 442.19 L358.33 443.01 L358.88 443.87 L359.43 444.75 L359.98 445.68 L360.53 446.64 L361.08 447.63 L361.63 448.66 L362.18 449.72 L362.73 450.82 L363.28 451.95 L363.83 453.11 L364.38 454.3 L364.93 455.51 L365.48 456.76 L366.03 458.03 L366.58 459.32 L367.13 460.63 L367.68 461.95 L368.23 463.3 L368.78 464.65 L369.33 466.01 L369.88 467.38 L370.43 468.76 L370.98 470.13 L371.53 471.5 L372.07 472.87 L372.62 474.22 L373.17 475.57 L373.72 476.9 L374.27 478.22 L374.82 479.52 L375.37 480.8 L375.92 482.06 L376.47 483.29 L377.02 484.49 L377.57 485.67 L378.12 486.82 L378.67 487.94 L379.22 489.03 L379.77 490.08 L380.32 491.11 L380.87 492.1 L381.42 493.06 L381.97 493.98 L382.52 494.87 L383.07 495.73 L383.62 496.56 L384.17 497.35 L384.72 498.12 L385.27 498.85 L385.82 499.55 L386.37 500.22 L386.92 500.86 L387.47 501.47 L388.02 502.06 L388.57 502.62 L389.12 503.15 L389.66 503.66 L390.21 504.14 L390.76 504.6 L391.31 505.04 L391.86 505.46 L392.41 505.86 L392.96 506.23 L393.51 506.59 L394.06 506.93 L394.61 507.25 L395.16 507.56 L395.71 507.85 L396.26 508.12 L396.81 508.38 L397.36 508.63 L397.91 508.86 L398.46 509.08 L399.01 509.29 L399.56 509.49 L400.11 509.68 L400.66 509.86 L401.21 510.03 L401.76 510.18 L402.31 510.33 L402.86 510.48 L403.41 510.61 L403.96 510.74 L404.51 510.86 L405.06 510.97 L405.61 511.08 L406.16 511.18 L406.71 511.28 L407.25 511.37 L407.8 511.45 L408.35 511.53 L408.9 511.61 L409.45 511.68 L410 511.75 L410.55 511.81 L411.1 511.88 L411.65 511.93 L412.2 511.99 L412.75 512.04 L413.3 512.09 L413.85 512.3" stroke="#000" stroke-width="1.9" fill="none" stroke-linejoin="round" stroke-linecap="round"/>
<path d="M328.1 430.84 L328.65 431.13 L329.2 431.43 L329.75 431.75 L330.3 432.08 L330.85 432.43 L331.4 432.79 L331.95 433.16 L332.5 433.55 L333.05 433.95 L333.6 434.37 L334.15 434.8 L334.7 435.26 L335.25 435.73 L335.8 436.21 L336.35 436.72 L336.89 437.24 L337.44 437.79 L337.99 438.35 L338.54 438.93 L339.09 439.53 L339.64 440.16 L340.19 440.8 L340.74 441.47 L341.29 442.15 L341.84 442.86 L342.39 443.59 L342.94 444.34 L343.49 445.12 L344.04 445.92 L344.59 446.73 L345.14 447.58 L345.69 448.44 L346.24 449.32 L346.79 450.23 L347.34 451.16 L347.89 452.11 L348.44 453.08 L348.99 454.07 L349.54 455.08 L350.09 456.1 L350.64 457.15 L351.19 458.21 L351.74 459.29 L352.29 460.39 L352.84 461.5 L353.39 462.62 L353.94 463.75 L354.48 464.9 L355.03 466.05 L355.58 467.22 L356.13 468.39 L356.68 469.56 L357.23 470.74 L357.78 471.92 L358.33 473.1 L358.88 474.28 L359.43 475.45 L359.98 476.62 L360.53 477.79 L361.08 478.94 L361.63 480.09 L362.18 481.23 L362.73 482.35 L363.28 483.46 L363.83 484.56 L364.38 485.64 L364.93 486.7 L365.48 487.74 L366.03 488.76 L366.58 489.76 L367.13 490.74 L367.68 491.7 L368.23 492.63 L368.78 493.53 L369.33 494.42 L369.88 495.27 L370.43 496.1 L370.98 496.91 L371.53 497.68 L372.07 498.44 L372.62 499.16 L373.17 499.86 L373.72 500.53 L374.27 501.18 L374.82 501.8 L375.37 502.39 L375.92 502.96 L376.47 503.51 L377.02 504.03 L377.57 504.53 L378.12 505 L378.67 505.45 L379.22 505.88 L379.77 506.29 L380.32 506.68 L380.87 507.05 L381.42 507.4 L381.97 507.73 L382.52 508.05 L383.07 508.34 L383.62 508.63 L384.17 508.89 L384.72 509.14 L385.27 509.38 L385.82 509.6 L386.37 509.81 L386.92 510.01 L387.47 510.19 L388.02 510.37 L388.57 510.53 L389.12 510.69 L389.66 510.83 L390.21 510.97 L390.76 511.1 L391.31 511.22 L391.86 511.33 L392.41 511.43 L392.96 511.53 L393.51 511.63 L394.06 511.71 L394.61 511.79 L395.16 511.87 L395.71 511.94 L396.26 512 L396.81 512.07 L397.36 512.3" stroke="#1a6ae8" stroke-width="1.9" fill="none" stroke-linejoin="round" stroke-linecap="round"/>
<line x1="350" y1="427.7" x2="350" y2="436.09" stroke="#000" stroke-width="1.7"/>
<line x1="347.4" y1="427.7" x2="352.6" y2="427.7" stroke="#000" stroke-width="1.8"/>
<line x1="347.4" y1="436.09" x2="352.6" y2="436.09" stroke="#000" stroke-width="1.8"/>
<line x1="372.3" y1="469.05" x2="372.3" y2="479.14" stroke="#000" stroke-width="1.7"/>
<line x1="369.7" y1="469.05" x2="374.9" y2="469.05" stroke="#000" stroke-width="1.8"/>
<line x1="369.7" y1="479.14" x2="374.9" y2="479.14" stroke="#000" stroke-width="1.8"/>
<line x1="393.5" y1="503.61" x2="393.5" y2="505.31" stroke="#000" stroke-width="1.7"/>
<line x1="390.9" y1="503.61" x2="396.1" y2="503.61" stroke="#000" stroke-width="1.8"/>
<line x1="390.9" y1="505.31" x2="396.1" y2="505.31" stroke="#000" stroke-width="1.8"/>
<line x1="350.4" y1="452.17" x2="350.4" y2="461.46" stroke="#1a6ae8" stroke-width="1.7"/>
<line x1="347.8" y1="452.17" x2="353" y2="452.17" stroke="#1a6ae8" stroke-width="1.8"/>
<line x1="347.8" y1="461.46" x2="353" y2="461.46" stroke="#1a6ae8" stroke-width="1.8"/>
<line x1="371.5" y1="491.82" x2="371.5" y2="498.62" stroke="#1a6ae8" stroke-width="1.7"/>
<line x1="368.9" y1="491.82" x2="374.1" y2="491.82" stroke="#1a6ae8" stroke-width="1.8"/>
<line x1="368.9" y1="498.62" x2="374.1" y2="498.62" stroke="#1a6ae8" stroke-width="1.8"/>
<text x="400.5" y="436.74" font-size="8.5" font-weight="bold" text-anchor="middle" fill="#111" stroke="#111" stroke-width="0.12">H460</text>
<text x="371.4" y="536.77" font-size="9.4" font-weight="bold" text-anchor="middle" fill="#111" stroke="#111" stroke-width="0.12">Cisplatin (µM)</text>
<text x="301.2" y="471.17" font-size="9.7" font-weight="bold" text-anchor="middle" fill="#111" stroke="#111" stroke-width="0.12" transform="rotate(-90 301.2 467.7)">Surviving Fraction (%)</text>
<line x1="459.7" y1="491.7" x2="462.7" y2="491.7" stroke="#000" stroke-width="1.3"/>
<line x1="459.7" y1="448.1" x2="462.7" y2="448.1" stroke="#000" stroke-width="1.3"/>
<line x1="459.2" y1="513.5" x2="462.7" y2="513.5" stroke="#000" stroke-width="1.5"/>
<text x="458.7" y="516.91" font-size="8.7" text-anchor="end" fill="#222" stroke="#222" stroke-width="0.25">0</text>
<line x1="459.2" y1="469.9" x2="462.7" y2="469.9" stroke="#000" stroke-width="1.5"/>
<text x="458.7" y="473.31" font-size="8.7" text-anchor="end" fill="#222" stroke="#222" stroke-width="0.25">50</text>
<line x1="459.2" y1="426.3" x2="462.7" y2="426.3" stroke="#000" stroke-width="1.5"/>
<text x="458.7" y="429.71" font-size="8.7" text-anchor="end" fill="#222" stroke="#222" stroke-width="0.25">100</text>
<line x1="462.7" y1="513.5" x2="462.7" y2="516.5" stroke="#000" stroke-width="1.3"/>
<line x1="480.24" y1="513.5" x2="480.24" y2="516.5" stroke="#000" stroke-width="1.3"/>
<line x1="497.78" y1="513.5" x2="497.78" y2="516.5" stroke="#000" stroke-width="1.3"/>
<line x1="515.32" y1="513.5" x2="515.32" y2="516.5" stroke="#000" stroke-width="1.3"/>
<line x1="532.86" y1="513.5" x2="532.86" y2="516.5" stroke="#000" stroke-width="1.3"/>
<line x1="550.4" y1="513.5" x2="550.4" y2="516.5" stroke="#000" stroke-width="1.3"/>
<text x="461.7" y="525.81" font-size="8.7" text-anchor="middle" fill="#222" stroke="#222" stroke-width="0.25">2<tspan font-size="70%" dy="-3">0</tspan></text>
<text x="479.24" y="525.81" font-size="8.7" text-anchor="middle" fill="#222" stroke="#222" stroke-width="0.25">2<tspan font-size="70%" dy="-3">1</tspan></text>
<text x="496.78" y="525.81" font-size="8.7" text-anchor="middle" fill="#222" stroke="#222" stroke-width="0.25">2<tspan font-size="70%" dy="-3">2</tspan></text>
<text x="514.32" y="525.81" font-size="8.7" text-anchor="middle" fill="#222" stroke="#222" stroke-width="0.25">2<tspan font-size="70%" dy="-3">3</tspan></text>
<text x="531.86" y="525.81" font-size="8.7" text-anchor="middle" fill="#222" stroke="#222" stroke-width="0.25">2<tspan font-size="70%" dy="-3">4</tspan></text>
<text x="549.4" y="525.81" font-size="8.7" text-anchor="middle" fill="#222" stroke="#222" stroke-width="0.25">2<tspan font-size="70%" dy="-3">5</tspan></text>
<line x1="462.7" y1="425.5" x2="462.7" y2="514.5" stroke="#000" stroke-width="2.2"/>
<line x1="461.7" y1="513.5" x2="550.4" y2="513.5" stroke="#000" stroke-width="2.2"/>
<path d="M462.7 428.9 L463.25 429.05 L463.8 429.2 L464.35 429.35 L464.91 429.52 L465.46 429.68 L466.01 429.86 L466.56 430.04 L467.11 430.22 L467.66 430.41 L468.22 430.61 L468.77 430.82 L469.32 431.03 L469.87 431.25 L470.42 431.48 L470.97 431.72 L471.53 431.96 L472.08 432.22 L472.63 432.48 L473.18 432.75 L473.73 433.03 L474.28 433.32 L474.83 433.62 L475.39 433.93 L475.94 434.25 L476.49 434.58 L477.04 434.92 L477.59 435.27 L478.14 435.64 L478.7 436.01 L479.25 436.4 L479.8 436.8 L480.35 437.21 L480.9 437.64 L481.45 438.08 L482.01 438.54 L482.56 439 L483.11 439.48 L483.66 439.98 L484.21 440.49 L484.76 441.02 L485.31 441.56 L485.87 442.12 L486.42 442.69 L486.97 443.28 L487.52 443.89 L488.07 444.51 L488.62 445.15 L489.18 445.81 L489.73 446.48 L490.28 447.17 L490.83 447.88 L491.38 448.61 L491.93 449.35 L492.48 450.12 L493.04 450.9 L493.59 451.69 L494.14 452.51 L494.69 453.34 L495.24 454.19 L495.79 455.06 L496.35 455.95 L496.9 456.85 L497.45 457.77 L498 458.71 L498.55 459.66 L499.1 460.63 L499.66 461.62 L500.21 462.61 L500.76 463.63 L501.31 464.65 L501.86 465.69 L502.41 466.74 L502.96 467.81 L503.52 468.88 L504.07 469.96 L504.62 471.05 L505.17 472.15 L505.72 473.26 L506.27 474.37 L506.83 475.48 L507.38 476.6 L507.93 477.72 L508.48 478.84 L509.03 479.96 L509.58 481.08 L510.14 482.19 L510.69 483.3 L511.24 484.4 L511.79 485.49 L512.34 486.58 L512.89 487.65 L513.44 488.71 L514 489.76 L514.55 490.79 L515.1 491.81 L515.65 492.8 L516.2 493.78 L516.75 494.74 L517.31 495.68 L517.86 496.59 L518.41 497.49 L518.96 498.35 L519.51 499.19 L520.06 500.01 L520.62 500.8 L521.17 501.56 L521.72 502.29 L522.27 503 L522.82 503.68 L523.37 504.33 L523.92 504.95 L524.48 505.54 L525.03 506.11 L525.58 506.64 L526.13 507.15 L526.68 507.63 L527.23 508.09 L527.79 508.51 L528.34 508.92 L528.89 509.29 L529.44 509.65 L529.99 509.98 L530.54 510.29 L531.09 510.57 L531.65 510.84 L532.2 511.09 L532.75 511.31 L533.3 511.52 L533.85 511.72 L534.4 511.89 L534.96 512.05 L535.51 512.2 L536.06 512.34 L536.61 512.46 L537.16 512.57 L537.71 512.67 L538.27 512.9" stroke="#000" stroke-width="1.9" fill="none" stroke-linejoin="round" stroke-linecap="round"/>
<path d="M462.7 437.96 L463.25 438.38 L463.8 438.81 L464.35 439.26 L464.91 439.72 L465.46 440.19 L466.01 440.68 L466.56 441.18 L467.11 441.69 L467.66 442.22 L468.22 442.76 L468.77 443.31 L469.32 443.88 L469.87 444.46 L470.42 445.06 L470.97 445.67 L471.53 446.29 L472.08 446.94 L472.63 447.59 L473.18 448.26 L473.73 448.95 L474.28 449.65 L474.83 450.37 L475.39 451.1 L475.94 451.85 L476.49 452.61 L477.04 453.39 L477.59 454.19 L478.14 455 L478.7 455.82 L479.25 456.66 L479.8 457.51 L480.35 458.38 L480.9 459.26 L481.45 460.16 L482.01 461.07 L482.56 461.99 L483.11 462.93 L483.66 463.87 L484.21 464.83 L484.76 465.8 L485.31 466.78 L485.87 467.77 L486.42 468.77 L486.97 469.78 L487.52 470.8 L488.07 471.82 L488.62 472.85 L489.18 473.88 L489.73 474.92 L490.28 475.96 L490.83 477.01 L491.38 478.05 L491.93 479.1 L492.48 480.14 L493.04 481.18 L493.59 482.22 L494.14 483.26 L494.69 484.29 L495.24 485.31 L495.79 486.33 L496.35 487.34 L496.9 488.33 L497.45 489.32 L498 490.29 L498.55 491.25 L499.1 492.2 L499.66 493.12 L500.21 494.04 L500.76 494.93 L501.31 495.81 L501.86 496.67 L502.41 497.5 L502.96 498.32 L503.52 499.11 L504.07 499.88 L504.62 500.63 L505.17 501.35 L505.72 502.05 L506.27 502.73 L506.83 503.38 L507.38 504.01 L507.93 504.61 L508.48 505.18 L509.03 505.74 L509.58 506.26 L510.14 506.76 L510.69 507.24 L511.24 507.69 L511.79 508.12 L512.34 508.53 L512.89 508.91 L513.44 509.27 L514 509.61 L514.55 509.93 L515.1 510.23 L515.65 510.5 L516.2 510.76 L516.75 511 L517.31 511.23 L517.86 511.44 L518.41 511.63 L518.96 511.81 L519.51 511.97 L520.06 512.12 L520.62 512.26 L521.17 512.38 L521.72 512.5 L522.27 512.6 L522.82 512.7 L523.37 512.9" stroke="#1a6ae8" stroke-width="1.9" fill="none" stroke-linejoin="round" stroke-linecap="round"/>
<line x1="486" y1="436.17" x2="486" y2="443.9" stroke="#000" stroke-width="1.7"/>
<line x1="483.4" y1="436.17" x2="488.6" y2="436.17" stroke="#000" stroke-width="1.8"/>
<line x1="483.4" y1="443.9" x2="488.6" y2="443.9" stroke="#000" stroke-width="1.8"/>
<line x1="503.3" y1="473.11" x2="503.3" y2="474.83" stroke="#000" stroke-width="1.7"/>
<line x1="500.7" y1="473.11" x2="505.9" y2="473.11" stroke="#000" stroke-width="1.8"/>
<line x1="500.7" y1="474.83" x2="505.9" y2="474.83" stroke="#000" stroke-width="1.8"/>
<line x1="513.1" y1="484.3" x2="513.1" y2="489.49" stroke="#000" stroke-width="1.7"/>
<line x1="510.5" y1="484.3" x2="515.7" y2="484.3" stroke="#000" stroke-width="1.8"/>
<line x1="510.5" y1="489.49" x2="515.7" y2="489.49" stroke="#000" stroke-width="1.8"/>
<line x1="521.5" y1="499.25" x2="521.5" y2="503.22" stroke="#000" stroke-width="1.7"/>
<line x1="518.9" y1="499.25" x2="524.1" y2="499.25" stroke="#000" stroke-width="1.8"/>
<line x1="518.9" y1="503.22" x2="524.1" y2="503.22" stroke="#000" stroke-width="1.8"/>
<line x1="531.3" y1="511.87" x2="531.3" y2="513.4" stroke="#000" stroke-width="1.7"/>
<line x1="528.7" y1="511.87" x2="533.9" y2="511.87" stroke="#000" stroke-width="1.8"/>
<line x1="528.7" y1="513.4" x2="533.9" y2="513.4" stroke="#000" stroke-width="1.8"/>
<line x1="486" y1="469.65" x2="486" y2="479.11" stroke="#1a6ae8" stroke-width="1.7"/>
<line x1="483.4" y1="469.65" x2="488.6" y2="469.65" stroke="#1a6ae8" stroke-width="1.8"/>
<line x1="483.4" y1="479.11" x2="488.6" y2="479.11" stroke="#1a6ae8" stroke-width="1.8"/>
<line x1="503.3" y1="487.76" x2="503.3" y2="503.22" stroke="#1a6ae8" stroke-width="1.7"/>
<line x1="500.7" y1="487.76" x2="505.9" y2="487.76" stroke="#1a6ae8" stroke-width="1.8"/>
<line x1="500.7" y1="503.22" x2="505.9" y2="503.22" stroke="#1a6ae8" stroke-width="1.8"/>
<line x1="513.1" y1="510.85" x2="513.1" y2="513.4" stroke="#1a6ae8" stroke-width="1.7"/>
<line x1="510.5" y1="510.85" x2="515.7" y2="510.85" stroke="#1a6ae8" stroke-width="1.8"/>
<line x1="510.5" y1="513.4" x2="515.7" y2="513.4" stroke="#1a6ae8" stroke-width="1.8"/>
<line x1="531.3" y1="511.87" x2="531.3" y2="513.4" stroke="#1a6ae8" stroke-width="1.7"/>
<line x1="528.7" y1="511.87" x2="533.9" y2="511.87" stroke="#1a6ae8" stroke-width="1.8"/>
<line x1="528.7" y1="513.4" x2="533.9" y2="513.4" stroke="#1a6ae8" stroke-width="1.8"/>
<text x="534.7" y="436.74" font-size="8.5" font-weight="bold" text-anchor="middle" fill="#111" stroke="#111" stroke-width="0.12">DLD-1</text>
<text x="506.7" y="537.37" font-size="9.4" font-weight="bold" text-anchor="middle" fill="#111" stroke="#111" stroke-width="0.12">Cisplatin (µM)</text>
<text x="436.2" y="470.87" font-size="9.7" font-weight="bold" text-anchor="middle" fill="#111" stroke="#111" stroke-width="0.12" transform="rotate(-90 436.2 467.4)">Surviving Fraction (%)</text>
<text x="555.9" y="267.94" font-size="13.8" font-weight="bold" text-anchor="start" fill="#000" stroke="#000" stroke-width="0.12">E</text>
<path d="M586 280.4 L587.09 280.4 L588.18 280.4 L589.28 280.4 L590.37 280.4 L591.46 280.4 L592.55 280.4 L593.65 280.4 L594.74 280.4 L595.83 280.4 L596.92 280.4 L598.02 280.4 L599.11 280.4 L600.2 280.4 L601.29 280.4 L602.39 280.4 L603.48 280.4 L604.57 280.4 L605.66 280.4 L606.76 280.4 L607.85 280.4 L608.94 280.4 L610.03 280.4 L611.13 280.43 L612.22 280.46 L613.31 280.49 L614.4 280.52 L615.49 280.55 L616.59 280.55 L617.68 280.56 L618.77 280.57 L619.86 280.58 L620.96 280.59 L622.05 280.61 L623.14 280.64 L624.23 280.67 L625.33 280.7 L626.42 280.74 L627.51 280.79 L628.6 280.84 L629.7 280.89 L630.79 280.95 L631.88 281.02 L632.97 281.1 L634.07 281.18 L635.16 281.27 L636.25 281.36 L637.34 281.47 L638.44 281.58 L639.53 281.7 L640.62 281.83 L641.71 281.96 L642.81 282.11 L643.9 282.26 L644.99 282.43 L646.08 282.59 L647.17 282.75 L648.27 282.92 L649.36 283.1 L650.45 283.29 L651.54 283.5 L652.64 283.72 L653.73 283.94 L654.82 284.18 L655.91 284.44 L657.01 284.7 L658.1 284.98 L659.19 285.27 L660.28 285.58 L661.38 285.88 L662.47 286.2 L663.56 286.54 L664.65 286.88 L665.75 287.24 L666.84 287.62 L667.93 288.01 L669.02 288.41 L670.12 288.83 L671.21 289.26 L672.3 289.76 L672.3 300.96 L671.21 300.36 L670.12 299.72 L669.02 299.09 L667.93 298.47 L666.84 297.87 L665.75 297.28 L664.65 296.7 L663.56 296.14 L662.47 295.6 L661.38 295.06 L660.28 294.55 L659.19 294.05 L658.1 293.57 L657.01 293.1 L655.91 292.65 L654.82 292.21 L653.73 291.78 L652.64 291.36 L651.54 290.96 L650.45 290.56 L649.36 290.18 L648.27 289.81 L647.17 289.45 L646.08 289.1 L644.99 288.77 L643.9 288.46 L642.81 288.16 L641.71 287.87 L640.62 287.59 L639.53 287.32 L638.44 287.06 L637.34 286.8 L636.25 286.55 L635.16 286.31 L634.07 286.08 L632.97 285.86 L631.88 285.64 L630.79 285.42 L629.7 285.22 L628.6 285.02 L627.51 284.82 L626.42 284.63 L625.33 284.45 L624.23 284.27 L623.14 284.09 L622.05 283.92 L620.96 283.76 L619.86 283.59 L618.77 283.44 L617.68 283.28 L616.59 283.13 L615.49 282.99 L614.4 282.88 L613.31 282.78 L612.22 282.68 L611.13 282.59 L610.03 282.5 L608.94 282.41 L607.85 282.33 L606.76 282.24 L605.66 282.16 L604.57 282.09 L603.48 282.01 L602.39 281.94 L601.29 281.87 L600.2 281.8 L599.11 281.73 L598.02 281.67 L596.92 281.62 L595.83 281.57 L594.74 281.52 L593.65 281.48 L592.55 281.43 L591.46 281.39 L590.37 281.35 L589.28 281.31 L588.18 281.27 L587.09 281.23 L586 281.19 Z" fill="#a0a0a0" fill-opacity="0.8"/>
<path d="M586 280.4 L587.09 280.4 L588.18 280.4 L589.28 280.4 L590.37 280.4 L591.46 280.4 L592.55 280.4 L593.65 280.4 L594.74 280.4 L595.83 280.4 L596.92 280.4 L598.02 280.4 L599.11 280.4 L600.2 280.4 L601.29 280.41 L602.39 280.44 L603.48 280.47 L604.57 280.5 L605.66 280.54 L606.76 280.58 L607.85 280.63 L608.94 280.68 L610.03 280.74 L611.13 280.8 L612.22 280.87 L613.31 280.94 L614.4 281.02 L615.49 281.09 L616.59 281.17 L617.68 281.24 L618.77 281.33 L619.86 281.42 L620.96 281.52 L622.05 281.63 L623.14 281.75 L624.23 281.87 L625.33 282.01 L626.42 282.15 L627.51 282.31 L628.6 282.47 L629.7 282.65 L630.79 282.84 L631.88 283.03 L632.97 283.24 L634.07 283.46 L635.16 283.69 L636.25 283.94 L637.34 284.2 L638.44 284.48 L639.53 284.77 L640.62 285.08 L641.71 285.41 L642.81 285.75 L643.9 286.11 L644.99 286.5 L646.08 286.9 L647.17 287.34 L648.27 287.79 L649.36 288.26 L650.45 288.76 L651.54 289.27 L652.64 289.81 L653.73 290.37 L654.82 290.95 L655.91 291.55 L657.01 292.18 L658.1 292.83 L659.19 293.5 L660.28 294.19 L661.38 294.91 L662.47 295.65 L663.56 296.41 L664.65 297.2 L665.75 298 L666.84 298.83 L667.93 299.67 L669.02 300.54 L670.12 301.42 L671.21 302.32 L672.3 303.26 L672.3 310.86 L671.21 309.88 L670.12 308.91 L669.02 307.95 L667.93 307 L666.84 306.08 L665.75 305.18 L664.65 304.29 L663.56 303.43 L662.47 302.59 L661.38 301.77 L660.28 300.97 L659.19 300.2 L658.1 299.44 L657.01 298.7 L655.91 297.99 L654.82 297.3 L653.73 296.63 L652.64 295.99 L651.54 295.36 L650.45 294.76 L649.36 294.18 L648.27 293.62 L647.17 293.08 L646.08 292.56 L644.99 292.05 L643.9 291.55 L642.81 291.08 L641.71 290.62 L640.62 290.17 L639.53 289.75 L638.44 289.34 L637.34 288.95 L636.25 288.57 L635.16 288.21 L634.07 287.86 L632.97 287.52 L631.88 287.2 L630.79 286.89 L629.7 286.6 L628.6 286.32 L627.51 286.05 L626.42 285.79 L625.33 285.55 L624.23 285.31 L623.14 285.08 L622.05 284.87 L620.96 284.66 L619.86 284.45 L618.77 284.26 L617.68 284.07 L616.59 283.89 L615.49 283.72 L614.4 283.57 L613.31 283.43 L612.22 283.29 L611.13 283.16 L610.03 283.03 L608.94 282.91 L607.85 282.8 L606.76 282.68 L605.66 282.58 L604.57 282.47 L603.48 282.37 L602.39 282.28 L601.29 282.18 L600.2 282.1 L599.11 282.01 L598.02 281.93 L596.92 281.85 L595.83 281.78 L594.74 281.71 L593.65 281.64 L592.55 281.58 L591.46 281.52 L590.37 281.45 L589.28 281.4 L588.18 281.34 L587.09 281.28 L586 281.23 Z" fill="#90ee90" fill-opacity="0.8"/>
<path d="M586 280.4 L587.09 280.4 L588.18 280.4 L589.28 280.42 L590.37 280.45 L591.46 280.47 L592.55 280.51 L593.65 280.54 L594.74 280.58 L595.83 280.62 L596.92 280.66 L598.02 280.71 L599.11 280.76 L600.2 280.81 L601.29 280.87 L602.39 280.93 L603.48 281 L604.57 281.07 L605.66 281.15 L606.76 281.23 L607.85 281.32 L608.94 281.41 L610.03 281.51 L611.13 281.62 L612.22 281.74 L613.31 281.86 L614.4 281.99 L615.49 282.12 L616.59 282.25 L617.68 282.39 L618.77 282.54 L619.86 282.7 L620.96 282.87 L622.05 283.05 L623.14 283.24 L624.23 283.44 L625.33 283.65 L626.42 283.88 L627.51 284.11 L628.6 284.36 L629.7 284.62 L630.79 284.9 L631.88 285.18 L632.97 285.48 L634.07 285.79 L635.16 286.12 L636.25 286.47 L637.34 286.83 L638.44 287.22 L639.53 287.62 L640.62 288.04 L641.71 288.47 L642.81 288.93 L643.9 289.42 L644.99 289.92 L646.08 290.44 L647.17 290.99 L648.27 291.56 L649.36 292.15 L650.45 292.77 L651.54 293.42 L652.64 294.09 L653.73 294.78 L654.82 295.51 L655.91 296.26 L657.01 297.04 L658.1 297.84 L659.19 298.68 L660.28 299.54 L661.38 300.42 L662.47 301.34 L663.56 302.28 L664.65 303.24 L665.75 304.24 L666.84 305.27 L667.93 306.32 L669.02 307.41 L670.12 308.52 L671.21 309.65 L672.3 310.85 L672.3 319.85 L671.21 318.59 L670.12 317.32 L669.02 316.08 L667.93 314.86 L666.84 313.66 L665.75 312.5 L664.65 311.37 L663.56 310.26 L662.47 309.19 L661.38 308.14 L660.28 307.12 L659.19 306.14 L658.1 305.19 L657.01 304.27 L655.91 303.37 L654.82 302.51 L653.73 301.67 L652.64 300.85 L651.54 300.07 L650.45 299.31 L649.36 298.57 L648.27 297.86 L647.17 297.17 L646.08 296.51 L644.99 295.87 L643.9 295.25 L642.81 294.66 L641.71 294.08 L640.62 293.53 L639.53 292.99 L638.44 292.48 L637.34 291.98 L636.25 291.5 L635.16 291.04 L634.07 290.59 L632.97 290.16 L631.88 289.75 L630.79 289.35 L629.7 288.97 L628.6 288.61 L627.51 288.26 L626.42 287.92 L625.33 287.59 L624.23 287.28 L623.14 286.98 L622.05 286.69 L620.96 286.41 L619.86 286.14 L618.77 285.87 L617.68 285.62 L616.59 285.38 L615.49 285.15 L614.4 284.93 L613.31 284.72 L612.22 284.52 L611.13 284.33 L610.03 284.15 L608.94 283.97 L607.85 283.8 L606.76 283.63 L605.66 283.47 L604.57 283.31 L603.48 283.16 L602.39 283.02 L601.29 282.88 L600.2 282.75 L599.11 282.61 L598.02 282.49 L596.92 282.37 L595.83 282.25 L594.74 282.14 L593.65 282.04 L592.55 281.93 L591.46 281.83 L590.37 281.73 L589.28 281.63 L588.18 281.54 L587.09 281.45 L586 281.36 Z" fill="#f6a8a8" fill-opacity="0.8"/>
<path d="M586 281.12 L587.09 281.19 L588.18 281.26 L589.28 281.35 L590.37 281.43 L591.46 281.53 L592.55 281.62 L593.65 281.73 L594.74 281.84 L595.83 281.96 L596.92 282.09 L598.02 282.22 L599.11 282.35 L600.2 282.48 L601.29 282.62 L602.39 282.77 L603.48 282.93 L604.57 283.1 L605.66 283.28 L606.76 283.47 L607.85 283.67 L608.94 283.89 L610.03 284.11 L611.13 284.35 L612.22 284.6 L613.31 284.86 L614.4 285.14 L615.49 285.43 L616.59 285.73 L617.68 286.04 L618.77 286.37 L619.86 286.72 L620.96 287.09 L622.05 287.47 L623.14 287.87 L624.23 288.29 L625.33 288.73 L626.42 289.2 L627.51 289.68 L628.6 290.18 L629.7 290.71 L630.79 291.26 L631.88 291.83 L632.97 292.42 L634.07 293.05 L635.16 293.69 L636.25 294.37 L637.34 295.06 L638.44 295.79 L639.53 296.54 L640.62 297.32 L641.71 298.13 L642.81 298.97 L643.9 299.83 L644.99 300.72 L646.08 301.66 L647.17 302.62 L648.27 303.62 L649.36 304.64 L650.45 305.69 L651.54 306.77 L652.64 307.88 L653.73 309.01 L654.82 310.17 L655.91 311.36 L657.01 312.57 L658.1 313.8 L659.19 315.06 L660.28 316.34 L661.38 317.64 L662.47 318.96 L663.56 320.29 L664.65 321.64 L665.75 323 L666.84 324.37 L667.93 325.75 L669.02 327.13 L670.12 328.51 L671.21 329.89 L672.3 331.29 L672.3 340.49 L671.21 339.05 L670.12 337.6 L669.02 336.14 L667.93 334.68 L666.84 333.22 L665.75 331.78 L664.65 330.34 L663.56 328.91 L662.47 327.5 L661.38 326.1 L660.28 324.72 L659.19 323.36 L658.1 322.02 L657.01 320.69 L655.91 319.4 L654.82 318.12 L653.73 316.87 L652.64 315.65 L651.54 314.46 L650.45 313.29 L649.36 312.15 L648.27 311.04 L647.17 309.96 L646.08 308.91 L644.99 307.88 L643.9 306.87 L642.81 305.89 L641.71 304.94 L640.62 304.01 L639.53 303.12 L638.44 302.25 L637.34 301.41 L636.25 300.6 L635.16 299.81 L634.07 299.05 L632.97 298.31 L631.88 297.6 L630.79 296.91 L629.7 296.25 L628.6 295.6 L627.51 294.99 L626.42 294.39 L625.33 293.81 L624.23 293.25 L623.14 292.72 L622.05 292.2 L620.96 291.7 L619.86 291.22 L618.77 290.75 L617.68 290.3 L616.59 289.87 L615.49 289.46 L614.4 289.06 L613.31 288.68 L612.22 288.31 L611.13 287.96 L610.03 287.62 L608.94 287.29 L607.85 286.98 L606.76 286.67 L605.66 286.38 L604.57 286.09 L603.48 285.82 L602.39 285.56 L601.29 285.3 L600.2 285.06 L599.11 284.82 L598.02 284.6 L596.92 284.39 L595.83 284.2 L594.74 284.01 L593.65 283.83 L592.55 283.65 L591.46 283.48 L590.37 283.32 L589.28 283.16 L588.18 283.01 L587.09 282.86 L586 282.72 Z" fill="#f4a0f4" fill-opacity="0.8"/>
<path d="M586 282.74 L587.09 282.8 L588.18 282.86 L589.28 282.93 L590.37 283 L591.46 283.09 L592.55 283.19 L593.65 283.31 L594.74 283.43 L595.83 283.57 L596.92 283.72 L598.02 283.89 L599.11 284.06 L600.2 284.25 L601.29 284.45 L602.39 284.67 L603.48 284.92 L604.57 285.19 L605.66 285.48 L606.76 285.8 L607.85 286.15 L608.94 286.52 L610.03 286.93 L611.13 287.37 L612.22 287.84 L613.31 288.35 L614.4 288.89 L615.49 289.46 L616.59 290.06 L617.68 290.7 L618.77 291.38 L619.86 292.1 L620.96 292.85 L622.05 293.66 L623.14 294.52 L624.23 295.42 L625.33 296.35 L626.42 297.33 L627.51 298.35 L628.6 299.4 L629.7 300.48 L630.79 301.61 L631.88 302.78 L632.97 303.98 L634.07 305.21 L635.16 306.46 L636.25 307.72 L637.34 309 L638.44 310.3 L639.53 311.6 L640.62 312.9 L641.71 314.21 L642.81 315.52 L643.9 316.82 L644.99 318.12 L646.08 319.43 L647.17 320.74 L648.27 322.04 L649.36 323.32 L650.45 324.58 L651.54 325.83 L652.64 327.04 L653.73 328.24 L654.82 329.41 L655.91 330.56 L657.01 331.68 L658.1 332.77 L659.19 333.83 L660.28 334.87 L661.38 335.87 L662.47 336.85 L663.56 337.8 L664.65 338.72 L665.75 339.62 L666.84 340.48 L667.93 341.32 L669.02 342.13 L670.12 342.91 L671.21 343.67 L672.3 344.4 L672.3 352.4 L671.21 351.67 L670.12 350.91 L669.02 350.13 L667.93 349.32 L666.84 348.48 L665.75 347.62 L664.65 346.72 L663.56 345.8 L662.47 344.85 L661.38 343.87 L660.28 342.87 L659.19 341.83 L658.1 340.77 L657.01 339.68 L655.91 338.56 L654.82 337.41 L653.73 336.24 L652.64 335.04 L651.54 333.83 L650.45 332.58 L649.36 331.32 L648.27 330.04 L647.17 328.74 L646.08 327.43 L644.99 326.09 L643.9 324.72 L642.81 323.35 L641.71 321.97 L640.62 320.59 L639.53 319.21 L638.44 317.83 L637.34 316.47 L636.25 315.12 L635.16 313.78 L634.07 312.46 L632.97 311.16 L631.88 309.89 L630.79 308.64 L629.7 307.41 L628.6 306.2 L627.51 305.02 L626.42 303.88 L625.33 302.77 L624.23 301.71 L623.14 300.68 L622.05 299.69 L620.96 298.73 L619.86 297.81 L618.77 296.92 L617.68 296.08 L616.59 295.27 L615.49 294.51 L614.4 293.79 L613.31 293.12 L612.22 292.49 L611.13 291.88 L610.03 291.32 L608.94 290.78 L607.85 290.27 L606.76 289.8 L605.66 289.35 L604.57 288.93 L603.48 288.53 L602.39 288.15 L601.29 287.8 L600.2 287.47 L599.11 287.15 L598.02 286.86 L596.92 286.61 L595.83 286.37 L594.74 286.14 L593.65 285.93 L592.55 285.72 L591.46 285.54 L590.37 285.36 L589.28 285.19 L588.18 285.03 L587.09 284.88 L586 284.74 Z" fill="#9cc0f8" fill-opacity="0.8"/>
<path d="M586 280.69 L587.09 280.71 L588.18 280.73 L589.28 280.75 L590.37 280.78 L591.46 280.8 L592.55 280.82 L593.65 280.85 L594.74 280.88 L595.83 280.91 L596.92 280.94 L598.02 280.97 L599.11 281 L600.2 281.04 L601.29 281.08 L602.39 281.12 L603.48 281.16 L604.57 281.2 L605.66 281.25 L606.76 281.29 L607.85 281.34 L608.94 281.4 L610.03 281.45 L611.13 281.51 L612.22 281.57 L613.31 281.63 L614.4 281.7 L615.49 281.77 L616.59 281.84 L617.68 281.92 L618.77 282 L619.86 282.09 L620.96 282.17 L622.05 282.27 L623.14 282.37 L624.23 282.47 L625.33 282.57 L626.42 282.69 L627.51 282.8 L628.6 282.93 L629.7 283.05 L630.79 283.19 L631.88 283.33 L632.97 283.48 L634.07 283.63 L635.16 283.79 L636.25 283.96 L637.34 284.13 L638.44 284.32 L639.53 284.51 L640.62 284.71 L641.71 284.92 L642.81 285.13 L643.9 285.36 L644.99 285.6 L646.08 285.84 L647.17 286.1 L648.27 286.36 L649.36 286.64 L650.45 286.93 L651.54 287.23 L652.64 287.54 L653.73 287.86 L654.82 288.2 L655.91 288.54 L657.01 288.9 L658.1 289.28 L659.19 289.66 L660.28 290.06 L661.38 290.47 L662.47 290.9 L663.56 291.34 L664.65 291.79 L665.75 292.26 L666.84 292.74 L667.93 293.24 L669.02 293.75 L670.12 294.27 L671.21 294.81 L672.3 295.36" stroke="#000000" stroke-width="1.2" fill="none"/>
<line x1="597.13" y1="280.98" x2="599.53" y2="280.98" stroke="#000000" stroke-width="1"/>
<line x1="620.92" y1="282.27" x2="623.32" y2="282.27" stroke="#000000" stroke-width="1"/>
<line x1="634.11" y1="283.81" x2="636.51" y2="283.81" stroke="#000000" stroke-width="1"/>
<line x1="646.44" y1="286.21" x2="648.84" y2="286.21" stroke="#000000" stroke-width="1"/>
<line x1="658.77" y1="289.95" x2="661.17" y2="289.95" stroke="#000000" stroke-width="1"/>
<path d="M586 280.73 L587.09 280.76 L588.18 280.78 L589.28 280.82 L590.37 280.85 L591.46 280.88 L592.55 280.92 L593.65 280.96 L594.74 281 L595.83 281.04 L596.92 281.09 L598.02 281.14 L599.11 281.19 L600.2 281.24 L601.29 281.3 L602.39 281.36 L603.48 281.42 L604.57 281.49 L605.66 281.56 L606.76 281.63 L607.85 281.71 L608.94 281.8 L610.03 281.89 L611.13 281.98 L612.22 282.08 L613.31 282.18 L614.4 282.29 L615.49 282.41 L616.59 282.53 L617.68 282.66 L618.77 282.79 L619.86 282.94 L620.96 283.09 L622.05 283.25 L623.14 283.42 L624.23 283.59 L625.33 283.78 L626.42 283.97 L627.51 284.18 L628.6 284.4 L629.7 284.62 L630.79 284.86 L631.88 285.12 L632.97 285.38 L634.07 285.66 L635.16 285.95 L636.25 286.25 L637.34 286.57 L638.44 286.91 L639.53 287.26 L640.62 287.63 L641.71 288.01 L642.81 288.41 L643.9 288.83 L644.99 289.27 L646.08 289.73 L647.17 290.21 L648.27 290.7 L649.36 291.22 L650.45 291.76 L651.54 292.32 L652.64 292.9 L653.73 293.5 L654.82 294.13 L655.91 294.77 L657.01 295.44 L658.1 296.13 L659.19 296.85 L660.28 297.58 L661.38 298.34 L662.47 299.12 L663.56 299.92 L664.65 300.75 L665.75 301.59 L666.84 302.45 L667.93 303.34 L669.02 304.24 L670.12 305.16 L671.21 306.1 L672.3 307.06" stroke="#1fcc1f" stroke-width="1.2" fill="none"/>
<line x1="597.13" y1="281.15" x2="599.53" y2="281.15" stroke="#1fcc1f" stroke-width="1"/>
<line x1="620.92" y1="283.26" x2="623.32" y2="283.26" stroke="#1fcc1f" stroke-width="1"/>
<line x1="634.11" y1="285.99" x2="636.51" y2="285.99" stroke="#1fcc1f" stroke-width="1"/>
<line x1="646.44" y1="290.42" x2="648.84" y2="290.42" stroke="#1fcc1f" stroke-width="1"/>
<line x1="658.77" y1="297.37" x2="661.17" y2="297.37" stroke="#1fcc1f" stroke-width="1"/>
<path d="M586 280.86 L587.09 280.92 L588.18 280.97 L589.28 281.03 L590.37 281.09 L591.46 281.15 L592.55 281.22 L593.65 281.29 L594.74 281.36 L595.83 281.44 L596.92 281.52 L598.02 281.6 L599.11 281.69 L600.2 281.78 L601.29 281.88 L602.39 281.98 L603.48 282.08 L604.57 282.19 L605.66 282.31 L606.76 282.43 L607.85 282.56 L608.94 282.69 L610.03 282.83 L611.13 282.98 L612.22 283.13 L613.31 283.29 L614.4 283.46 L615.49 283.63 L616.59 283.82 L617.68 284.01 L618.77 284.21 L619.86 284.42 L620.96 284.64 L622.05 284.87 L623.14 285.11 L624.23 285.36 L625.33 285.62 L626.42 285.9 L627.51 286.18 L628.6 286.48 L629.7 286.8 L630.79 287.12 L631.88 287.47 L632.97 287.82 L634.07 288.19 L635.16 288.58 L636.25 288.99 L637.34 289.41 L638.44 289.85 L639.53 290.31 L640.62 290.78 L641.71 291.28 L642.81 291.8 L643.9 292.33 L644.99 292.89 L646.08 293.48 L647.17 294.08 L648.27 294.71 L649.36 295.36 L650.45 296.04 L651.54 296.74 L652.64 297.47 L653.73 298.22 L654.82 299.01 L655.91 299.82 L657.01 300.65 L658.1 301.52 L659.19 302.41 L660.28 303.33 L661.38 304.28 L662.47 305.26 L663.56 306.27 L664.65 307.31 L665.75 308.37 L666.84 309.47 L667.93 310.59 L669.02 311.74 L670.12 312.92 L671.21 314.12 L672.3 315.35" stroke="#ee2020" stroke-width="1.2" fill="none"/>
<line x1="597.13" y1="281.62" x2="599.53" y2="281.62" stroke="#ee2020" stroke-width="1"/>
<line x1="620.92" y1="284.88" x2="623.32" y2="284.88" stroke="#ee2020" stroke-width="1"/>
<line x1="634.11" y1="288.64" x2="636.51" y2="288.64" stroke="#ee2020" stroke-width="1"/>
<line x1="646.44" y1="294.35" x2="648.84" y2="294.35" stroke="#ee2020" stroke-width="1"/>
<line x1="658.77" y1="303.06" x2="661.17" y2="303.06" stroke="#ee2020" stroke-width="1"/>
<path d="M586 281.92 L587.09 282.02 L588.18 282.13 L589.28 282.25 L590.37 282.37 L591.46 282.5 L592.55 282.64 L593.65 282.78 L594.74 282.92 L595.83 283.08 L596.92 283.24 L598.02 283.41 L599.11 283.59 L600.2 283.77 L601.29 283.96 L602.39 284.17 L603.48 284.38 L604.57 284.6 L605.66 284.83 L606.76 285.07 L607.85 285.33 L608.94 285.59 L610.03 285.87 L611.13 286.15 L612.22 286.46 L613.31 286.77 L614.4 287.1 L615.49 287.44 L616.59 287.8 L617.68 288.17 L618.77 288.56 L619.86 288.97 L620.96 289.39 L622.05 289.83 L623.14 290.29 L624.23 290.77 L625.33 291.27 L626.42 291.79 L627.51 292.33 L628.6 292.89 L629.7 293.48 L630.79 294.08 L631.88 294.71 L632.97 295.37 L634.07 296.05 L635.16 296.75 L636.25 297.48 L637.34 298.24 L638.44 299.02 L639.53 299.83 L640.62 300.67 L641.71 301.53 L642.81 302.43 L643.9 303.35 L644.99 304.3 L646.08 305.28 L647.17 306.29 L648.27 307.33 L649.36 308.4 L650.45 309.49 L651.54 310.61 L652.64 311.77 L653.73 312.94 L654.82 314.15 L655.91 315.38 L657.01 316.63 L658.1 317.91 L659.19 319.21 L660.28 320.53 L661.38 321.87 L662.47 323.23 L663.56 324.6 L664.65 325.99 L665.75 327.39 L666.84 328.8 L667.93 330.21 L669.02 331.63 L670.12 333.05 L671.21 334.47 L672.3 335.89" stroke="#dd20dd" stroke-width="1.2" fill="none"/>
<line x1="597.13" y1="283.46" x2="599.53" y2="283.46" stroke="#dd20dd" stroke-width="1"/>
<line x1="620.92" y1="289.86" x2="623.32" y2="289.86" stroke="#dd20dd" stroke-width="1"/>
<line x1="634.11" y1="296.85" x2="636.51" y2="296.85" stroke="#dd20dd" stroke-width="1"/>
<line x1="646.44" y1="306.73" x2="648.84" y2="306.73" stroke="#dd20dd" stroke-width="1"/>
<line x1="658.77" y1="320.15" x2="661.17" y2="320.15" stroke="#dd20dd" stroke-width="1"/>
<path d="M586 283.74 L587.09 283.84 L588.18 283.95 L589.28 284.06 L590.37 284.18 L591.46 284.31 L592.55 284.46 L593.65 284.62 L594.74 284.78 L595.83 284.97 L596.92 285.16 L598.02 285.38 L599.11 285.61 L600.2 285.86 L601.29 286.12 L602.39 286.41 L603.48 286.72 L604.57 287.06 L605.66 287.41 L606.76 287.8 L607.85 288.21 L608.94 288.65 L610.03 289.12 L611.13 289.63 L612.22 290.16 L613.31 290.73 L614.4 291.34 L615.49 291.99 L616.59 292.67 L617.68 293.39 L618.77 294.15 L619.86 294.95 L620.96 295.79 L622.05 296.68 L623.14 297.6 L624.23 298.56 L625.33 299.56 L626.42 300.61 L627.51 301.68 L628.6 302.8 L629.7 303.95 L630.79 305.13 L631.88 306.34 L632.97 307.57 L634.07 308.84 L635.16 310.12 L636.25 311.42 L637.34 312.74 L638.44 314.06 L639.53 315.4 L640.62 316.74 L641.71 318.09 L642.81 319.43 L643.9 320.77 L644.99 322.11 L646.08 323.43 L647.17 324.74 L648.27 326.04 L649.36 327.32 L650.45 328.58 L651.54 329.83 L652.64 331.04 L653.73 332.24 L654.82 333.41 L655.91 334.56 L657.01 335.68 L658.1 336.77 L659.19 337.83 L660.28 338.87 L661.38 339.87 L662.47 340.85 L663.56 341.8 L664.65 342.72 L665.75 343.62 L666.84 344.48 L667.93 345.32 L669.02 346.13 L670.12 346.91 L671.21 347.67 L672.3 348.4" stroke="#1e60ee" stroke-width="1.2" fill="none"/>
<line x1="597.13" y1="285.44" x2="599.53" y2="285.44" stroke="#1e60ee" stroke-width="1"/>
<line x1="620.92" y1="296.74" x2="623.32" y2="296.74" stroke="#1e60ee" stroke-width="1"/>
<line x1="634.11" y1="310.3" x2="636.51" y2="310.3" stroke="#1e60ee" stroke-width="1"/>
<line x1="646.44" y1="325.3" x2="648.84" y2="325.3" stroke="#1e60ee" stroke-width="1"/>
<line x1="658.77" y1="338.57" x2="661.17" y2="338.57" stroke="#1e60ee" stroke-width="1"/>
<line x1="583" y1="356.33" x2="586" y2="356.33" stroke="#000" stroke-width="1.5"/>
<line x1="583" y1="334.77" x2="586" y2="334.77" stroke="#000" stroke-width="1.5"/>
<line x1="583" y1="313.23" x2="586" y2="313.23" stroke="#000" stroke-width="1.5"/>
<line x1="583" y1="291.67" x2="586" y2="291.67" stroke="#000" stroke-width="1.5"/>
<line x1="581.6" y1="367.1" x2="586" y2="367.1" stroke="#000" stroke-width="1.4"/>
<text x="581" y="370.44" font-size="8.5" text-anchor="end" fill="#111" stroke="#111" stroke-width="0.25">0</text>
<line x1="581.6" y1="345.55" x2="586" y2="345.55" stroke="#000" stroke-width="1.4"/>
<text x="581" y="348.89" font-size="8.5" text-anchor="end" fill="#111" stroke="#111" stroke-width="0.25">25</text>
<line x1="581.6" y1="324" x2="586" y2="324" stroke="#000" stroke-width="1.4"/>
<text x="581" y="327.34" font-size="8.5" text-anchor="end" fill="#111" stroke="#111" stroke-width="0.25">50</text>
<line x1="581.6" y1="302.45" x2="586" y2="302.45" stroke="#000" stroke-width="1.4"/>
<text x="581" y="305.79" font-size="8.5" text-anchor="end" fill="#111" stroke="#111" stroke-width="0.25">75</text>
<line x1="581.6" y1="280.9" x2="586" y2="280.9" stroke="#000" stroke-width="1.4"/>
<text x="581" y="284.24" font-size="8.5" text-anchor="end" fill="#111" stroke="#111" stroke-width="0.25">100</text>
<line x1="586" y1="367.1" x2="586" y2="370.1" stroke="#000" stroke-width="1.3"/>
<line x1="598.33" y1="367.1" x2="598.33" y2="370.1" stroke="#000" stroke-width="1.3"/>
<line x1="610.66" y1="367.1" x2="610.66" y2="370.1" stroke="#000" stroke-width="1.3"/>
<line x1="622.99" y1="367.1" x2="622.99" y2="370.1" stroke="#000" stroke-width="1.3"/>
<line x1="635.31" y1="367.1" x2="635.31" y2="370.1" stroke="#000" stroke-width="1.3"/>
<line x1="647.64" y1="367.1" x2="647.64" y2="370.1" stroke="#000" stroke-width="1.3"/>
<line x1="659.97" y1="367.1" x2="659.97" y2="370.1" stroke="#000" stroke-width="1.3"/>
<line x1="672.3" y1="367.1" x2="672.3" y2="370.1" stroke="#000" stroke-width="1.3"/>
<line x1="589.97" y1="367.1" x2="589.97" y2="369.1" stroke="#000" stroke-width="1"/>
<line x1="593.21" y1="367.1" x2="593.21" y2="369.1" stroke="#000" stroke-width="1"/>
<line x1="595.95" y1="367.1" x2="595.95" y2="369.1" stroke="#000" stroke-width="1"/>
<line x1="602.3" y1="367.1" x2="602.3" y2="369.1" stroke="#000" stroke-width="1"/>
<line x1="605.54" y1="367.1" x2="605.54" y2="369.1" stroke="#000" stroke-width="1"/>
<line x1="608.28" y1="367.1" x2="608.28" y2="369.1" stroke="#000" stroke-width="1"/>
<line x1="614.63" y1="367.1" x2="614.63" y2="369.1" stroke="#000" stroke-width="1"/>
<line x1="617.87" y1="367.1" x2="617.87" y2="369.1" stroke="#000" stroke-width="1"/>
<line x1="620.61" y1="367.1" x2="620.61" y2="369.1" stroke="#000" stroke-width="1"/>
<line x1="626.95" y1="367.1" x2="626.95" y2="369.1" stroke="#000" stroke-width="1"/>
<line x1="630.2" y1="367.1" x2="630.2" y2="369.1" stroke="#000" stroke-width="1"/>
<line x1="632.94" y1="367.1" x2="632.94" y2="369.1" stroke="#000" stroke-width="1"/>
<line x1="639.28" y1="367.1" x2="639.28" y2="369.1" stroke="#000" stroke-width="1"/>
<line x1="642.53" y1="367.1" x2="642.53" y2="369.1" stroke="#000" stroke-width="1"/>
<line x1="645.27" y1="367.1" x2="645.27" y2="369.1" stroke="#000" stroke-width="1"/>
<line x1="651.61" y1="367.1" x2="651.61" y2="369.1" stroke="#000" stroke-width="1"/>
<line x1="654.85" y1="367.1" x2="654.85" y2="369.1" stroke="#000" stroke-width="1"/>
<line x1="657.6" y1="367.1" x2="657.6" y2="369.1" stroke="#000" stroke-width="1"/>
<line x1="663.94" y1="367.1" x2="663.94" y2="369.1" stroke="#000" stroke-width="1"/>
<line x1="667.18" y1="367.1" x2="667.18" y2="369.1" stroke="#000" stroke-width="1"/>
<line x1="669.92" y1="367.1" x2="669.92" y2="369.1" stroke="#000" stroke-width="1"/>
<text x="585.4" y="380.03" font-size="9.3" text-anchor="middle" fill="#111" stroke="#111" stroke-width="0.25">2<tspan font-size="70%" dy="-3">-1</tspan></text>
<text x="597.73" y="380.03" font-size="9.3" text-anchor="middle" fill="#111" stroke="#111" stroke-width="0.25">2<tspan font-size="70%" dy="-3">0</tspan></text>
<text x="610.06" y="380.03" font-size="9.3" text-anchor="middle" fill="#111" stroke="#111" stroke-width="0.25">2<tspan font-size="70%" dy="-3">1</tspan></text>
<text x="622.39" y="380.03" font-size="9.3" text-anchor="middle" fill="#111" stroke="#111" stroke-width="0.25">2<tspan font-size="70%" dy="-3">2</tspan></text>
<text x="634.71" y="380.03" font-size="9.3" text-anchor="middle" fill="#111" stroke="#111" stroke-width="0.25">2<tspan font-size="70%" dy="-3">3</tspan></text>
<text x="647.04" y="380.03" font-size="9.3" text-anchor="middle" fill="#111" stroke="#111" stroke-width="0.25">2<tspan font-size="70%" dy="-3">4</tspan></text>
<text x="659.37" y="380.03" font-size="9.3" text-anchor="middle" fill="#111" stroke="#111" stroke-width="0.25">2<tspan font-size="70%" dy="-3">5</tspan></text>
<text x="671.7" y="380.03" font-size="9.3" text-anchor="middle" fill="#111" stroke="#111" stroke-width="0.25">2<tspan font-size="70%" dy="-3">6</tspan></text>
<line x1="586" y1="280.1" x2="586" y2="368.1" stroke="#000" stroke-width="2.2"/>
<line x1="585" y1="367.1" x2="672.3" y2="367.1" stroke="#000" stroke-width="2.2"/>
<text x="629.7" y="392.97" font-size="9.7" font-weight="bold" text-anchor="middle" fill="#111" stroke="#111" stroke-width="0.12">Carboplatin (µM)</text>
<text x="564.4" y="325.77" font-size="9.7" font-weight="bold" text-anchor="middle" fill="#111" stroke="#111" stroke-width="0.12" transform="rotate(-90 564.4 322.3)">Viability (%)</text>
<line x1="591.1" y1="328.2" x2="599.9" y2="328.2" stroke="#000" stroke-width="1"/>
<line x1="595.5" y1="327.4" x2="595.5" y2="329" stroke="#000" stroke-width="0.8"/>
<text x="604.8" y="330.92" font-size="7.6" text-anchor="start" fill="#111" stroke="#111" stroke-width="0.25">ATQ 0 <tspan font-style="italic">µ</tspan>M</text>
<line x1="591.1" y1="335.9" x2="599.9" y2="335.9" stroke="#1fcc1f" stroke-width="1"/>
<line x1="595.5" y1="335.1" x2="595.5" y2="336.7" stroke="#1fcc1f" stroke-width="0.8"/>
<text x="604.8" y="338.62" font-size="7.6" text-anchor="start" fill="#111" stroke="#111" stroke-width="0.25">ATQ 8 <tspan font-style="italic">µ</tspan>M</text>
<line x1="591.1" y1="344.1" x2="599.9" y2="344.1" stroke="#ee2020" stroke-width="1"/>
<line x1="595.5" y1="343.3" x2="595.5" y2="344.9" stroke="#ee2020" stroke-width="0.8"/>
<text x="604.8" y="346.82" font-size="7.6" text-anchor="start" fill="#111" stroke="#111" stroke-width="0.25">ATQ 16 <tspan font-style="italic">µ</tspan>M</text>
<line x1="591.1" y1="352.4" x2="599.9" y2="352.4" stroke="#dd20dd" stroke-width="1"/>
<line x1="595.5" y1="351.6" x2="595.5" y2="353.2" stroke="#dd20dd" stroke-width="0.8"/>
<text x="604.8" y="355.12" font-size="7.6" text-anchor="start" fill="#111" stroke="#111" stroke-width="0.25">ATQ 32 <tspan font-style="italic">µ</tspan>M</text>
<line x1="591.1" y1="360.6" x2="599.9" y2="360.6" stroke="#1e60ee" stroke-width="1"/>
<line x1="595.5" y1="359.8" x2="595.5" y2="361.4" stroke="#1e60ee" stroke-width="0.8"/>
<text x="604.8" y="363.32" font-size="7.6" text-anchor="start" fill="#111" stroke="#111" stroke-width="0.25">ATQ 64 <tspan font-style="italic">µ</tspan>M</text>
<text x="555.2" y="414.64" font-size="13.8" font-weight="bold" text-anchor="start" fill="#000" stroke="#000" stroke-width="0.12">F</text>
<line x1="596.5" y1="499.79" x2="598.7" y2="499.79" stroke="#000" stroke-width="1"/>
<line x1="596.5" y1="492.12" x2="598.7" y2="492.12" stroke="#000" stroke-width="1"/>
<line x1="596.5" y1="486.68" x2="598.7" y2="486.68" stroke="#000" stroke-width="1"/>
<line x1="596.5" y1="482.46" x2="598.7" y2="482.46" stroke="#000" stroke-width="1"/>
<line x1="596.5" y1="479.01" x2="598.7" y2="479.01" stroke="#000" stroke-width="1"/>
<line x1="596.5" y1="476.1" x2="598.7" y2="476.1" stroke="#000" stroke-width="1"/>
<line x1="596.5" y1="473.57" x2="598.7" y2="473.57" stroke="#000" stroke-width="1"/>
<line x1="596.5" y1="471.34" x2="598.7" y2="471.34" stroke="#000" stroke-width="1"/>
<line x1="596.5" y1="456.24" x2="598.7" y2="456.24" stroke="#000" stroke-width="1"/>
<line x1="596.5" y1="448.57" x2="598.7" y2="448.57" stroke="#000" stroke-width="1"/>
<line x1="596.5" y1="443.13" x2="598.7" y2="443.13" stroke="#000" stroke-width="1"/>
<line x1="596.5" y1="438.91" x2="598.7" y2="438.91" stroke="#000" stroke-width="1"/>
<line x1="596.5" y1="435.46" x2="598.7" y2="435.46" stroke="#000" stroke-width="1"/>
<line x1="596.5" y1="432.55" x2="598.7" y2="432.55" stroke="#000" stroke-width="1"/>
<line x1="596.5" y1="430.02" x2="598.7" y2="430.02" stroke="#000" stroke-width="1"/>
<line x1="596.5" y1="427.79" x2="598.7" y2="427.79" stroke="#000" stroke-width="1"/>
<line x1="594.9" y1="512.9" x2="598.7" y2="512.9" stroke="#000" stroke-width="1.5"/>
<text x="594.5" y="517.39" font-size="9.2" text-anchor="end" fill="#111" stroke="#111" stroke-width="0.25">10<tspan font-size="75%" dy="-3.2">1</tspan></text>
<line x1="594.9" y1="469.35" x2="598.7" y2="469.35" stroke="#000" stroke-width="1.5"/>
<text x="594.5" y="473.84" font-size="9.2" text-anchor="end" fill="#111" stroke="#111" stroke-width="0.25">10<tspan font-size="75%" dy="-3.2">2</tspan></text>
<line x1="594.9" y1="425.8" x2="598.7" y2="425.8" stroke="#000" stroke-width="1.5"/>
<text x="594.5" y="430.29" font-size="9.2" text-anchor="end" fill="#111" stroke="#111" stroke-width="0.25">10<tspan font-size="75%" dy="-3.2">3</tspan></text>
<line x1="607.85" y1="448.6" x2="607.85" y2="433.6" stroke="#000" stroke-width="1"/>
<line x1="604.65" y1="433.6" x2="611.05" y2="433.6" stroke="#000" stroke-width="1"/>
<rect x="602.2" y="448.6" width="11.3" height="64.3" fill="#808080" stroke="#222" stroke-width="1"/>
<line x1="623.95" y1="461" x2="623.95" y2="453.6" stroke="#000" stroke-width="1"/>
<line x1="620.75" y1="453.6" x2="627.15" y2="453.6" stroke="#000" stroke-width="1"/>
<rect x="618.4" y="461" width="11.1" height="51.9" fill="#808080" stroke="#222" stroke-width="1"/>
<line x1="639.6" y1="470.2" x2="639.6" y2="463.9" stroke="#000" stroke-width="1"/>
<line x1="636.4" y1="463.9" x2="642.8" y2="463.9" stroke="#000" stroke-width="1"/>
<rect x="633.8" y="470.2" width="11.6" height="42.7" fill="#808080" stroke="#222" stroke-width="1"/>
<line x1="655.1" y1="488.4" x2="655.1" y2="482.4" stroke="#000" stroke-width="1"/>
<line x1="651.9" y1="482.4" x2="658.3" y2="482.4" stroke="#000" stroke-width="1"/>
<rect x="649.7" y="488.4" width="10.8" height="24.5" fill="#808080" stroke="#222" stroke-width="1"/>
<line x1="671" y1="503.3" x2="671" y2="497.6" stroke="#000" stroke-width="1"/>
<line x1="667.8" y1="497.6" x2="674.2" y2="497.6" stroke="#000" stroke-width="1"/>
<rect x="665.6" y="503.3" width="10.8" height="9.6" fill="#808080" stroke="#222" stroke-width="1"/>
<line x1="598.7" y1="425" x2="598.7" y2="513.9" stroke="#000" stroke-width="2.2"/>
<line x1="597.7" y1="512.9" x2="683.5" y2="512.9" stroke="#000" stroke-width="2.2"/>
<line x1="606.5" y1="418.8" x2="670.4" y2="418.8" stroke="#8a8a8a" stroke-width="0.9"/>
<text x="640.7" y="418.63" font-size="6.5" text-anchor="middle" fill="#444" stroke="#444" stroke-width="0.25">****</text>
<line x1="607.4" y1="428.3" x2="625.8" y2="428.3" stroke="#8a8a8a" stroke-width="0.9"/>
<text x="616.6" y="427.61" font-size="7" font-style="italic" text-anchor="middle" fill="#444" stroke="#444" stroke-width="0.25">ns</text>
<line x1="622.9" y1="447.6" x2="641.3" y2="447.6" stroke="#8a8a8a" stroke-width="0.9"/>
<text x="632.1" y="446.91" font-size="7" font-style="italic" text-anchor="middle" fill="#444" stroke="#444" stroke-width="0.25">ns</text>
<line x1="638.6" y1="459" x2="657.6" y2="459" stroke="#8a8a8a" stroke-width="0.9"/>
<text x="648.1" y="458.31" font-size="7" text-anchor="middle" fill="#444" stroke="#444" stroke-width="0.25">*</text>
<line x1="654.7" y1="477.7" x2="672.8" y2="477.7" stroke="#8a8a8a" stroke-width="0.9"/>
<text x="663.75" y="477.01" font-size="7" font-style="italic" text-anchor="middle" fill="#444" stroke="#444" stroke-width="0.25">ns</text>
<text x="0" y="0" font-size="9.3" font-weight="bold" fill="#111" text-anchor="middle" transform="translate(574.2 468.8) rotate(-90)">Log Carboplatin IC<tspan font-size="70%" dy="2.5">50</tspan></text>
<text x="0" y="0" font-size="8.8" font-weight="bold" fill="#111" text-anchor="end" transform="translate(611.8 516) rotate(-90)">DMSO</text>
<text x="0" y="0" font-size="8.8" font-weight="bold" fill="#111" text-anchor="end" transform="translate(627.5 516) rotate(-90)">ATQ 8 <tspan font-style="italic">µ</tspan>M</text>
<text x="0" y="0" font-size="8.8" font-weight="bold" fill="#111" text-anchor="end" transform="translate(643 516) rotate(-90)">ATQ 16 <tspan font-style="italic">µ</tspan>M</text>
<text x="0" y="0" font-size="8.8" font-weight="bold" fill="#111" text-anchor="end" transform="translate(658.8 516) rotate(-90)">ATQ 32 <tspan font-style="italic">µ</tspan>M</text>
<text x="0" y="0" font-size="8.8" font-weight="bold" fill="#111" text-anchor="end" transform="translate(674.5 516) rotate(-90)">ATQ 64 <tspan font-style="italic">µ</tspan>M</text>
</svg></body></html>
